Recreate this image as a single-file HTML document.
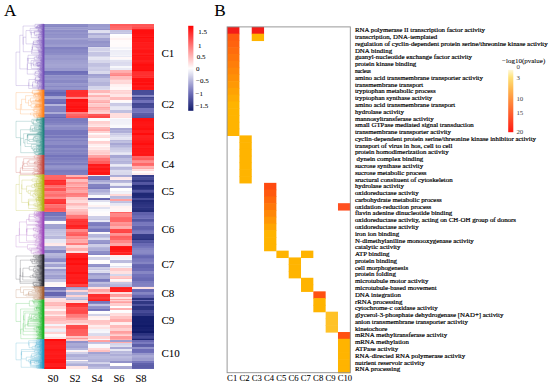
<!DOCTYPE html>
<html><head><meta charset="utf-8"><style>
html,body{margin:0;padding:0;background:#fff;}
svg{display:block;}
text{font-family:"Liberation Serif",serif;fill:#000;stroke:#000;stroke-width:0.06px;}
text.s{stroke-width:0.2px;}
</style></head><body>
<svg width="550" height="386" viewBox="0 0 550 386">
<rect width="550" height="386" fill="#fff"/>
<defs><linearGradient id="cbA" x1="0" y1="0" x2="0" y2="1"><stop offset="0.000" stop-color="#ff0101"/><stop offset="0.050" stop-color="#ff1b1b"/><stop offset="0.100" stop-color="#ff3434"/><stop offset="0.150" stop-color="#ff4d4d"/><stop offset="0.200" stop-color="#ff6666"/><stop offset="0.250" stop-color="#ff8080"/><stop offset="0.300" stop-color="#ff9999"/><stop offset="0.350" stop-color="#ffb2b2"/><stop offset="0.400" stop-color="#ffcbcb"/><stop offset="0.450" stop-color="#ffe4e4"/><stop offset="0.500" stop-color="#fffefe"/><stop offset="0.550" stop-color="#e7e7f3"/><stop offset="0.600" stop-color="#cecee7"/><stop offset="0.650" stop-color="#b5b5db"/><stop offset="0.700" stop-color="#9c9ccf"/><stop offset="0.750" stop-color="#8383c2"/><stop offset="0.800" stop-color="#6a6bb5"/><stop offset="0.850" stop-color="#5557a3"/><stop offset="0.900" stop-color="#3f4490"/><stop offset="0.950" stop-color="#29317e"/><stop offset="1.000" stop-color="#141d6b"/></linearGradient><linearGradient id="cbB" x1="0" y1="0" x2="0" y2="1"><stop offset="0" stop-color="#fff8d8"/><stop offset="0.12" stop-color="#ffe27a"/><stop offset="0.3" stop-color="#ffba52"/><stop offset="0.5" stop-color="#ff8c3c"/><stop offset="0.75" stop-color="#ff5428"/><stop offset="1" stop-color="#ff1a14"/></linearGradient></defs><rect x="188.2" y="25.8" width="5.2" height="85" fill="url(#cbA)"/><text x="198.3" y="34.00" font-size="7">1.5</text><text x="197.9" y="47.50" font-size="7">1</text><text x="196.7" y="59.20" font-size="7">0.5</text><text x="196" y="71.10" font-size="7">0</text><text x="196" y="83.20" font-size="7">−0.5</text><text x="195.6" y="96.00" font-size="7">−1</text><text x="195.5" y="107.60" font-size="7">−1.5</text><rect x="508.2" y="69.8" width="5.1" height="62.4" fill="url(#cbB)"/><text x="516.4" y="69.00" font-size="6.9" style="fill:#444;stroke:none">0</text><text x="516.4" y="79.60" font-size="6.9" style="fill:#444;stroke:none">3</text><text x="516.4" y="101.00" font-size="6.9" style="fill:#444;stroke:none">10</text><text x="516.4" y="115.00" font-size="6.9" style="fill:#444;stroke:none">15</text><text x="516.4" y="133.70" font-size="6.9" style="fill:#444;stroke:none">20</text><text x="502" y="63.3" font-size="7">−log10(pvalue)</text>
<g shape-rendering="crispEdges"><rect x="44.4" y="24.00" width="43.6" height="2.30" fill="#8d8dc7"/>
<rect x="44.4" y="26.00" width="43.6" height="1.30" fill="#8787c4"/>
<rect x="44.4" y="27.00" width="43.6" height="1.30" fill="#a0a0d0"/>
<rect x="44.4" y="28.00" width="43.6" height="1.30" fill="#9797cc"/>
<rect x="44.4" y="29.00" width="43.6" height="1.30" fill="#a2a2d1"/>
<rect x="44.4" y="30.00" width="43.6" height="1.80" fill="#8d8dc7"/>
<rect x="44.4" y="31.50" width="43.6" height="2.80" fill="#9595cb"/>
<rect x="44.4" y="34.00" width="43.6" height="1.30" fill="#8e8ec8"/>
<rect x="44.4" y="35.00" width="43.6" height="2.80" fill="#9393ca"/>
<rect x="44.4" y="37.50" width="43.6" height="1.30" fill="#a5a5d3"/>
<rect x="44.4" y="38.50" width="43.6" height="1.30" fill="#9e9ecf"/>
<rect x="44.4" y="39.50" width="43.6" height="2.80" fill="#9393ca"/>
<rect x="44.4" y="42.00" width="43.6" height="1.80" fill="#9393ca"/>
<rect x="44.4" y="43.50" width="43.6" height="1.80" fill="#9898cd"/>
<rect x="44.4" y="45.00" width="43.6" height="1.80" fill="#9d9dcf"/>
<rect x="44.4" y="46.50" width="43.6" height="0.80" fill="#9e9ecf"/>
<rect x="44.4" y="47.00" width="43.6" height="1.80" fill="#8080c1"/>
<rect x="44.4" y="48.50" width="43.6" height="1.80" fill="#8686c4"/>
<rect x="44.4" y="50.00" width="43.6" height="1.30" fill="#8989c5"/>
<rect x="44.4" y="51.00" width="43.6" height="1.80" fill="#8888c5"/>
<rect x="44.4" y="52.50" width="43.6" height="2.80" fill="#8e8ec8"/>
<rect x="44.4" y="55.00" width="43.6" height="2.80" fill="#9b9bce"/>
<rect x="44.4" y="57.50" width="43.6" height="2.80" fill="#9797cc"/>
<rect x="44.4" y="60.00" width="43.6" height="1.80" fill="#9f9fd0"/>
<rect x="44.4" y="61.50" width="43.6" height="0.80" fill="#9191c9"/>
<rect x="44.4" y="62.00" width="43.6" height="2.30" fill="#a1a1d1"/>
<rect x="44.4" y="64.00" width="43.6" height="2.30" fill="#a5a5d3"/>
<rect x="44.4" y="66.00" width="43.6" height="2.30" fill="#a3a3d2"/>
<rect x="44.4" y="68.00" width="43.6" height="1.30" fill="#9999cd"/>
<rect x="44.4" y="69.00" width="43.6" height="2.30" fill="#9a9ace"/>
<rect x="44.4" y="71.00" width="43.6" height="2.30" fill="#6e6eb8"/>
<rect x="44.4" y="73.00" width="43.6" height="2.30" fill="#7474bb"/>
<rect x="44.4" y="75.00" width="43.6" height="1.30" fill="#9898cc"/>
<rect x="44.4" y="76.00" width="43.6" height="2.30" fill="#8f8fc8"/>
<rect x="44.4" y="78.00" width="43.6" height="2.30" fill="#9494cb"/>
<rect x="44.4" y="80.00" width="43.6" height="2.80" fill="#8989c5"/>
<rect x="44.4" y="82.50" width="43.6" height="1.30" fill="#9b9bce"/>
<rect x="44.4" y="83.50" width="43.6" height="2.80" fill="#9696cc"/>
<rect x="44.4" y="86.00" width="43.6" height="1.30" fill="#8989c5"/>
<rect x="44.4" y="87.00" width="43.6" height="2.30" fill="#9595cb"/>
<rect x="44.4" y="89.00" width="43.6" height="1.10" fill="#8e8ec8"/>
<rect x="44.4" y="89.80" width="21.6" height="2.80" fill="#7676bc"/>
<rect x="44.4" y="92.30" width="21.6" height="2.30" fill="#6667b1"/>
<rect x="44.4" y="94.30" width="21.6" height="2.00" fill="#6b6cb6"/>
<rect x="44.4" y="96.00" width="21.6" height="1.30" fill="#a1a1d1"/>
<rect x="44.4" y="97.00" width="21.6" height="1.80" fill="#a6a6d4"/>
<rect x="44.4" y="98.50" width="21.6" height="0.80" fill="#a6a6d3"/>
<rect x="44.4" y="99.00" width="21.6" height="2.80" fill="#7373ba"/>
<rect x="44.4" y="101.50" width="21.6" height="2.80" fill="#6d6db7"/>
<rect x="44.4" y="104.00" width="21.6" height="2.30" fill="#b5b5db"/>
<rect x="44.4" y="106.00" width="21.6" height="2.30" fill="#8484c3"/>
<rect x="44.4" y="108.00" width="21.6" height="2.80" fill="#8484c3"/>
<rect x="44.4" y="110.50" width="21.6" height="1.80" fill="#8181c1"/>
<rect x="44.4" y="112.00" width="21.6" height="2.30" fill="#acacd6"/>
<rect x="44.4" y="114.00" width="21.6" height="2.80" fill="#7777bd"/>
<rect x="44.4" y="116.50" width="21.6" height="1.40" fill="#6767b2"/>
<rect x="44.4" y="117.60" width="43.6" height="1.80" fill="#7e7ec0"/>
<rect x="44.4" y="119.10" width="43.6" height="1.80" fill="#7a7abe"/>
<rect x="44.4" y="120.60" width="43.6" height="1.80" fill="#7f7fc0"/>
<rect x="44.4" y="122.10" width="43.6" height="1.30" fill="#7d7dbf"/>
<rect x="44.4" y="123.10" width="43.6" height="2.20" fill="#8686c4"/>
<rect x="44.4" y="125.00" width="43.6" height="2.30" fill="#9797cc"/>
<rect x="44.4" y="127.00" width="43.6" height="1.30" fill="#8d8dc7"/>
<rect x="44.4" y="128.00" width="43.6" height="2.30" fill="#8c8cc7"/>
<rect x="44.4" y="130.00" width="43.6" height="2.80" fill="#7777bd"/>
<rect x="44.4" y="132.50" width="43.6" height="2.80" fill="#7777bc"/>
<rect x="44.4" y="135.00" width="43.6" height="1.30" fill="#8989c5"/>
<rect x="44.4" y="136.00" width="43.6" height="2.30" fill="#7979bd"/>
<rect x="44.4" y="138.00" width="43.6" height="2.30" fill="#8d8dc7"/>
<rect x="44.4" y="140.00" width="43.6" height="1.30" fill="#8181c1"/>
<rect x="44.4" y="141.00" width="43.6" height="1.80" fill="#8c8cc7"/>
<rect x="44.4" y="142.50" width="43.6" height="2.30" fill="#8d8dc7"/>
<rect x="44.4" y="144.50" width="43.6" height="0.80" fill="#9393ca"/>
<rect x="44.4" y="145.00" width="43.6" height="2.80" fill="#7d7dbf"/>
<rect x="44.4" y="147.50" width="43.6" height="2.30" fill="#8d8dc7"/>
<rect x="44.4" y="149.50" width="43.6" height="2.30" fill="#8383c2"/>
<rect x="44.4" y="151.50" width="43.6" height="1.30" fill="#8b8bc6"/>
<rect x="44.4" y="152.50" width="43.6" height="2.80" fill="#8383c2"/>
<rect x="44.4" y="155.00" width="43.6" height="2.30" fill="#7474bb"/>
<rect x="44.4" y="157.00" width="43.6" height="1.30" fill="#8282c2"/>
<rect x="44.4" y="158.00" width="43.6" height="2.30" fill="#7c7cbf"/>
<rect x="44.4" y="160.00" width="43.6" height="1.80" fill="#8484c3"/>
<rect x="44.4" y="161.50" width="43.6" height="1.80" fill="#8d8dc7"/>
<rect x="44.4" y="163.00" width="43.6" height="2.30" fill="#7d7dbf"/>
<rect x="44.4" y="165.00" width="43.6" height="1.30" fill="#9090c9"/>
<rect x="44.4" y="166.00" width="43.6" height="2.30" fill="#9595cb"/>
<rect x="44.4" y="168.00" width="43.6" height="1.30" fill="#8f8fc8"/>
<rect x="44.4" y="169.00" width="43.6" height="1.30" fill="#8b8bc6"/>
<rect x="44.4" y="170.00" width="43.6" height="1.80" fill="#7a7abe"/>
<rect x="44.4" y="171.50" width="43.6" height="1.80" fill="#7d7dbf"/>
<rect x="44.4" y="173.00" width="43.6" height="1.90" fill="#7f7fc0"/>
<rect x="44.4" y="174.60" width="21.6" height="1.80" fill="#ff6767"/>
<rect x="44.4" y="176.10" width="21.6" height="1.20" fill="#ff6868"/>
<rect x="44.4" y="177.00" width="21.6" height="1.80" fill="#ff6565"/>
<rect x="44.4" y="178.50" width="21.6" height="1.80" fill="#ff6262"/>
<rect x="44.4" y="180.00" width="21.6" height="1.30" fill="#ff2929"/>
<rect x="44.4" y="181.00" width="21.6" height="2.30" fill="#ff3434"/>
<rect x="44.4" y="183.00" width="21.6" height="1.80" fill="#ff2f2f"/>
<rect x="44.4" y="184.50" width="21.6" height="0.80" fill="#ff3434"/>
<rect x="44.4" y="185.00" width="21.6" height="2.30" fill="#ff6b6b"/>
<rect x="44.4" y="187.00" width="21.6" height="1.30" fill="#ff7d7d"/>
<rect x="44.4" y="188.00" width="21.6" height="1.30" fill="#ff5656"/>
<rect x="44.4" y="189.00" width="21.6" height="1.80" fill="#ff5353"/>
<rect x="44.4" y="190.50" width="21.6" height="0.80" fill="#ff4e4e"/>
<rect x="44.4" y="191.00" width="21.6" height="1.30" fill="#ff8484"/>
<rect x="44.4" y="192.00" width="21.6" height="2.30" fill="#ff7d7d"/>
<rect x="44.4" y="194.00" width="21.6" height="1.30" fill="#ff6e6e"/>
<rect x="44.4" y="195.00" width="21.6" height="1.30" fill="#ff6c6c"/>
<rect x="44.4" y="196.00" width="21.6" height="1.30" fill="#ff7575"/>
<rect x="44.4" y="197.00" width="21.6" height="1.80" fill="#ff8c8c"/>
<rect x="44.4" y="198.50" width="21.6" height="0.80" fill="#ff9393"/>
<rect x="44.4" y="199.00" width="21.6" height="2.80" fill="#ff3b3b"/>
<rect x="44.4" y="201.50" width="21.6" height="1.30" fill="#ff3636"/>
<rect x="44.4" y="202.50" width="21.6" height="1.80" fill="#ff3030"/>
<rect x="44.4" y="204.00" width="21.6" height="1.30" fill="#ff7c7c"/>
<rect x="44.4" y="205.00" width="21.6" height="2.80" fill="#ff6e6e"/>
<rect x="44.4" y="207.50" width="21.6" height="0.80" fill="#ff7272"/>
<rect x="44.4" y="208.00" width="21.6" height="2.80" fill="#ff5c5c"/>
<rect x="44.4" y="210.50" width="21.6" height="1.30" fill="#ff6666"/>
<rect x="44.4" y="211.50" width="21.6" height="1.80" fill="#6c6cb6"/>
<rect x="44.4" y="213.00" width="21.6" height="1.30" fill="#7676bc"/>
<rect x="44.4" y="214.00" width="21.6" height="1.80" fill="#7474bb"/>
<rect x="44.4" y="215.50" width="21.6" height="1.80" fill="#9292c9"/>
<rect x="44.4" y="217.00" width="21.6" height="1.80" fill="#8181c2"/>
<rect x="44.4" y="218.50" width="21.6" height="1.80" fill="#8787c4"/>
<rect x="44.4" y="220.00" width="21.6" height="1.30" fill="#9090c9"/>
<rect x="44.4" y="221.00" width="21.6" height="2.30" fill="#fafafd"/>
<rect x="44.4" y="223.00" width="21.6" height="0.80" fill="#fff8f8"/>
<rect x="44.4" y="223.50" width="21.6" height="1.30" fill="#a2a2d1"/>
<rect x="44.4" y="224.50" width="21.6" height="2.30" fill="#a2a2d1"/>
<rect x="44.4" y="226.50" width="21.6" height="2.80" fill="#a0a0d1"/>
<rect x="44.4" y="229.00" width="21.6" height="1.80" fill="#bebedf"/>
<rect x="44.4" y="230.50" width="21.6" height="1.30" fill="#c5c5e3"/>
<rect x="44.4" y="231.50" width="21.6" height="1.80" fill="#c0c0e0"/>
<rect x="44.4" y="233.00" width="21.6" height="1.80" fill="#c6c6e3"/>
<rect x="44.4" y="234.50" width="21.6" height="1.80" fill="#cfcfe7"/>
<rect x="44.4" y="236.00" width="21.6" height="1.30" fill="#b8b8dc"/>
<rect x="44.4" y="237.00" width="21.6" height="2.30" fill="#babadd"/>
<rect x="44.4" y="239.00" width="21.6" height="2.80" fill="#e8e8f4"/>
<rect x="44.4" y="241.50" width="21.6" height="1.30" fill="#eaeaf5"/>
<rect x="44.4" y="242.50" width="21.6" height="1.30" fill="#ffe7e7"/>
<rect x="44.4" y="243.50" width="21.6" height="2.30" fill="#ffebeb"/>
<rect x="44.4" y="245.50" width="21.6" height="0.80" fill="#ffe2e2"/>
<rect x="44.4" y="246.00" width="21.6" height="1.30" fill="#b5b5db"/>
<rect x="44.4" y="247.00" width="21.6" height="1.30" fill="#aeaed7"/>
<rect x="44.4" y="248.00" width="21.6" height="1.80" fill="#b3b3da"/>
<rect x="44.4" y="249.50" width="21.6" height="0.80" fill="#afafd8"/>
<rect x="44.4" y="250.00" width="21.6" height="2.80" fill="#8484c3"/>
<rect x="44.4" y="252.50" width="21.6" height="0.80" fill="#8888c5"/>
<rect x="44.4" y="253.00" width="21.6" height="1.80" fill="#b8b8dc"/>
<rect x="44.4" y="254.50" width="21.6" height="1.80" fill="#b6b6db"/>
<rect x="44.4" y="256.00" width="21.6" height="1.80" fill="#aeaed7"/>
<rect x="44.4" y="257.50" width="21.6" height="0.80" fill="#aeaed7"/>
<rect x="44.4" y="258.00" width="21.6" height="1.30" fill="#9696cb"/>
<rect x="44.4" y="259.00" width="21.6" height="2.80" fill="#8a8ac6"/>
<rect x="44.4" y="261.50" width="21.6" height="0.80" fill="#9898cd"/>
<rect x="44.4" y="262.00" width="21.6" height="1.80" fill="#c7c7e3"/>
<rect x="44.4" y="263.50" width="21.6" height="0.80" fill="#b7b7dc"/>
<rect x="44.4" y="264.00" width="21.6" height="1.80" fill="#a3a3d2"/>
<rect x="44.4" y="265.50" width="21.6" height="1.80" fill="#9f9fd0"/>
<rect x="44.4" y="267.00" width="21.6" height="1.30" fill="#d9d9ec"/>
<rect x="44.4" y="268.00" width="21.6" height="1.30" fill="#d4d4ea"/>
<rect x="44.4" y="269.00" width="21.6" height="1.80" fill="#9a9acd"/>
<rect x="44.4" y="270.50" width="21.6" height="2.80" fill="#ababd6"/>
<rect x="44.4" y="273.00" width="21.6" height="2.30" fill="#b3b3da"/>
<rect x="44.4" y="275.00" width="21.6" height="1.80" fill="#9e9ecf"/>
<rect x="44.4" y="276.50" width="21.6" height="1.30" fill="#a5a5d3"/>
<rect x="44.4" y="277.50" width="21.6" height="1.30" fill="#9d9dcf"/>
<rect x="44.4" y="278.50" width="21.6" height="0.80" fill="#a0a0d0"/>
<rect x="44.4" y="279.00" width="21.6" height="1.30" fill="#c3c3e1"/>
<rect x="44.4" y="280.00" width="21.6" height="2.30" fill="#c5c5e3"/>
<rect x="44.4" y="282.00" width="21.6" height="1.30" fill="#f7f7fb"/>
<rect x="44.4" y="283.00" width="21.6" height="1.80" fill="#fff5f5"/>
<rect x="44.4" y="284.50" width="21.6" height="1.30" fill="#fff9f9"/>
<rect x="44.4" y="285.50" width="21.6" height="1.40" fill="#fffafa"/>
<rect x="44.4" y="286.60" width="21.6" height="1.80" fill="#6a6ab5"/>
<rect x="44.4" y="288.10" width="21.6" height="1.80" fill="#7474bb"/>
<rect x="44.4" y="289.60" width="21.6" height="0.70" fill="#6c6db7"/>
<rect x="44.4" y="290.00" width="21.6" height="2.30" fill="#9e9ecf"/>
<rect x="44.4" y="292.00" width="21.6" height="1.30" fill="#6465af"/>
<rect x="44.4" y="293.00" width="21.6" height="1.80" fill="#6667b2"/>
<rect x="44.4" y="294.50" width="21.6" height="1.30" fill="#6465af"/>
<rect x="44.4" y="295.50" width="21.6" height="0.80" fill="#6a6bb5"/>
<rect x="44.4" y="296.00" width="21.6" height="2.30" fill="#9898cd"/>
<rect x="44.4" y="298.00" width="21.6" height="1.80" fill="#ffe3e3"/>
<rect x="44.4" y="299.50" width="21.6" height="0.50" fill="#ffdcdc"/>
<rect x="44.4" y="299.70" width="21.6" height="2.30" fill="#ffdfdf"/>
<rect x="44.4" y="301.70" width="21.6" height="0.60" fill="#ffe0e0"/>
<rect x="44.4" y="302.00" width="21.6" height="2.30" fill="#ffbbbb"/>
<rect x="44.4" y="304.00" width="21.6" height="1.30" fill="#ffbdbd"/>
<rect x="44.4" y="305.00" width="21.6" height="1.30" fill="#ffb4b4"/>
<rect x="44.4" y="306.00" width="21.6" height="1.80" fill="#ffd8d8"/>
<rect x="44.4" y="307.50" width="21.6" height="1.80" fill="#ffd9d9"/>
<rect x="44.4" y="309.00" width="21.6" height="2.30" fill="#fff5f5"/>
<rect x="44.4" y="311.00" width="21.6" height="1.80" fill="#ffc9c9"/>
<rect x="44.4" y="312.50" width="21.6" height="1.80" fill="#ffc9c9"/>
<rect x="44.4" y="314.00" width="21.6" height="1.30" fill="#ffd8d8"/>
<rect x="44.4" y="315.00" width="21.6" height="1.30" fill="#ffecec"/>
<rect x="44.4" y="316.00" width="21.6" height="1.80" fill="#ffbdbd"/>
<rect x="44.4" y="317.50" width="21.6" height="1.80" fill="#ffb5b5"/>
<rect x="44.4" y="319.00" width="21.6" height="1.30" fill="#ffbaba"/>
<rect x="44.4" y="320.00" width="21.6" height="1.30" fill="#ffbaba"/>
<rect x="44.4" y="321.00" width="21.6" height="2.80" fill="#ffcaca"/>
<rect x="44.4" y="323.50" width="21.6" height="0.80" fill="#ffcfcf"/>
<rect x="44.4" y="324.00" width="21.6" height="1.80" fill="#f5f5fa"/>
<rect x="44.4" y="325.50" width="21.6" height="0.80" fill="#f6f6fb"/>
<rect x="44.4" y="326.00" width="21.6" height="2.30" fill="#ffd1d1"/>
<rect x="44.4" y="328.00" width="21.6" height="1.30" fill="#ffe4e4"/>
<rect x="44.4" y="329.00" width="21.6" height="2.30" fill="#efeff7"/>
<rect x="44.4" y="331.00" width="21.6" height="1.30" fill="#e8e8f4"/>
<rect x="44.4" y="332.00" width="21.6" height="2.30" fill="#ffd3d3"/>
<rect x="44.4" y="334.00" width="21.6" height="2.30" fill="#fffafa"/>
<rect x="44.4" y="336.00" width="21.6" height="0.80" fill="#f9f9fc"/>
<rect x="44.4" y="336.50" width="21.6" height="1.80" fill="#ffe2e2"/>
<rect x="44.4" y="338.00" width="21.6" height="1.50" fill="#ffe5e5"/>
<rect x="44.4" y="339.20" width="21.6" height="2.30" fill="#ff0c0c"/>
<rect x="44.4" y="341.20" width="21.6" height="2.30" fill="#ff1b1b"/>
<rect x="44.4" y="343.20" width="21.6" height="2.30" fill="#ff1c1c"/>
<rect x="44.4" y="345.20" width="21.6" height="1.80" fill="#ff2020"/>
<rect x="44.4" y="346.70" width="21.6" height="2.80" fill="#ff1e1e"/>
<rect x="44.4" y="349.20" width="21.6" height="2.30" fill="#ff1616"/>
<rect x="44.4" y="351.20" width="21.6" height="1.80" fill="#ff1b1b"/>
<rect x="44.4" y="352.70" width="21.6" height="1.30" fill="#ff1e1e"/>
<rect x="44.4" y="353.70" width="21.6" height="1.30" fill="#ff1d1d"/>
<rect x="44.4" y="354.70" width="21.6" height="1.30" fill="#ff1818"/>
<rect x="44.4" y="355.70" width="21.6" height="2.30" fill="#ff1a1a"/>
<rect x="44.4" y="357.70" width="21.6" height="1.80" fill="#ff1e1e"/>
<rect x="44.4" y="359.20" width="21.6" height="1.80" fill="#ff1313"/>
<rect x="44.4" y="360.70" width="21.6" height="2.80" fill="#ff1010"/>
<rect x="44.4" y="363.20" width="21.6" height="2.80" fill="#ff1d1d"/>
<rect x="44.4" y="365.70" width="21.6" height="1.80" fill="#ff1f1f"/>
<rect x="44.4" y="367.20" width="21.6" height="1.70" fill="#ff1111"/>
<rect x="66" y="89.80" width="22" height="2.80" fill="#ff3030"/>
<rect x="66" y="92.30" width="22" height="1.80" fill="#ff2d2d"/>
<rect x="66" y="93.80" width="22" height="2.80" fill="#ff2f2f"/>
<rect x="66" y="96.30" width="22" height="1.00" fill="#ff3636"/>
<rect x="66" y="97.00" width="22" height="2.30" fill="#ff8484"/>
<rect x="66" y="99.00" width="22" height="1.30" fill="#ff0d0d"/>
<rect x="66" y="100.00" width="22" height="1.80" fill="#ff1212"/>
<rect x="66" y="101.50" width="22" height="2.30" fill="#ff1b1b"/>
<rect x="66" y="103.50" width="22" height="1.30" fill="#ff1818"/>
<rect x="66" y="104.50" width="22" height="1.30" fill="#ff1919"/>
<rect x="66" y="105.50" width="22" height="2.80" fill="#ff1111"/>
<rect x="66" y="108.00" width="22" height="1.30" fill="#ff1a1a"/>
<rect x="66" y="109.00" width="22" height="1.30" fill="#ff0f0f"/>
<rect x="66" y="110.00" width="22" height="2.30" fill="#ff1313"/>
<rect x="66" y="112.00" width="22" height="1.80" fill="#ff8181"/>
<rect x="66" y="113.50" width="22" height="0.80" fill="#ff7d7d"/>
<rect x="66" y="114.00" width="22" height="2.30" fill="#ff6565"/>
<rect x="66" y="116.00" width="22" height="1.90" fill="#ff5959"/>
<rect x="66" y="174.60" width="22" height="2.70" fill="#ffb4b4"/>
<rect x="66" y="177.00" width="22" height="2.30" fill="#ff6969"/>
<rect x="66" y="179.00" width="22" height="2.80" fill="#ffbcbc"/>
<rect x="66" y="181.50" width="22" height="2.80" fill="#ff9797"/>
<rect x="66" y="184.00" width="22" height="1.80" fill="#ffa9a9"/>
<rect x="66" y="185.50" width="22" height="1.80" fill="#ffb6b6"/>
<rect x="66" y="187.00" width="22" height="1.30" fill="#ff8989"/>
<rect x="66" y="188.00" width="22" height="2.30" fill="#ff9a9a"/>
<rect x="66" y="190.00" width="22" height="1.30" fill="#ffaaaa"/>
<rect x="66" y="191.00" width="22" height="1.80" fill="#ffa6a6"/>
<rect x="66" y="192.50" width="22" height="0.80" fill="#ff9d9d"/>
<rect x="66" y="193.00" width="22" height="2.30" fill="#ff7a7a"/>
<rect x="66" y="195.00" width="22" height="2.30" fill="#ff8383"/>
<rect x="66" y="197.00" width="22" height="2.80" fill="#ffc8c8"/>
<rect x="66" y="199.50" width="22" height="0.80" fill="#ffd4d4"/>
<rect x="66" y="200.00" width="22" height="2.30" fill="#ffdada"/>
<rect x="66" y="202.00" width="22" height="1.30" fill="#ffdddd"/>
<rect x="66" y="203.00" width="22" height="1.80" fill="#ffb8b8"/>
<rect x="66" y="204.50" width="22" height="1.30" fill="#ffc7c7"/>
<rect x="66" y="205.50" width="22" height="0.80" fill="#ffb3b3"/>
<rect x="66" y="206.00" width="22" height="2.30" fill="#ffd8d8"/>
<rect x="66" y="208.00" width="22" height="1.30" fill="#ffe2e2"/>
<rect x="66" y="209.00" width="22" height="1.80" fill="#ffc4c4"/>
<rect x="66" y="210.50" width="22" height="1.30" fill="#ffbbbb"/>
<rect x="66" y="211.50" width="22" height="2.30" fill="#ffb1b1"/>
<rect x="66" y="213.50" width="22" height="1.80" fill="#ffa8a8"/>
<rect x="66" y="215.00" width="22" height="2.80" fill="#ff7676"/>
<rect x="66" y="217.50" width="22" height="1.80" fill="#ff6a6a"/>
<rect x="66" y="219.00" width="22" height="2.30" fill="#ff3939"/>
<rect x="66" y="221.00" width="22" height="1.30" fill="#ff2f2f"/>
<rect x="66" y="222.00" width="22" height="2.80" fill="#ff3636"/>
<rect x="66" y="224.50" width="22" height="0.80" fill="#ff3939"/>
<rect x="66" y="225.00" width="22" height="2.30" fill="#ff2020"/>
<rect x="66" y="227.00" width="22" height="1.30" fill="#ff2a2a"/>
<rect x="66" y="228.00" width="22" height="1.30" fill="#ff2828"/>
<rect x="66" y="229.00" width="22" height="1.80" fill="#ff8989"/>
<rect x="66" y="230.50" width="22" height="1.80" fill="#ff8888"/>
<rect x="66" y="232.00" width="22" height="2.30" fill="#ff6767"/>
<rect x="66" y="234.00" width="22" height="2.30" fill="#ff5c5c"/>
<rect x="66" y="236.00" width="22" height="1.80" fill="#ff9292"/>
<rect x="66" y="237.50" width="22" height="1.30" fill="#ff8989"/>
<rect x="66" y="238.50" width="22" height="0.80" fill="#ff8989"/>
<rect x="66" y="239.00" width="22" height="1.30" fill="#ffadad"/>
<rect x="66" y="240.00" width="22" height="1.80" fill="#ffa9a9"/>
<rect x="66" y="241.50" width="22" height="1.30" fill="#ffaeae"/>
<rect x="66" y="242.50" width="22" height="2.80" fill="#ff7b7b"/>
<rect x="66" y="245.00" width="22" height="2.30" fill="#ffd6d6"/>
<rect x="66" y="247.00" width="22" height="1.30" fill="#ffd2d2"/>
<rect x="66" y="248.00" width="22" height="2.30" fill="#ffaeae"/>
<rect x="66" y="250.00" width="22" height="1.30" fill="#ffb1b1"/>
<rect x="66" y="251.00" width="22" height="2.30" fill="#ffe2e2"/>
<rect x="66" y="253.00" width="22" height="1.80" fill="#ff2626"/>
<rect x="66" y="254.50" width="22" height="1.30" fill="#ff2020"/>
<rect x="66" y="255.50" width="22" height="2.30" fill="#ff1e1e"/>
<rect x="66" y="257.50" width="22" height="2.80" fill="#ff0d0d"/>
<rect x="66" y="260.00" width="22" height="1.30" fill="#ff1515"/>
<rect x="66" y="261.00" width="22" height="1.80" fill="#ff1818"/>
<rect x="66" y="262.50" width="22" height="2.30" fill="#ff0f0f"/>
<rect x="66" y="264.50" width="22" height="2.80" fill="#ff1e1e"/>
<rect x="66" y="267.00" width="22" height="2.80" fill="#ff1c1c"/>
<rect x="66" y="269.50" width="22" height="2.80" fill="#ff1c1c"/>
<rect x="66" y="272.00" width="22" height="2.30" fill="#ff1111"/>
<rect x="66" y="274.00" width="22" height="2.80" fill="#ff1f1f"/>
<rect x="66" y="276.50" width="22" height="2.80" fill="#ff1b1b"/>
<rect x="66" y="279.00" width="22" height="2.80" fill="#ff1f1f"/>
<rect x="66" y="281.50" width="22" height="1.30" fill="#ff1717"/>
<rect x="66" y="282.50" width="22" height="1.30" fill="#ff1b1b"/>
<rect x="66" y="283.50" width="22" height="0.80" fill="#ff0e0e"/>
<rect x="66" y="284.00" width="22" height="2.30" fill="#ff4444"/>
<rect x="66" y="286.00" width="22" height="0.90" fill="#ff3838"/>
<rect x="66" y="286.60" width="22" height="1.30" fill="#9c9cce"/>
<rect x="66" y="287.60" width="22" height="2.30" fill="#a9a9d5"/>
<rect x="66" y="289.60" width="22" height="0.70" fill="#9797cc"/>
<rect x="66" y="290.00" width="22" height="1.30" fill="#ffd6d6"/>
<rect x="66" y="291.00" width="22" height="1.30" fill="#ffd4d4"/>
<rect x="66" y="292.00" width="22" height="2.80" fill="#b8b8dc"/>
<rect x="66" y="294.50" width="22" height="0.80" fill="#b5b5db"/>
<rect x="66" y="295.00" width="22" height="2.30" fill="#ffd4d4"/>
<rect x="66" y="297.00" width="22" height="1.80" fill="#c6c6e3"/>
<rect x="66" y="298.50" width="22" height="1.50" fill="#b4b4da"/>
<rect x="66" y="299.70" width="22" height="2.30" fill="#ffdbdb"/>
<rect x="66" y="301.70" width="22" height="1.10" fill="#ffe0e0"/>
<rect x="66" y="302.50" width="22" height="2.30" fill="#ff2c2c"/>
<rect x="66" y="304.50" width="22" height="2.80" fill="#ff3636"/>
<rect x="66" y="307.00" width="22" height="1.30" fill="#ff5757"/>
<rect x="66" y="308.00" width="22" height="2.30" fill="#ff5252"/>
<rect x="66" y="310.00" width="22" height="1.80" fill="#ff4b4b"/>
<rect x="66" y="311.50" width="22" height="1.30" fill="#ff4949"/>
<rect x="66" y="312.50" width="22" height="1.80" fill="#ff5050"/>
<rect x="66" y="314.00" width="22" height="2.80" fill="#ff7b7b"/>
<rect x="66" y="316.50" width="22" height="1.30" fill="#ff8888"/>
<rect x="66" y="317.50" width="22" height="0.80" fill="#ff8989"/>
<rect x="66" y="318.00" width="22" height="2.30" fill="#ffa0a0"/>
<rect x="66" y="320.00" width="22" height="2.80" fill="#ffc4c4"/>
<rect x="66" y="322.50" width="22" height="0.80" fill="#ffbfbf"/>
<rect x="66" y="323.00" width="22" height="1.80" fill="#ffdddd"/>
<rect x="66" y="324.50" width="22" height="0.80" fill="#ffdcdc"/>
<rect x="66" y="325.00" width="22" height="2.30" fill="#ff4d4d"/>
<rect x="66" y="327.00" width="22" height="2.30" fill="#ff4b4b"/>
<rect x="66" y="329.00" width="22" height="2.30" fill="#ff5e5e"/>
<rect x="66" y="331.00" width="22" height="1.80" fill="#ff5e5e"/>
<rect x="66" y="332.50" width="22" height="0.80" fill="#ff5f5f"/>
<rect x="66" y="333.00" width="22" height="1.80" fill="#ff6262"/>
<rect x="66" y="334.50" width="22" height="1.30" fill="#ff6464"/>
<rect x="66" y="335.50" width="22" height="1.80" fill="#ffc5c5"/>
<rect x="66" y="337.00" width="22" height="1.30" fill="#ffc2c2"/>
<rect x="66" y="338.00" width="22" height="1.30" fill="#ff9696"/>
<rect x="66" y="339.00" width="22" height="0.50" fill="#ffa1a1"/>
<rect x="66" y="339.20" width="22" height="2.10" fill="#ffcbcb"/>
<rect x="66" y="341.00" width="22" height="1.80" fill="#9292ca"/>
<rect x="66" y="342.50" width="22" height="0.80" fill="#8282c2"/>
<rect x="66" y="343.00" width="22" height="2.30" fill="#aaaad5"/>
<rect x="66" y="345.00" width="22" height="1.30" fill="#a9a9d5"/>
<rect x="66" y="346.00" width="22" height="1.80" fill="#a2a2d2"/>
<rect x="66" y="347.50" width="22" height="0.80" fill="#9a9acd"/>
<rect x="66" y="348.00" width="22" height="1.80" fill="#b5b5db"/>
<rect x="66" y="349.50" width="22" height="0.80" fill="#bcbcde"/>
<rect x="66" y="350.00" width="22" height="1.30" fill="#f7f7fb"/>
<rect x="66" y="351.00" width="22" height="1.30" fill="#ffefef"/>
<rect x="66" y="352.00" width="22" height="2.30" fill="#d0d0e8"/>
<rect x="66" y="354.00" width="22" height="1.30" fill="#b0b0d9"/>
<rect x="66" y="355.00" width="22" height="2.30" fill="#adadd7"/>
<rect x="66" y="357.00" width="22" height="1.80" fill="#bdbddf"/>
<rect x="66" y="358.50" width="22" height="1.80" fill="#b5b5db"/>
<rect x="66" y="360.00" width="22" height="1.30" fill="#fff7f7"/>
<rect x="66" y="361.00" width="22" height="2.30" fill="#cbcbe6"/>
<rect x="66" y="363.00" width="22" height="1.30" fill="#bcbcde"/>
<rect x="66" y="364.00" width="22" height="2.30" fill="#aeaed7"/>
<rect x="66" y="366.00" width="22" height="1.30" fill="#ffe3e3"/>
<rect x="66" y="367.00" width="22" height="1.80" fill="#ffe6e6"/>
<rect x="66" y="368.50" width="22" height="0.40" fill="#ffe6e6"/>
<rect x="88" y="24.00" width="22" height="2.80" fill="#9b9bce"/>
<rect x="88" y="26.50" width="22" height="2.80" fill="#a1a1d1"/>
<rect x="88" y="29.00" width="22" height="1.30" fill="#9595cb"/>
<rect x="88" y="30.00" width="22" height="1.30" fill="#dedeef"/>
<rect x="88" y="31.00" width="22" height="1.90" fill="#e0e0f0"/>
<rect x="88" y="32.60" width="22" height="1.30" fill="#afafd8"/>
<rect x="88" y="33.60" width="22" height="1.90" fill="#ababd6"/>
<rect x="88" y="35.20" width="22" height="2.80" fill="#c2c2e1"/>
<rect x="88" y="37.70" width="22" height="0.60" fill="#c7c7e3"/>
<rect x="88" y="38.00" width="22" height="2.80" fill="#a2a2d1"/>
<rect x="88" y="40.50" width="22" height="2.80" fill="#9292c9"/>
<rect x="88" y="43.00" width="22" height="1.30" fill="#9898cc"/>
<rect x="88" y="44.00" width="22" height="2.30" fill="#9999cd"/>
<rect x="88" y="46.00" width="22" height="1.30" fill="#9292ca"/>
<rect x="88" y="47.00" width="22" height="1.30" fill="#dcdcee"/>
<rect x="88" y="48.00" width="22" height="2.80" fill="#d2d2e9"/>
<rect x="88" y="50.50" width="22" height="1.80" fill="#e0e0f0"/>
<rect x="88" y="52.00" width="22" height="1.80" fill="#c5c5e3"/>
<rect x="88" y="53.50" width="22" height="2.30" fill="#c5c5e3"/>
<rect x="88" y="55.50" width="22" height="1.80" fill="#d5d5ea"/>
<rect x="88" y="57.00" width="22" height="1.30" fill="#e7e7f3"/>
<rect x="88" y="58.00" width="22" height="1.80" fill="#e5e5f2"/>
<rect x="88" y="59.50" width="22" height="0.80" fill="#f3f3f9"/>
<rect x="88" y="60.00" width="22" height="2.80" fill="#d7d7eb"/>
<rect x="88" y="62.50" width="22" height="0.80" fill="#d2d2e9"/>
<rect x="88" y="63.00" width="22" height="1.80" fill="#c1c1e0"/>
<rect x="88" y="64.50" width="22" height="1.80" fill="#c0c0e0"/>
<rect x="88" y="66.00" width="22" height="1.30" fill="#c4c4e2"/>
<rect x="88" y="67.00" width="22" height="1.80" fill="#cecee7"/>
<rect x="88" y="68.50" width="22" height="1.30" fill="#cacae5"/>
<rect x="88" y="69.50" width="22" height="1.80" fill="#cacae5"/>
<rect x="88" y="71.00" width="22" height="1.30" fill="#dbdbed"/>
<rect x="88" y="72.00" width="22" height="1.80" fill="#d9d9ec"/>
<rect x="88" y="73.50" width="22" height="0.80" fill="#e5e5f2"/>
<rect x="88" y="74.00" width="22" height="2.30" fill="#a0a0d1"/>
<rect x="88" y="76.00" width="22" height="2.30" fill="#a9a9d5"/>
<rect x="88" y="78.00" width="22" height="2.30" fill="#c1c1e1"/>
<rect x="88" y="80.00" width="22" height="2.30" fill="#bfbfe0"/>
<rect x="88" y="82.00" width="22" height="2.80" fill="#b4b4da"/>
<rect x="88" y="84.50" width="22" height="1.80" fill="#b5b5db"/>
<rect x="88" y="86.00" width="22" height="2.80" fill="#d4d4ea"/>
<rect x="88" y="88.50" width="22" height="1.30" fill="#ddddee"/>
<rect x="88" y="89.50" width="22" height="0.60" fill="#dadaed"/>
<rect x="88" y="89.80" width="22" height="2.80" fill="#ffb8b8"/>
<rect x="88" y="92.30" width="22" height="1.00" fill="#ffb7b7"/>
<rect x="88" y="93.00" width="22" height="2.30" fill="#ffe4e4"/>
<rect x="88" y="95.00" width="22" height="1.30" fill="#ffb6b6"/>
<rect x="88" y="96.00" width="22" height="1.30" fill="#ffb2b2"/>
<rect x="88" y="97.00" width="22" height="2.80" fill="#ffd3d3"/>
<rect x="88" y="99.50" width="22" height="0.80" fill="#ffdddd"/>
<rect x="88" y="100.00" width="22" height="1.80" fill="#ffb7b7"/>
<rect x="88" y="101.50" width="22" height="1.80" fill="#ffa9a9"/>
<rect x="88" y="103.00" width="22" height="1.30" fill="#ffd5d5"/>
<rect x="88" y="104.00" width="22" height="2.80" fill="#ffc9c9"/>
<rect x="88" y="106.50" width="22" height="0.80" fill="#ffd6d6"/>
<rect x="88" y="107.00" width="22" height="1.30" fill="#ffa5a5"/>
<rect x="88" y="108.00" width="22" height="1.30" fill="#ffb5b5"/>
<rect x="88" y="109.00" width="22" height="1.30" fill="#ffb3b3"/>
<rect x="88" y="110.00" width="22" height="1.80" fill="#ffc8c8"/>
<rect x="88" y="111.50" width="22" height="1.80" fill="#ffd5d5"/>
<rect x="88" y="113.00" width="22" height="1.30" fill="#ffcaca"/>
<rect x="88" y="114.00" width="22" height="2.30" fill="#ff5757"/>
<rect x="88" y="116.00" width="22" height="1.90" fill="#ff4848"/>
<rect x="88" y="117.60" width="22" height="0.70" fill="#ff4949"/>
<rect x="88" y="118.00" width="22" height="2.80" fill="#fdfdfe"/>
<rect x="88" y="120.50" width="22" height="0.80" fill="#fff8f8"/>
<rect x="88" y="121.00" width="22" height="1.80" fill="#ffd0d0"/>
<rect x="88" y="122.50" width="22" height="1.30" fill="#ffd2d2"/>
<rect x="88" y="123.50" width="22" height="0.80" fill="#ffd3d3"/>
<rect x="88" y="124.00" width="22" height="2.30" fill="#ffdede"/>
<rect x="88" y="126.00" width="22" height="1.30" fill="#ffe9e9"/>
<rect x="88" y="127.00" width="22" height="2.30" fill="#ffb7b7"/>
<rect x="88" y="129.00" width="22" height="1.30" fill="#ffacac"/>
<rect x="88" y="130.00" width="22" height="1.30" fill="#ffa5a5"/>
<rect x="88" y="131.00" width="22" height="2.30" fill="#ffd2d2"/>
<rect x="88" y="133.00" width="22" height="1.30" fill="#fffdfd"/>
<rect x="88" y="134.00" width="22" height="1.30" fill="#fff3f3"/>
<rect x="88" y="135.00" width="22" height="2.30" fill="#ffdfdf"/>
<rect x="88" y="137.00" width="22" height="1.30" fill="#ffd9d9"/>
<rect x="88" y="138.00" width="22" height="2.30" fill="#fffefe"/>
<rect x="88" y="140.00" width="22" height="1.30" fill="#fffcfc"/>
<rect x="88" y="141.00" width="22" height="1.80" fill="#ffd1d1"/>
<rect x="88" y="142.50" width="22" height="1.30" fill="#ffd7d7"/>
<rect x="88" y="143.50" width="22" height="0.80" fill="#ffd7d7"/>
<rect x="88" y="144.00" width="22" height="2.30" fill="#ffefef"/>
<rect x="88" y="146.00" width="22" height="1.30" fill="#fff9f9"/>
<rect x="88" y="147.00" width="22" height="2.30" fill="#ffe7e7"/>
<rect x="88" y="149.00" width="22" height="1.30" fill="#ffebeb"/>
<rect x="88" y="150.00" width="22" height="2.30" fill="#ffd3d3"/>
<rect x="88" y="152.00" width="22" height="1.80" fill="#ffcccc"/>
<rect x="88" y="153.50" width="22" height="1.30" fill="#ffd6d6"/>
<rect x="88" y="154.50" width="22" height="0.80" fill="#ffcbcb"/>
<rect x="88" y="155.00" width="22" height="2.30" fill="#ffa1a1"/>
<rect x="88" y="157.00" width="22" height="1.30" fill="#ff9898"/>
<rect x="88" y="158.00" width="22" height="2.80" fill="#ff7373"/>
<rect x="88" y="160.50" width="22" height="0.80" fill="#ff7b7b"/>
<rect x="88" y="161.00" width="22" height="2.80" fill="#ff5e5e"/>
<rect x="88" y="163.50" width="22" height="0.80" fill="#ff4f4f"/>
<rect x="88" y="164.00" width="22" height="1.80" fill="#ff1919"/>
<rect x="88" y="165.50" width="22" height="2.80" fill="#ff2525"/>
<rect x="88" y="168.00" width="22" height="1.80" fill="#ff1616"/>
<rect x="88" y="169.50" width="22" height="2.30" fill="#ff1f1f"/>
<rect x="88" y="171.50" width="22" height="2.30" fill="#ff1414"/>
<rect x="88" y="173.50" width="22" height="1.30" fill="#ff1a1a"/>
<rect x="88" y="174.50" width="22" height="0.40" fill="#ff1b1b"/>
<rect x="88" y="174.60" width="22" height="1.70" fill="#ffeeee"/>
<rect x="88" y="176.00" width="22" height="2.80" fill="#7777bd"/>
<rect x="88" y="178.50" width="22" height="1.30" fill="#7373bb"/>
<rect x="88" y="179.50" width="22" height="0.80" fill="#7b7bbe"/>
<rect x="88" y="180.00" width="22" height="1.80" fill="#a8a8d5"/>
<rect x="88" y="181.50" width="22" height="0.80" fill="#a5a5d3"/>
<rect x="88" y="182.00" width="22" height="1.80" fill="#bebedf"/>
<rect x="88" y="183.50" width="22" height="0.80" fill="#c5c5e3"/>
<rect x="88" y="184.00" width="22" height="2.80" fill="#8383c2"/>
<rect x="88" y="186.50" width="22" height="1.80" fill="#7d7dbf"/>
<rect x="88" y="188.00" width="22" height="1.30" fill="#7878bd"/>
<rect x="88" y="189.00" width="22" height="1.30" fill="#b2b2d9"/>
<rect x="88" y="190.00" width="22" height="2.30" fill="#acacd7"/>
<rect x="88" y="192.00" width="22" height="1.30" fill="#bbbbde"/>
<rect x="88" y="193.00" width="22" height="2.30" fill="#c3c3e1"/>
<rect x="88" y="195.00" width="22" height="2.80" fill="#f9f9fc"/>
<rect x="88" y="197.50" width="22" height="0.80" fill="#fbfbfd"/>
<rect x="88" y="198.00" width="22" height="1.30" fill="#6465af"/>
<rect x="88" y="199.00" width="22" height="0.80" fill="#6162ad"/>
<rect x="88" y="199.50" width="22" height="2.30" fill="#dfdfef"/>
<rect x="88" y="201.50" width="22" height="0.80" fill="#dedeef"/>
<rect x="88" y="202.00" width="22" height="2.80" fill="#fcfcfd"/>
<rect x="88" y="204.50" width="22" height="0.80" fill="#f4f4f9"/>
<rect x="88" y="205.00" width="22" height="1.80" fill="#fff2f2"/>
<rect x="88" y="206.50" width="22" height="0.80" fill="#fff0f0"/>
<rect x="88" y="207.00" width="22" height="1.80" fill="#e2e2f1"/>
<rect x="88" y="208.50" width="22" height="0.80" fill="#e4e4f2"/>
<rect x="88" y="209.00" width="22" height="2.30" fill="#f9f9fc"/>
<rect x="88" y="211.00" width="22" height="0.80" fill="#fcfcfd"/>
<rect x="88" y="211.50" width="22" height="1.80" fill="#fffdfd"/>
<rect x="88" y="213.00" width="22" height="2.80" fill="#fffbfb"/>
<rect x="88" y="215.50" width="22" height="0.80" fill="#fff3f3"/>
<rect x="88" y="216.00" width="22" height="2.80" fill="#cecee7"/>
<rect x="88" y="218.50" width="22" height="1.30" fill="#c6c6e3"/>
<rect x="88" y="219.50" width="22" height="2.30" fill="#e8e8f4"/>
<rect x="88" y="221.50" width="22" height="0.80" fill="#e4e4f2"/>
<rect x="88" y="222.00" width="22" height="1.30" fill="#8585c3"/>
<rect x="88" y="223.00" width="22" height="1.80" fill="#7d7dbf"/>
<rect x="88" y="224.50" width="22" height="1.30" fill="#7c7cbf"/>
<rect x="88" y="225.50" width="22" height="0.80" fill="#8181c1"/>
<rect x="88" y="226.00" width="22" height="1.80" fill="#9696cc"/>
<rect x="88" y="227.50" width="22" height="1.30" fill="#8989c5"/>
<rect x="88" y="228.50" width="22" height="0.80" fill="#9696cc"/>
<rect x="88" y="229.00" width="22" height="1.30" fill="#7474bb"/>
<rect x="88" y="230.00" width="22" height="2.30" fill="#7676bc"/>
<rect x="88" y="232.00" width="22" height="1.30" fill="#fff7f7"/>
<rect x="88" y="233.00" width="22" height="1.30" fill="#f7f7fb"/>
<rect x="88" y="234.00" width="22" height="1.80" fill="#b8b8dc"/>
<rect x="88" y="235.50" width="22" height="1.30" fill="#b4b4da"/>
<rect x="88" y="236.50" width="22" height="1.30" fill="#c4c4e2"/>
<rect x="88" y="237.50" width="22" height="0.80" fill="#bdbddf"/>
<rect x="88" y="238.00" width="22" height="1.80" fill="#dadaed"/>
<rect x="88" y="239.50" width="22" height="0.80" fill="#dedeef"/>
<rect x="88" y="240.00" width="22" height="2.30" fill="#9898cd"/>
<rect x="88" y="242.00" width="22" height="1.30" fill="#9696cc"/>
<rect x="88" y="243.00" width="22" height="1.30" fill="#9090c9"/>
<rect x="88" y="244.00" width="22" height="2.30" fill="#cdcde7"/>
<rect x="88" y="246.00" width="22" height="1.30" fill="#cccce6"/>
<rect x="88" y="247.00" width="22" height="1.30" fill="#b5b5db"/>
<rect x="88" y="248.00" width="22" height="1.30" fill="#aeaed7"/>
<rect x="88" y="249.00" width="22" height="1.30" fill="#acacd6"/>
<rect x="88" y="250.00" width="22" height="1.30" fill="#b0b0d8"/>
<rect x="88" y="251.00" width="22" height="1.80" fill="#8f8fc8"/>
<rect x="88" y="252.50" width="22" height="1.30" fill="#8d8dc7"/>
<rect x="88" y="253.50" width="22" height="1.30" fill="#8484c3"/>
<rect x="88" y="254.50" width="22" height="1.30" fill="#ffffff"/>
<rect x="88" y="255.50" width="22" height="1.80" fill="#fffafa"/>
<rect x="88" y="257.00" width="22" height="1.30" fill="#d1d1e8"/>
<rect x="88" y="258.00" width="22" height="2.30" fill="#d3d3e9"/>
<rect x="88" y="260.00" width="22" height="1.80" fill="#fffdfd"/>
<rect x="88" y="261.50" width="22" height="2.30" fill="#fffdfd"/>
<rect x="88" y="263.50" width="22" height="2.30" fill="#9494cb"/>
<rect x="88" y="265.50" width="22" height="1.80" fill="#8e8ec8"/>
<rect x="88" y="267.00" width="22" height="1.80" fill="#cecee7"/>
<rect x="88" y="268.50" width="22" height="1.80" fill="#c5c5e3"/>
<rect x="88" y="270.00" width="22" height="1.30" fill="#e4e4f2"/>
<rect x="88" y="271.00" width="22" height="1.30" fill="#dbdbed"/>
<rect x="88" y="272.00" width="22" height="1.30" fill="#ddddef"/>
<rect x="88" y="273.00" width="22" height="2.30" fill="#9999cd"/>
<rect x="88" y="275.00" width="22" height="1.30" fill="#a9a9d5"/>
<rect x="88" y="276.00" width="22" height="1.30" fill="#aeaed7"/>
<rect x="88" y="277.00" width="22" height="1.30" fill="#adadd7"/>
<rect x="88" y="278.00" width="22" height="1.30" fill="#aaaad6"/>
<rect x="88" y="279.00" width="22" height="1.80" fill="#7a7abe"/>
<rect x="88" y="280.50" width="22" height="1.30" fill="#8686c4"/>
<rect x="88" y="281.50" width="22" height="1.80" fill="#bebedf"/>
<rect x="88" y="283.00" width="22" height="1.30" fill="#bbbbde"/>
<rect x="88" y="284.00" width="22" height="2.30" fill="#a8a8d5"/>
<rect x="88" y="286.00" width="22" height="0.90" fill="#ababd6"/>
<rect x="88" y="286.60" width="22" height="2.30" fill="#ffe1e1"/>
<rect x="88" y="288.60" width="22" height="0.70" fill="#ffd7d7"/>
<rect x="88" y="289.00" width="22" height="2.30" fill="#ffa6a6"/>
<rect x="88" y="291.00" width="22" height="1.30" fill="#ffabab"/>
<rect x="88" y="292.00" width="22" height="1.80" fill="#ffcccc"/>
<rect x="88" y="293.50" width="22" height="0.80" fill="#ffd0d0"/>
<rect x="88" y="294.00" width="22" height="1.80" fill="#ff2e2e"/>
<rect x="88" y="295.50" width="22" height="1.80" fill="#ff2e2e"/>
<rect x="88" y="297.00" width="22" height="2.30" fill="#ff3a3a"/>
<rect x="88" y="299.00" width="22" height="1.00" fill="#ff2a2a"/>
<rect x="88" y="299.70" width="22" height="1.10" fill="#ff1b1b"/>
<rect x="88" y="300.50" width="22" height="1.30" fill="#7676bc"/>
<rect x="88" y="301.50" width="22" height="1.30" fill="#7676bc"/>
<rect x="88" y="302.50" width="22" height="1.30" fill="#8686c4"/>
<rect x="88" y="303.50" width="22" height="2.30" fill="#c2c2e1"/>
<rect x="88" y="305.50" width="22" height="0.80" fill="#b9b9dd"/>
<rect x="88" y="306.00" width="22" height="1.30" fill="#9595cb"/>
<rect x="88" y="307.00" width="22" height="1.30" fill="#8e8ec8"/>
<rect x="88" y="308.00" width="22" height="1.30" fill="#9292c9"/>
<rect x="88" y="309.00" width="22" height="1.30" fill="#7373bb"/>
<rect x="88" y="310.00" width="22" height="1.30" fill="#7979bd"/>
<rect x="88" y="311.00" width="22" height="2.30" fill="#fefeff"/>
<rect x="88" y="313.00" width="22" height="1.30" fill="#fafafd"/>
<rect x="88" y="314.00" width="22" height="2.30" fill="#d1d1e8"/>
<rect x="88" y="316.00" width="22" height="1.80" fill="#ffefef"/>
<rect x="88" y="317.50" width="22" height="2.80" fill="#fff4f4"/>
<rect x="88" y="320.00" width="22" height="2.80" fill="#ffc5c5"/>
<rect x="88" y="322.50" width="22" height="1.80" fill="#ffc8c8"/>
<rect x="88" y="324.00" width="22" height="1.30" fill="#ffcdcd"/>
<rect x="88" y="325.00" width="22" height="2.30" fill="#ffeeee"/>
<rect x="88" y="327.00" width="22" height="1.30" fill="#ffe1e1"/>
<rect x="88" y="328.00" width="22" height="1.30" fill="#ffe3e3"/>
<rect x="88" y="329.00" width="22" height="1.80" fill="#f3f3f9"/>
<rect x="88" y="330.50" width="22" height="2.80" fill="#f7f7fb"/>
<rect x="88" y="333.00" width="22" height="1.30" fill="#ddddee"/>
<rect x="88" y="334.00" width="22" height="2.30" fill="#dbdbed"/>
<rect x="88" y="336.00" width="22" height="1.80" fill="#ffd3d3"/>
<rect x="88" y="337.50" width="22" height="2.00" fill="#ffd5d5"/>
<rect x="88" y="339.20" width="22" height="1.10" fill="#f7f7fb"/>
<rect x="88" y="340.00" width="22" height="1.30" fill="#ffa2a2"/>
<rect x="88" y="341.00" width="22" height="0.80" fill="#ffa0a0"/>
<rect x="88" y="341.50" width="22" height="1.80" fill="#bebedf"/>
<rect x="88" y="343.00" width="22" height="1.30" fill="#c5c5e3"/>
<rect x="88" y="344.00" width="22" height="2.80" fill="#f9f9fc"/>
<rect x="88" y="346.50" width="22" height="1.80" fill="#f8f8fc"/>
<rect x="88" y="348.00" width="22" height="2.30" fill="#ffdada"/>
<rect x="88" y="350.00" width="22" height="1.80" fill="#ffc0c0"/>
<rect x="88" y="351.50" width="22" height="2.80" fill="#a2a2d2"/>
<rect x="88" y="354.00" width="22" height="1.80" fill="#b4b4da"/>
<rect x="88" y="355.50" width="22" height="1.30" fill="#bbbbde"/>
<rect x="88" y="356.50" width="22" height="2.30" fill="#b9b9dd"/>
<rect x="88" y="358.50" width="22" height="2.30" fill="#b2b2d9"/>
<rect x="88" y="360.50" width="22" height="1.80" fill="#aeaed7"/>
<rect x="88" y="362.00" width="22" height="1.30" fill="#d2d2e9"/>
<rect x="88" y="363.00" width="22" height="1.30" fill="#d6d6eb"/>
<rect x="88" y="364.00" width="22" height="2.30" fill="#aaaad5"/>
<rect x="88" y="366.00" width="22" height="1.30" fill="#b1b1d9"/>
<rect x="88" y="367.00" width="22" height="1.90" fill="#bfbfe0"/>
<rect x="110" y="24.00" width="22" height="1.80" fill="#ff5c5c"/>
<rect x="110" y="25.50" width="22" height="2.80" fill="#ff6767"/>
<rect x="110" y="28.00" width="22" height="1.80" fill="#ff6e6e"/>
<rect x="110" y="29.50" width="22" height="0.80" fill="#ff6060"/>
<rect x="110" y="30.00" width="22" height="1.80" fill="#c4c4e2"/>
<rect x="110" y="31.50" width="22" height="1.80" fill="#cbcbe6"/>
<rect x="110" y="33.00" width="22" height="0.80" fill="#c2c2e1"/>
<rect x="110" y="33.50" width="22" height="2.80" fill="#fefeff"/>
<rect x="110" y="36.00" width="22" height="2.30" fill="#fffafa"/>
<rect x="110" y="38.00" width="22" height="1.80" fill="#fff2f2"/>
<rect x="110" y="39.50" width="22" height="2.80" fill="#fffbfb"/>
<rect x="110" y="42.00" width="22" height="1.80" fill="#fffcfc"/>
<rect x="110" y="43.50" width="22" height="0.80" fill="#fff4f4"/>
<rect x="110" y="44.00" width="22" height="2.80" fill="#fffbfb"/>
<rect x="110" y="46.50" width="22" height="2.80" fill="#f5f5fa"/>
<rect x="110" y="49.00" width="22" height="1.30" fill="#fcfcfe"/>
<rect x="110" y="50.00" width="22" height="2.30" fill="#ededf6"/>
<rect x="110" y="52.00" width="22" height="2.80" fill="#efeff7"/>
<rect x="110" y="54.50" width="22" height="1.30" fill="#f4f4f9"/>
<rect x="110" y="55.50" width="22" height="1.80" fill="#e9e9f4"/>
<rect x="110" y="57.00" width="22" height="2.30" fill="#fff8f8"/>
<rect x="110" y="59.00" width="22" height="1.30" fill="#f7f7fb"/>
<rect x="110" y="60.00" width="22" height="2.30" fill="#e1e1f0"/>
<rect x="110" y="62.00" width="22" height="1.80" fill="#dbdbee"/>
<rect x="110" y="63.50" width="22" height="2.30" fill="#ddddef"/>
<rect x="110" y="65.50" width="22" height="0.80" fill="#dedeef"/>
<rect x="110" y="66.00" width="22" height="1.80" fill="#f7f7fb"/>
<rect x="110" y="67.50" width="22" height="2.30" fill="#e9e9f4"/>
<rect x="110" y="69.50" width="22" height="0.80" fill="#efeff7"/>
<rect x="110" y="70.00" width="22" height="1.80" fill="#ffaeae"/>
<rect x="110" y="71.50" width="22" height="1.80" fill="#ffabab"/>
<rect x="110" y="73.00" width="22" height="1.80" fill="#ff9090"/>
<rect x="110" y="74.50" width="22" height="1.80" fill="#ff8484"/>
<rect x="110" y="76.00" width="22" height="1.80" fill="#ffbbbb"/>
<rect x="110" y="77.50" width="22" height="1.30" fill="#ffbaba"/>
<rect x="110" y="78.50" width="22" height="1.80" fill="#ffc4c4"/>
<rect x="110" y="80.00" width="22" height="1.80" fill="#ffdada"/>
<rect x="110" y="81.50" width="22" height="2.80" fill="#ffd7d7"/>
<rect x="110" y="84.00" width="22" height="1.30" fill="#ffefef"/>
<rect x="110" y="85.00" width="22" height="2.30" fill="#fff2f2"/>
<rect x="110" y="87.00" width="22" height="1.80" fill="#fff8f8"/>
<rect x="110" y="88.50" width="22" height="1.30" fill="#fff8f8"/>
<rect x="110" y="89.50" width="22" height="0.60" fill="#fff4f4"/>
<rect x="110" y="89.80" width="22" height="1.80" fill="#ffd3d3"/>
<rect x="110" y="91.30" width="22" height="1.30" fill="#ffdada"/>
<rect x="110" y="92.30" width="22" height="2.00" fill="#ffd4d4"/>
<rect x="110" y="94.00" width="22" height="2.80" fill="#ffe6e6"/>
<rect x="110" y="96.50" width="22" height="0.80" fill="#ffecec"/>
<rect x="110" y="97.00" width="22" height="2.80" fill="#ffbbbb"/>
<rect x="110" y="99.50" width="22" height="0.80" fill="#ffcbcb"/>
<rect x="110" y="100.00" width="22" height="2.30" fill="#fff9f9"/>
<rect x="110" y="102.00" width="22" height="1.30" fill="#f8f8fc"/>
<rect x="110" y="103.00" width="22" height="1.30" fill="#c9c9e4"/>
<rect x="110" y="104.00" width="22" height="2.30" fill="#cbcbe6"/>
<rect x="110" y="106.00" width="22" height="1.30" fill="#e2e2f1"/>
<rect x="110" y="107.00" width="22" height="2.80" fill="#e7e7f3"/>
<rect x="110" y="109.50" width="22" height="0.80" fill="#d9d9ec"/>
<rect x="110" y="110.00" width="22" height="2.80" fill="#c0c0e0"/>
<rect x="110" y="112.50" width="22" height="0.80" fill="#b6b6db"/>
<rect x="110" y="113.00" width="22" height="2.30" fill="#ffdede"/>
<rect x="110" y="115.00" width="22" height="1.80" fill="#ffdfdf"/>
<rect x="110" y="116.50" width="22" height="1.40" fill="#ffdcdc"/>
<rect x="110" y="117.60" width="22" height="1.30" fill="#fafafd"/>
<rect x="110" y="118.60" width="22" height="2.30" fill="#f0f0f8"/>
<rect x="110" y="120.60" width="22" height="1.70" fill="#f1f1f8"/>
<rect x="110" y="122.00" width="22" height="2.30" fill="#f1f1f8"/>
<rect x="110" y="124.00" width="22" height="1.30" fill="#f3f3f9"/>
<rect x="110" y="125.00" width="22" height="2.80" fill="#f9f9fc"/>
<rect x="110" y="127.50" width="22" height="0.80" fill="#ededf6"/>
<rect x="110" y="128.00" width="22" height="2.30" fill="#a8a8d4"/>
<rect x="110" y="130.00" width="22" height="1.30" fill="#b5b5db"/>
<rect x="110" y="131.00" width="22" height="1.30" fill="#adadd7"/>
<rect x="110" y="132.00" width="22" height="1.30" fill="#b0b0d8"/>
<rect x="110" y="133.00" width="22" height="1.30" fill="#d1d1e9"/>
<rect x="110" y="134.00" width="22" height="1.30" fill="#c9c9e5"/>
<rect x="110" y="135.00" width="22" height="1.80" fill="#dadaed"/>
<rect x="110" y="136.50" width="22" height="0.80" fill="#d6d6eb"/>
<rect x="110" y="137.00" width="22" height="1.30" fill="#e8e8f4"/>
<rect x="110" y="138.00" width="22" height="2.30" fill="#e4e4f2"/>
<rect x="110" y="140.00" width="22" height="1.30" fill="#b8b8dc"/>
<rect x="110" y="141.00" width="22" height="2.30" fill="#c0c0e0"/>
<rect x="110" y="143.00" width="22" height="1.80" fill="#a7a7d4"/>
<rect x="110" y="144.50" width="22" height="1.80" fill="#b7b7dc"/>
<rect x="110" y="146.00" width="22" height="1.30" fill="#b5b5db"/>
<rect x="110" y="147.00" width="22" height="1.30" fill="#c2c2e1"/>
<rect x="110" y="148.00" width="22" height="1.80" fill="#cbcbe5"/>
<rect x="110" y="149.50" width="22" height="0.80" fill="#cccce6"/>
<rect x="110" y="150.00" width="22" height="1.80" fill="#d2d2e9"/>
<rect x="110" y="151.50" width="22" height="0.80" fill="#cacae5"/>
<rect x="110" y="152.00" width="22" height="1.30" fill="#e2e2f1"/>
<rect x="110" y="153.00" width="22" height="1.30" fill="#e9e9f4"/>
<rect x="110" y="154.00" width="22" height="1.30" fill="#e4e4f2"/>
<rect x="110" y="155.00" width="22" height="2.80" fill="#a7a7d4"/>
<rect x="110" y="157.50" width="22" height="0.80" fill="#acacd6"/>
<rect x="110" y="158.00" width="22" height="1.80" fill="#bdbddf"/>
<rect x="110" y="159.50" width="22" height="1.80" fill="#bfbfe0"/>
<rect x="110" y="161.00" width="22" height="1.30" fill="#b2b2d9"/>
<rect x="110" y="162.00" width="22" height="1.80" fill="#b7b7dc"/>
<rect x="110" y="163.50" width="22" height="0.80" fill="#aeaed7"/>
<rect x="110" y="164.00" width="22" height="1.30" fill="#e6e6f3"/>
<rect x="110" y="165.00" width="22" height="1.30" fill="#ececf6"/>
<rect x="110" y="166.00" width="22" height="1.30" fill="#dcdcee"/>
<rect x="110" y="167.00" width="22" height="1.30" fill="#b6b6db"/>
<rect x="110" y="168.00" width="22" height="1.30" fill="#b9b9dd"/>
<rect x="110" y="169.00" width="22" height="1.30" fill="#bdbddf"/>
<rect x="110" y="170.00" width="22" height="1.80" fill="#dcdcee"/>
<rect x="110" y="171.50" width="22" height="2.30" fill="#d9d9ec"/>
<rect x="110" y="173.50" width="22" height="1.40" fill="#d8d8ec"/>
<rect x="110" y="174.60" width="22" height="1.30" fill="#ababd6"/>
<rect x="110" y="175.60" width="22" height="1.70" fill="#aeaed8"/>
<rect x="110" y="177.00" width="22" height="2.30" fill="#ffe8e8"/>
<rect x="110" y="179.00" width="22" height="1.30" fill="#ffecec"/>
<rect x="110" y="180.00" width="22" height="1.30" fill="#aeaed7"/>
<rect x="110" y="181.00" width="22" height="1.30" fill="#b4b4da"/>
<rect x="110" y="182.00" width="22" height="1.30" fill="#bbbbde"/>
<rect x="110" y="183.00" width="22" height="1.80" fill="#ebebf5"/>
<rect x="110" y="184.50" width="22" height="1.80" fill="#e4e4f2"/>
<rect x="110" y="186.00" width="22" height="2.30" fill="#a5a5d3"/>
<rect x="110" y="188.00" width="22" height="2.80" fill="#fefeff"/>
<rect x="110" y="190.50" width="22" height="0.80" fill="#f8f8fb"/>
<rect x="110" y="191.00" width="22" height="1.30" fill="#eeeef7"/>
<rect x="110" y="192.00" width="22" height="1.80" fill="#f3f3f9"/>
<rect x="110" y="193.50" width="22" height="0.80" fill="#f0f0f8"/>
<rect x="110" y="194.00" width="22" height="2.30" fill="#ffd9d9"/>
<rect x="110" y="196.00" width="22" height="2.30" fill="#babadd"/>
<rect x="110" y="198.00" width="22" height="1.30" fill="#c0c0e0"/>
<rect x="110" y="199.00" width="22" height="1.80" fill="#ffa0a0"/>
<rect x="110" y="200.50" width="22" height="1.30" fill="#c4c4e2"/>
<rect x="110" y="201.50" width="22" height="1.80" fill="#bfbfe0"/>
<rect x="110" y="203.00" width="22" height="1.80" fill="#e7e7f3"/>
<rect x="110" y="204.50" width="22" height="1.80" fill="#ebebf5"/>
<rect x="110" y="206.00" width="22" height="1.80" fill="#fff1f1"/>
<rect x="110" y="207.50" width="22" height="1.80" fill="#fff4f4"/>
<rect x="110" y="209.00" width="22" height="2.30" fill="#fff5f5"/>
<rect x="110" y="211.00" width="22" height="0.80" fill="#fff7f7"/>
<rect x="110" y="211.50" width="22" height="1.30" fill="#ff6363"/>
<rect x="110" y="212.50" width="22" height="0.80" fill="#ff5858"/>
<rect x="110" y="213.00" width="22" height="1.80" fill="#ff8888"/>
<rect x="110" y="214.50" width="22" height="2.80" fill="#ff8686"/>
<rect x="110" y="217.00" width="22" height="1.30" fill="#ff6c6c"/>
<rect x="110" y="218.00" width="22" height="2.80" fill="#ff6767"/>
<rect x="110" y="220.50" width="22" height="1.80" fill="#ff6767"/>
<rect x="110" y="222.00" width="22" height="1.80" fill="#ff9696"/>
<rect x="110" y="223.50" width="22" height="1.30" fill="#ff8e8e"/>
<rect x="110" y="224.50" width="22" height="1.80" fill="#ff8d8d"/>
<rect x="110" y="226.00" width="22" height="2.30" fill="#ffadad"/>
<rect x="110" y="228.00" width="22" height="1.30" fill="#ffa9a9"/>
<rect x="110" y="229.00" width="22" height="2.80" fill="#ff4848"/>
<rect x="110" y="231.50" width="22" height="1.80" fill="#ff4343"/>
<rect x="110" y="233.00" width="22" height="1.80" fill="#ff9494"/>
<rect x="110" y="234.50" width="22" height="1.80" fill="#ff8a8a"/>
<rect x="110" y="236.00" width="22" height="2.30" fill="#ff5f5f"/>
<rect x="110" y="238.00" width="22" height="1.80" fill="#ff6565"/>
<rect x="110" y="239.50" width="22" height="0.80" fill="#ff6767"/>
<rect x="110" y="240.00" width="22" height="2.30" fill="#ff8686"/>
<rect x="110" y="242.00" width="22" height="1.30" fill="#ff8585"/>
<rect x="110" y="243.00" width="22" height="1.80" fill="#ffa5a5"/>
<rect x="110" y="244.50" width="22" height="1.80" fill="#ffa3a3"/>
<rect x="110" y="246.00" width="22" height="1.30" fill="#ff1818"/>
<rect x="110" y="247.00" width="22" height="2.80" fill="#ff1010"/>
<rect x="110" y="249.50" width="22" height="1.80" fill="#ff1a1a"/>
<rect x="110" y="251.00" width="22" height="1.30" fill="#ff1919"/>
<rect x="110" y="252.00" width="22" height="1.30" fill="#ff3434"/>
<rect x="110" y="253.00" width="22" height="1.80" fill="#ff2222"/>
<rect x="110" y="254.50" width="22" height="2.80" fill="#ffefef"/>
<rect x="110" y="257.00" width="22" height="1.80" fill="#f3f3f9"/>
<rect x="110" y="258.50" width="22" height="1.80" fill="#f6f6fb"/>
<rect x="110" y="260.00" width="22" height="2.80" fill="#bcbcde"/>
<rect x="110" y="262.50" width="22" height="1.80" fill="#fafafd"/>
<rect x="110" y="264.00" width="22" height="1.30" fill="#fcfcfd"/>
<rect x="110" y="265.00" width="22" height="1.30" fill="#fdfdfe"/>
<rect x="110" y="266.00" width="22" height="1.30" fill="#e0e0f0"/>
<rect x="110" y="267.00" width="22" height="1.30" fill="#f1f1f8"/>
<rect x="110" y="268.00" width="22" height="2.80" fill="#ffcccc"/>
<rect x="110" y="270.50" width="22" height="0.80" fill="#ffc5c5"/>
<rect x="110" y="271.00" width="22" height="2.80" fill="#ffe1e1"/>
<rect x="110" y="273.50" width="22" height="0.80" fill="#ffeeee"/>
<rect x="110" y="274.00" width="22" height="1.80" fill="#d6d6eb"/>
<rect x="110" y="275.50" width="22" height="0.80" fill="#cdcde7"/>
<rect x="110" y="276.00" width="22" height="1.80" fill="#ffc7c7"/>
<rect x="110" y="277.50" width="22" height="1.80" fill="#ffbbbb"/>
<rect x="110" y="279.00" width="22" height="1.80" fill="#fff7f7"/>
<rect x="110" y="280.50" width="22" height="1.80" fill="#ffe7e7"/>
<rect x="110" y="282.00" width="22" height="1.30" fill="#c6c6e3"/>
<rect x="110" y="283.00" width="22" height="1.30" fill="#c5c5e2"/>
<rect x="110" y="284.00" width="22" height="1.30" fill="#b9b9dd"/>
<rect x="110" y="285.00" width="22" height="1.90" fill="#b5b5db"/>
<rect x="110" y="286.60" width="22" height="1.80" fill="#ff2828"/>
<rect x="110" y="288.10" width="22" height="1.30" fill="#ff1b1b"/>
<rect x="110" y="289.10" width="22" height="2.30" fill="#ff2323"/>
<rect x="110" y="291.10" width="22" height="1.20" fill="#ff1f1f"/>
<rect x="110" y="292.00" width="22" height="1.30" fill="#ffdbdb"/>
<rect x="110" y="293.00" width="22" height="1.30" fill="#ffe0e0"/>
<rect x="110" y="294.00" width="22" height="1.30" fill="#ff9c9c"/>
<rect x="110" y="295.00" width="22" height="2.30" fill="#ffa0a0"/>
<rect x="110" y="297.00" width="22" height="1.80" fill="#ffe3e3"/>
<rect x="110" y="298.50" width="22" height="0.80" fill="#ffeaea"/>
<rect x="110" y="299.00" width="22" height="1.00" fill="#ffa1a1"/>
<rect x="110" y="299.70" width="22" height="1.10" fill="#ffd2d2"/>
<rect x="110" y="300.50" width="22" height="1.80" fill="#ffb0b0"/>
<rect x="110" y="302.00" width="22" height="1.30" fill="#ffa0a0"/>
<rect x="110" y="303.00" width="22" height="1.80" fill="#ffcece"/>
<rect x="110" y="304.50" width="22" height="1.30" fill="#ffcbcb"/>
<rect x="110" y="305.50" width="22" height="0.80" fill="#ffcccc"/>
<rect x="110" y="306.00" width="22" height="1.30" fill="#fffdfd"/>
<rect x="110" y="307.00" width="22" height="1.30" fill="#fefeff"/>
<rect x="110" y="308.00" width="22" height="1.80" fill="#ffafaf"/>
<rect x="110" y="309.50" width="22" height="0.80" fill="#ffb6b6"/>
<rect x="110" y="310.00" width="22" height="1.80" fill="#fdfdfe"/>
<rect x="110" y="311.50" width="22" height="1.80" fill="#fcfcfe"/>
<rect x="110" y="313.00" width="22" height="1.80" fill="#ffdcdc"/>
<rect x="110" y="314.50" width="22" height="1.80" fill="#ffdfdf"/>
<rect x="110" y="316.00" width="22" height="2.80" fill="#ffc3c3"/>
<rect x="110" y="318.50" width="22" height="0.80" fill="#ffc2c2"/>
<rect x="110" y="319.00" width="22" height="2.30" fill="#ffabab"/>
<rect x="110" y="321.00" width="22" height="1.30" fill="#ffacac"/>
<rect x="110" y="322.00" width="22" height="1.30" fill="#ffeded"/>
<rect x="110" y="323.00" width="22" height="2.30" fill="#fff1f1"/>
<rect x="110" y="325.00" width="22" height="1.30" fill="#ffbbbb"/>
<rect x="110" y="326.00" width="22" height="1.80" fill="#ffbcbc"/>
<rect x="110" y="327.50" width="22" height="0.80" fill="#ffc5c5"/>
<rect x="110" y="328.00" width="22" height="1.80" fill="#ffd1d1"/>
<rect x="110" y="329.50" width="22" height="1.80" fill="#ffd1d1"/>
<rect x="110" y="331.00" width="22" height="1.80" fill="#ff9f9f"/>
<rect x="110" y="332.50" width="22" height="1.30" fill="#ffaaaa"/>
<rect x="110" y="333.50" width="22" height="0.80" fill="#ff9f9f"/>
<rect x="110" y="334.00" width="22" height="1.30" fill="#ffc5c5"/>
<rect x="110" y="335.00" width="22" height="1.30" fill="#ffd3d3"/>
<rect x="110" y="336.00" width="22" height="1.30" fill="#ff9a9a"/>
<rect x="110" y="337.00" width="22" height="2.30" fill="#ff9999"/>
<rect x="110" y="339.00" width="22" height="0.50" fill="#ffa3a3"/>
<rect x="110" y="339.20" width="22" height="1.10" fill="#ffaeae"/>
<rect x="110" y="340.00" width="22" height="2.30" fill="#9f9fd0"/>
<rect x="110" y="342.00" width="22" height="1.30" fill="#ffadad"/>
<rect x="110" y="343.00" width="22" height="1.80" fill="#d3d3ea"/>
<rect x="110" y="344.50" width="22" height="1.80" fill="#dbdbed"/>
<rect x="110" y="346.00" width="22" height="1.30" fill="#dfdfef"/>
<rect x="110" y="347.00" width="22" height="1.80" fill="#aaaad5"/>
<rect x="110" y="348.50" width="22" height="0.80" fill="#b0b0d8"/>
<rect x="110" y="349.00" width="22" height="2.30" fill="#e7e7f3"/>
<rect x="110" y="351.00" width="22" height="1.80" fill="#b8b8dc"/>
<rect x="110" y="352.50" width="22" height="1.80" fill="#bfbfe0"/>
<rect x="110" y="354.00" width="22" height="1.80" fill="#adadd7"/>
<rect x="110" y="355.50" width="22" height="2.80" fill="#bdbddf"/>
<rect x="110" y="358.00" width="22" height="1.30" fill="#b7b7dc"/>
<rect x="110" y="359.00" width="22" height="2.30" fill="#b3b3da"/>
<rect x="110" y="361.00" width="22" height="2.30" fill="#9191c9"/>
<rect x="110" y="363.00" width="22" height="2.80" fill="#fffefe"/>
<rect x="110" y="365.50" width="22" height="0.80" fill="#f0f0f8"/>
<rect x="110" y="366.00" width="22" height="2.30" fill="#aaaad5"/>
<rect x="110" y="368.00" width="22" height="0.90" fill="#a6a6d3"/>
<rect x="132" y="24.00" width="22" height="2.30" fill="#ff5656"/>
<rect x="132" y="26.00" width="22" height="1.30" fill="#ff5a5a"/>
<rect x="132" y="27.00" width="22" height="2.30" fill="#ff4e4e"/>
<rect x="132" y="29.00" width="22" height="1.30" fill="#ff1e1e"/>
<rect x="132" y="30.00" width="22" height="1.80" fill="#ff0f0f"/>
<rect x="132" y="31.50" width="22" height="2.30" fill="#ff1010"/>
<rect x="132" y="33.50" width="22" height="2.80" fill="#ff1414"/>
<rect x="132" y="36.00" width="22" height="1.30" fill="#ff1a1a"/>
<rect x="132" y="37.00" width="22" height="1.30" fill="#ff0d0d"/>
<rect x="132" y="38.00" width="22" height="2.80" fill="#ff1717"/>
<rect x="132" y="40.50" width="22" height="1.30" fill="#ff1515"/>
<rect x="132" y="41.50" width="22" height="1.80" fill="#ff2020"/>
<rect x="132" y="43.00" width="22" height="1.30" fill="#ff1b1b"/>
<rect x="132" y="44.00" width="22" height="1.80" fill="#ff1d1d"/>
<rect x="132" y="45.50" width="22" height="2.30" fill="#ff1b1b"/>
<rect x="132" y="47.50" width="22" height="1.30" fill="#ff2020"/>
<rect x="132" y="48.50" width="22" height="1.80" fill="#ff1b1b"/>
<rect x="132" y="50.00" width="22" height="2.80" fill="#ff1515"/>
<rect x="132" y="52.50" width="22" height="2.80" fill="#ff1e1e"/>
<rect x="132" y="55.00" width="22" height="1.30" fill="#ff1111"/>
<rect x="132" y="56.00" width="22" height="1.30" fill="#ff1a1a"/>
<rect x="132" y="57.00" width="22" height="2.80" fill="#ff1616"/>
<rect x="132" y="59.50" width="22" height="2.30" fill="#ff1e1e"/>
<rect x="132" y="61.50" width="22" height="1.30" fill="#ff1818"/>
<rect x="132" y="62.50" width="22" height="1.80" fill="#ff1515"/>
<rect x="132" y="64.00" width="22" height="1.80" fill="#ff0e0e"/>
<rect x="132" y="65.50" width="22" height="1.80" fill="#ff1212"/>
<rect x="132" y="67.00" width="22" height="2.80" fill="#ff1111"/>
<rect x="132" y="69.50" width="22" height="1.80" fill="#ff0d0d"/>
<rect x="132" y="71.00" width="22" height="1.30" fill="#ff2a2a"/>
<rect x="132" y="72.00" width="22" height="2.80" fill="#ff2f2f"/>
<rect x="132" y="74.50" width="22" height="1.30" fill="#ff3535"/>
<rect x="132" y="75.50" width="22" height="1.30" fill="#ff2d2d"/>
<rect x="132" y="76.50" width="22" height="1.80" fill="#ff3535"/>
<rect x="132" y="78.00" width="22" height="2.30" fill="#ff1111"/>
<rect x="132" y="80.00" width="22" height="2.30" fill="#ff0f0f"/>
<rect x="132" y="82.00" width="22" height="1.30" fill="#ff1919"/>
<rect x="132" y="83.00" width="22" height="1.80" fill="#ff0d0d"/>
<rect x="132" y="84.50" width="22" height="2.30" fill="#ff1b1b"/>
<rect x="132" y="86.50" width="22" height="2.80" fill="#ff1313"/>
<rect x="132" y="89.00" width="22" height="1.10" fill="#ff1919"/>
<rect x="132" y="89.80" width="22" height="1.80" fill="#474b97"/>
<rect x="132" y="91.30" width="22" height="2.80" fill="#494d99"/>
<rect x="132" y="93.80" width="22" height="1.30" fill="#4a4e99"/>
<rect x="132" y="94.80" width="22" height="0.50" fill="#5759a4"/>
<rect x="132" y="95.00" width="22" height="2.30" fill="#8686c4"/>
<rect x="132" y="97.00" width="22" height="1.30" fill="#404591"/>
<rect x="132" y="98.00" width="22" height="2.30" fill="#50539e"/>
<rect x="132" y="100.00" width="22" height="2.30" fill="#7171b9"/>
<rect x="132" y="102.00" width="22" height="1.30" fill="#7070b9"/>
<rect x="132" y="103.00" width="22" height="2.30" fill="#424692"/>
<rect x="132" y="105.00" width="22" height="1.30" fill="#474b97"/>
<rect x="132" y="106.00" width="22" height="1.30" fill="#454995"/>
<rect x="132" y="107.00" width="22" height="1.30" fill="#464a96"/>
<rect x="132" y="108.00" width="22" height="1.80" fill="#7575bb"/>
<rect x="132" y="109.50" width="22" height="2.30" fill="#7474bb"/>
<rect x="132" y="111.50" width="22" height="1.80" fill="#7b7bbf"/>
<rect x="132" y="113.00" width="22" height="1.80" fill="#5c5ea8"/>
<rect x="132" y="114.50" width="22" height="2.80" fill="#5659a4"/>
<rect x="132" y="117.00" width="22" height="0.90" fill="#50549f"/>
<rect x="132" y="117.60" width="22" height="1.30" fill="#ff1111"/>
<rect x="132" y="118.60" width="22" height="2.30" fill="#ff0f0f"/>
<rect x="132" y="120.60" width="22" height="1.80" fill="#ff1313"/>
<rect x="132" y="122.10" width="22" height="1.80" fill="#ff1515"/>
<rect x="132" y="123.60" width="22" height="2.30" fill="#ff1717"/>
<rect x="132" y="125.60" width="22" height="2.30" fill="#ff1414"/>
<rect x="132" y="127.60" width="22" height="2.80" fill="#ff0f0f"/>
<rect x="132" y="130.10" width="22" height="1.30" fill="#ff1b1b"/>
<rect x="132" y="131.10" width="22" height="1.80" fill="#ff1c1c"/>
<rect x="132" y="132.60" width="22" height="2.80" fill="#ff0c0c"/>
<rect x="132" y="135.10" width="22" height="2.80" fill="#ff2020"/>
<rect x="132" y="137.60" width="22" height="2.30" fill="#ff1d1d"/>
<rect x="132" y="139.60" width="22" height="1.80" fill="#ff1919"/>
<rect x="132" y="141.10" width="22" height="2.30" fill="#ff1616"/>
<rect x="132" y="143.10" width="22" height="2.30" fill="#ff0e0e"/>
<rect x="132" y="145.10" width="22" height="1.80" fill="#ff1a1a"/>
<rect x="132" y="146.60" width="22" height="1.30" fill="#ff1d1d"/>
<rect x="132" y="147.60" width="22" height="1.30" fill="#ff1414"/>
<rect x="132" y="148.60" width="22" height="2.30" fill="#ff1717"/>
<rect x="132" y="150.60" width="22" height="1.30" fill="#ff1616"/>
<rect x="132" y="151.60" width="22" height="2.80" fill="#ff1919"/>
<rect x="132" y="154.10" width="22" height="1.20" fill="#ff1515"/>
<rect x="132" y="155.00" width="22" height="1.30" fill="#ff1818"/>
<rect x="132" y="156.00" width="22" height="2.30" fill="#ff6666"/>
<rect x="132" y="158.00" width="22" height="1.80" fill="#ff5c5c"/>
<rect x="132" y="159.50" width="22" height="0.80" fill="#ff5858"/>
<rect x="132" y="160.00" width="22" height="1.30" fill="#ff8686"/>
<rect x="132" y="161.00" width="22" height="2.30" fill="#ff8f8f"/>
<rect x="132" y="163.00" width="22" height="1.80" fill="#ff6868"/>
<rect x="132" y="164.50" width="22" height="1.30" fill="#ff7070"/>
<rect x="132" y="165.50" width="22" height="0.80" fill="#ff6666"/>
<rect x="132" y="166.00" width="22" height="1.80" fill="#ffb1b1"/>
<rect x="132" y="167.50" width="22" height="1.80" fill="#ffa7a7"/>
<rect x="132" y="169.00" width="22" height="1.30" fill="#ffdddd"/>
<rect x="132" y="170.00" width="22" height="1.30" fill="#ffd7d7"/>
<rect x="132" y="171.00" width="22" height="2.30" fill="#fffafa"/>
<rect x="132" y="173.00" width="22" height="1.90" fill="#ffecec"/>
<rect x="132" y="174.60" width="22" height="2.70" fill="#383e8a"/>
<rect x="132" y="177.00" width="22" height="1.30" fill="#4d519c"/>
<rect x="132" y="178.00" width="22" height="2.30" fill="#464b96"/>
<rect x="132" y="180.00" width="22" height="2.30" fill="#303783"/>
<rect x="132" y="182.00" width="22" height="2.30" fill="#5457a2"/>
<rect x="132" y="184.00" width="22" height="1.30" fill="#50539e"/>
<rect x="132" y="185.00" width="22" height="1.80" fill="#222a77"/>
<rect x="132" y="186.50" width="22" height="2.30" fill="#262e7b"/>
<rect x="132" y="188.50" width="22" height="1.80" fill="#313884"/>
<rect x="132" y="190.00" width="22" height="1.80" fill="#51549f"/>
<rect x="132" y="191.50" width="22" height="1.30" fill="#404591"/>
<rect x="132" y="192.50" width="22" height="0.80" fill="#4a4d99"/>
<rect x="132" y="193.00" width="22" height="2.80" fill="#1f2875"/>
<rect x="132" y="195.50" width="22" height="2.30" fill="#232b79"/>
<rect x="132" y="197.50" width="22" height="0.80" fill="#232b78"/>
<rect x="132" y="198.00" width="22" height="2.30" fill="#464b96"/>
<rect x="132" y="200.00" width="22" height="2.30" fill="#212976"/>
<rect x="132" y="202.00" width="22" height="2.30" fill="#28307d"/>
<rect x="132" y="204.00" width="22" height="1.30" fill="#2c3380"/>
<rect x="132" y="205.00" width="22" height="1.80" fill="#2f3582"/>
<rect x="132" y="206.50" width="22" height="1.80" fill="#363c88"/>
<rect x="132" y="208.00" width="22" height="1.80" fill="#29317e"/>
<rect x="132" y="209.50" width="22" height="2.30" fill="#232b78"/>
<rect x="132" y="211.50" width="22" height="2.80" fill="#6061ac"/>
<rect x="132" y="214.00" width="22" height="1.30" fill="#5f60ab"/>
<rect x="132" y="215.00" width="22" height="1.30" fill="#6869b3"/>
<rect x="132" y="216.00" width="22" height="2.30" fill="#6c6cb6"/>
<rect x="132" y="218.00" width="22" height="1.30" fill="#7575bb"/>
<rect x="132" y="219.00" width="22" height="1.80" fill="#5457a2"/>
<rect x="132" y="220.50" width="22" height="1.80" fill="#5f60ab"/>
<rect x="132" y="222.00" width="22" height="2.80" fill="#7878bd"/>
<rect x="132" y="224.50" width="22" height="1.80" fill="#7c7cbf"/>
<rect x="132" y="226.00" width="22" height="1.80" fill="#6263ad"/>
<rect x="132" y="227.50" width="22" height="1.80" fill="#6061ac"/>
<rect x="132" y="229.00" width="22" height="1.30" fill="#6465af"/>
<rect x="132" y="230.00" width="22" height="1.30" fill="#7272ba"/>
<rect x="132" y="231.00" width="22" height="1.30" fill="#7979bd"/>
<rect x="132" y="232.00" width="22" height="1.30" fill="#7b7bbe"/>
<rect x="132" y="233.00" width="22" height="1.30" fill="#7a7abe"/>
<rect x="132" y="234.00" width="22" height="1.30" fill="#373d89"/>
<rect x="132" y="235.00" width="22" height="2.80" fill="#353b88"/>
<rect x="132" y="237.50" width="22" height="1.30" fill="#323985"/>
<rect x="132" y="238.50" width="22" height="1.80" fill="#2a317e"/>
<rect x="132" y="240.00" width="22" height="2.30" fill="#5558a3"/>
<rect x="132" y="242.00" width="22" height="1.30" fill="#50539e"/>
<rect x="132" y="243.00" width="22" height="2.80" fill="#6a6ab4"/>
<rect x="132" y="245.50" width="22" height="0.80" fill="#6263ae"/>
<rect x="132" y="246.00" width="22" height="1.30" fill="#7373ba"/>
<rect x="132" y="247.00" width="22" height="1.30" fill="#7676bc"/>
<rect x="132" y="248.00" width="22" height="2.30" fill="#8383c2"/>
<rect x="132" y="250.00" width="22" height="2.80" fill="#8a8ac6"/>
<rect x="132" y="252.50" width="22" height="1.30" fill="#8787c4"/>
<rect x="132" y="253.50" width="22" height="1.30" fill="#7d7dbf"/>
<rect x="132" y="254.50" width="22" height="1.80" fill="#6b6cb6"/>
<rect x="132" y="256.00" width="22" height="1.80" fill="#6667b1"/>
<rect x="132" y="257.50" width="22" height="0.80" fill="#7575bc"/>
<rect x="132" y="258.00" width="22" height="1.30" fill="#7272ba"/>
<rect x="132" y="259.00" width="22" height="2.30" fill="#7878bd"/>
<rect x="132" y="261.00" width="22" height="1.30" fill="#7b7bbe"/>
<rect x="132" y="262.00" width="22" height="2.30" fill="#8585c3"/>
<rect x="132" y="264.00" width="22" height="1.30" fill="#6767b2"/>
<rect x="132" y="265.00" width="22" height="1.80" fill="#6364af"/>
<rect x="132" y="266.50" width="22" height="1.30" fill="#6263ae"/>
<rect x="132" y="267.50" width="22" height="0.80" fill="#6465b0"/>
<rect x="132" y="268.00" width="22" height="2.80" fill="#6b6bb5"/>
<rect x="132" y="270.50" width="22" height="0.80" fill="#7777bd"/>
<rect x="132" y="271.00" width="22" height="2.80" fill="#8686c4"/>
<rect x="132" y="273.50" width="22" height="0.80" fill="#7777bd"/>
<rect x="132" y="274.00" width="22" height="2.80" fill="#7272ba"/>
<rect x="132" y="276.50" width="22" height="1.80" fill="#6c6db7"/>
<rect x="132" y="278.00" width="22" height="2.80" fill="#6869b3"/>
<rect x="132" y="280.50" width="22" height="0.80" fill="#595ba6"/>
<rect x="132" y="281.00" width="22" height="1.80" fill="#7b7bbf"/>
<rect x="132" y="282.50" width="22" height="1.80" fill="#8181c1"/>
<rect x="132" y="284.00" width="22" height="1.80" fill="#8181c1"/>
<rect x="132" y="285.50" width="22" height="1.40" fill="#8989c5"/>
<rect x="132" y="286.60" width="22" height="2.30" fill="#ffe2e2"/>
<rect x="132" y="288.60" width="22" height="0.70" fill="#ffdede"/>
<rect x="132" y="289.00" width="22" height="1.30" fill="#6a6ab4"/>
<rect x="132" y="290.00" width="22" height="2.30" fill="#6768b2"/>
<rect x="132" y="292.00" width="22" height="2.30" fill="#8585c3"/>
<rect x="132" y="294.00" width="22" height="1.30" fill="#7d7dc0"/>
<rect x="132" y="295.00" width="22" height="2.30" fill="#6566b0"/>
<rect x="132" y="297.00" width="22" height="1.30" fill="#6061ac"/>
<rect x="132" y="298.00" width="22" height="1.30" fill="#2d3480"/>
<rect x="132" y="299.00" width="22" height="1.00" fill="#2b327f"/>
<rect x="132" y="299.70" width="22" height="1.10" fill="#6768b2"/>
<rect x="132" y="300.50" width="22" height="2.30" fill="#303783"/>
<rect x="132" y="302.50" width="22" height="1.80" fill="#303783"/>
<rect x="132" y="304.00" width="22" height="2.30" fill="#4e529d"/>
<rect x="132" y="306.00" width="22" height="1.80" fill="#29317e"/>
<rect x="132" y="307.50" width="22" height="2.30" fill="#2a327e"/>
<rect x="132" y="309.50" width="22" height="0.80" fill="#2d3481"/>
<rect x="132" y="310.00" width="22" height="1.80" fill="#454995"/>
<rect x="132" y="311.50" width="22" height="1.80" fill="#484c98"/>
<rect x="132" y="313.00" width="22" height="1.80" fill="#363c88"/>
<rect x="132" y="314.50" width="22" height="1.80" fill="#373d89"/>
<rect x="132" y="316.00" width="22" height="2.30" fill="#151f6d"/>
<rect x="132" y="318.00" width="22" height="2.80" fill="#151f6d"/>
<rect x="132" y="320.50" width="22" height="2.30" fill="#141e6c"/>
<rect x="132" y="322.50" width="22" height="2.80" fill="#161f6d"/>
<rect x="132" y="325.00" width="22" height="1.80" fill="#101a68"/>
<rect x="132" y="326.50" width="22" height="1.30" fill="#17206e"/>
<rect x="132" y="327.50" width="22" height="1.30" fill="#151e6c"/>
<rect x="132" y="328.50" width="22" height="2.30" fill="#18216f"/>
<rect x="132" y="330.50" width="22" height="2.80" fill="#101a68"/>
<rect x="132" y="333.00" width="22" height="1.80" fill="#2c3380"/>
<rect x="132" y="334.50" width="22" height="1.80" fill="#333986"/>
<rect x="132" y="336.00" width="22" height="1.80" fill="#414691"/>
<rect x="132" y="337.50" width="22" height="1.80" fill="#393e8b"/>
<rect x="132" y="339.00" width="22" height="0.50" fill="#343a87"/>
<rect x="132" y="339.20" width="22" height="1.10" fill="#1c2472"/>
<rect x="132" y="340.00" width="22" height="2.30" fill="#6969b3"/>
<rect x="132" y="342.00" width="22" height="2.30" fill="#7b7bbf"/>
<rect x="132" y="344.00" width="22" height="2.30" fill="#5b5da8"/>
<rect x="132" y="346.00" width="22" height="1.30" fill="#5e5faa"/>
<rect x="132" y="347.00" width="22" height="2.30" fill="#9292ca"/>
<rect x="132" y="349.00" width="22" height="2.80" fill="#6d6db7"/>
<rect x="132" y="351.50" width="22" height="1.80" fill="#7070b9"/>
<rect x="132" y="353.00" width="22" height="1.80" fill="#9797cc"/>
<rect x="132" y="354.50" width="22" height="2.30" fill="#a9a9d5"/>
<rect x="132" y="356.50" width="22" height="1.30" fill="#a4a4d2"/>
<rect x="132" y="357.50" width="22" height="2.80" fill="#9c9cce"/>
<rect x="132" y="360.00" width="22" height="1.30" fill="#9e9ecf"/>
<rect x="132" y="361.00" width="22" height="1.30" fill="#7676bc"/>
<rect x="132" y="362.00" width="22" height="1.30" fill="#7878bd"/>
<rect x="132" y="363.00" width="22" height="1.80" fill="#5f61ab"/>
<rect x="132" y="364.50" width="22" height="1.30" fill="#5a5ca7"/>
<rect x="132" y="365.50" width="22" height="0.80" fill="#5a5ca7"/>
<rect x="132" y="366.00" width="22" height="2.30" fill="#5b5da8"/>
<rect x="132" y="368.00" width="22" height="0.90" fill="#6264ae"/></g>
<defs><linearGradient id="dg0" x1="0" y1="0" x2="1" y2="0"><stop offset="0" stop-color="#6a3fb5" stop-opacity="0"/><stop offset="0.5" stop-color="#6a3fb5" stop-opacity="0.10"/><stop offset="0.78" stop-color="#6a3fb5" stop-opacity="0.32"/><stop offset="0.9" stop-color="#6a3fb5" stop-opacity="0.56"/><stop offset="1" stop-color="#6a3fb5" stop-opacity="0.95"/></linearGradient><linearGradient id="dg1" x1="0" y1="0" x2="1" y2="0"><stop offset="0" stop-color="#ff7f0e" stop-opacity="0"/><stop offset="0.5" stop-color="#ff7f0e" stop-opacity="0.15"/><stop offset="0.78" stop-color="#ff7f0e" stop-opacity="0.45"/><stop offset="0.9" stop-color="#ff7f0e" stop-opacity="0.80"/><stop offset="1" stop-color="#ff7f0e" stop-opacity="0.95"/></linearGradient><linearGradient id="dg2" x1="0" y1="0" x2="1" y2="0"><stop offset="0" stop-color="#0a7a72" stop-opacity="0"/><stop offset="0.5" stop-color="#0a7a72" stop-opacity="0.10"/><stop offset="0.78" stop-color="#0a7a72" stop-opacity="0.32"/><stop offset="0.9" stop-color="#0a7a72" stop-opacity="0.56"/><stop offset="1" stop-color="#0a7a72" stop-opacity="0.95"/></linearGradient><linearGradient id="dg3" x1="0" y1="0" x2="1" y2="0"><stop offset="0" stop-color="#c0392b" stop-opacity="0"/><stop offset="0.5" stop-color="#c0392b" stop-opacity="0.14"/><stop offset="0.78" stop-color="#c0392b" stop-opacity="0.41"/><stop offset="0.9" stop-color="#c0392b" stop-opacity="0.72"/><stop offset="1" stop-color="#c0392b" stop-opacity="0.95"/></linearGradient><linearGradient id="dg4" x1="0" y1="0" x2="1" y2="0"><stop offset="0" stop-color="#a8b000" stop-opacity="0"/><stop offset="0.5" stop-color="#a8b000" stop-opacity="0.15"/><stop offset="0.78" stop-color="#a8b000" stop-opacity="0.45"/><stop offset="0.9" stop-color="#a8b000" stop-opacity="0.80"/><stop offset="1" stop-color="#a8b000" stop-opacity="0.95"/></linearGradient><linearGradient id="dg5" x1="0" y1="0" x2="1" y2="0"><stop offset="0" stop-color="#9a3fb8" stop-opacity="0"/><stop offset="0.5" stop-color="#9a3fb8" stop-opacity="0.15"/><stop offset="0.78" stop-color="#9a3fb8" stop-opacity="0.45"/><stop offset="0.9" stop-color="#9a3fb8" stop-opacity="0.80"/><stop offset="1" stop-color="#9a3fb8" stop-opacity="0.95"/></linearGradient><linearGradient id="dg6" x1="0" y1="0" x2="1" y2="0"><stop offset="0" stop-color="#202028" stop-opacity="0"/><stop offset="0.5" stop-color="#202028" stop-opacity="0.16"/><stop offset="0.78" stop-color="#202028" stop-opacity="0.47"/><stop offset="0.9" stop-color="#202028" stop-opacity="0.84"/><stop offset="1" stop-color="#202028" stop-opacity="0.95"/></linearGradient><linearGradient id="dg7" x1="0" y1="0" x2="1" y2="0"><stop offset="0" stop-color="#a0582a" stop-opacity="0"/><stop offset="0.5" stop-color="#a0582a" stop-opacity="0.15"/><stop offset="0.78" stop-color="#a0582a" stop-opacity="0.45"/><stop offset="0.9" stop-color="#a0582a" stop-opacity="0.80"/><stop offset="1" stop-color="#a0582a" stop-opacity="0.95"/></linearGradient><linearGradient id="dg8" x1="0" y1="0" x2="1" y2="0"><stop offset="0" stop-color="#18b424" stop-opacity="0"/><stop offset="0.5" stop-color="#18b424" stop-opacity="0.17"/><stop offset="0.78" stop-color="#18b424" stop-opacity="0.52"/><stop offset="0.9" stop-color="#18b424" stop-opacity="0.92"/><stop offset="1" stop-color="#18b424" stop-opacity="0.95"/></linearGradient><linearGradient id="dg9" x1="0" y1="0" x2="1" y2="0"><stop offset="0" stop-color="#1898c4" stop-opacity="0"/><stop offset="0.5" stop-color="#1898c4" stop-opacity="0.17"/><stop offset="0.78" stop-color="#1898c4" stop-opacity="0.52"/><stop offset="0.9" stop-color="#1898c4" stop-opacity="0.92"/><stop offset="1" stop-color="#1898c4" stop-opacity="0.95"/></linearGradient></defs><rect x="32" y="24.00" width="12.4" height="65.80" fill="url(#dg0)"/>
<path d="M44.00 24.50H42.91V24.70H44.00M44.00 24.30H42.29V24.60H42.91M44.00 24.10H41.09V24.45H42.29M44.00 25.50H42.97V25.70H44.00M42.97 25.60H42.29V25.90H44.00M42.29 25.75H41.32V26.10H44.00M41.32 25.93H40.49V26.30H44.00M44.00 25.30H39.80V26.11H40.49M39.80 25.71H39.60V26.50H44.00M44.00 25.10H38.92V26.10H39.60M44.00 24.90H38.40V25.60H38.92M44.00 26.70H43.02V26.90H44.00M38.40 25.25H37.43V26.80H43.02M37.43 26.03H37.20V27.10H44.00M44.00 27.30H42.78V27.50H44.00M37.20 26.56H36.31V27.40H42.78M44.00 27.70H43.02V27.90H44.00M36.31 26.98H36.11V27.80H43.02M36.11 27.39H35.91V28.10H44.00M41.09 24.28H35.09V27.75H35.91M44.00 28.30H42.81V28.50H44.00M44.00 28.90H42.83V29.10H44.00M42.83 29.00H42.27V29.30H44.00M44.00 28.70H41.18V29.15H42.27M44.00 29.90H42.84V30.10H44.00M44.00 29.70H41.99V30.00H42.84M44.00 29.50H41.71V29.85H41.99M41.18 28.92H38.65V29.68H41.71M44.00 30.30H42.88V30.50H44.00M38.65 29.30H38.07V30.40H42.88M38.07 29.85H37.87V30.70H44.00M44.00 30.90H42.81V31.10H44.00M42.81 31.00H42.20V31.30H44.00M42.20 31.15H41.53V31.50H44.00M44.00 32.10H42.81V32.30H44.00M44.00 32.70H42.99V32.90H44.00M42.99 32.80H41.95V33.10H44.00M44.00 32.50H41.26V32.95H41.95M42.81 32.20H40.44V32.73H41.26M44.00 31.90H39.80V32.46H40.44M44.00 31.70H38.72V32.18H39.80M44.00 33.50H43.01V33.70H44.00M44.00 33.90H42.77V34.10H44.00M43.01 33.60H41.36V34.00H42.77M41.36 33.80H41.13V34.30H44.00M41.13 34.05H40.02V34.50H44.00M44.00 34.70H42.88V34.90H44.00M40.02 34.27H39.82V34.80H42.88M44.00 33.30H39.36V34.54H39.82M44.00 35.30H42.87V35.50H44.00M44.00 35.10H42.26V35.40H42.87M39.36 33.92H38.65V35.25H42.26M44.00 35.90H42.77V36.10H44.00M42.77 36.00H42.28V36.30H44.00M44.00 35.70H41.55V36.15H42.28M38.65 34.58H36.09V35.92H41.55M38.72 31.94H34.41V35.25H36.09M41.53 31.32H34.21V33.60H34.41M44.00 36.70H42.88V36.90H44.00M44.00 37.10H42.86V37.30H44.00M42.88 36.80H41.39V37.20H42.86M44.00 37.50H42.94V37.70H44.00M44.00 37.90H42.89V38.10H44.00M42.94 37.60H41.66V38.00H42.89M41.39 37.00H38.71V37.80H41.66M44.00 36.50H38.51V37.40H38.71M44.00 38.50H42.78V38.70H44.00M44.00 38.30H42.18V38.60H42.78M38.51 36.95H38.31V38.45H42.18M34.21 32.46H31.31V37.70H38.31M37.87 30.27H31.11V35.08H31.31M42.81 28.40H30.17V32.68H31.11M44.00 38.90H43.02V39.10H44.00M44.00 39.30H42.88V39.50H44.00M44.00 39.90H43.01V40.10H44.00M44.00 39.70H42.00V40.00H43.01M42.00 39.85H41.42V40.30H44.00M42.88 39.40H40.67V40.08H41.42M43.02 39.00H39.50V39.74H40.67M39.50 39.37H38.89V40.50H44.00M38.89 39.93H37.84V40.70H44.00M37.84 40.32H37.64V40.90H44.00M44.00 41.10H42.89V41.30H44.00M42.89 41.20H42.02V41.50H44.00M42.02 41.35H41.07V41.70H44.00M37.64 40.61H36.13V41.52H41.07M44.00 41.90H42.87V42.10H44.00M44.00 42.90H42.90V43.10H44.00M42.90 43.00H42.14V43.30H44.00M44.00 42.70H41.63V43.15H42.14M44.00 42.50H41.13V42.92H41.63M44.00 43.50H42.85V43.70H44.00M41.13 42.71H40.18V43.60H42.85M44.00 42.30H39.09V43.16H40.18M39.09 42.73H38.89V43.90H44.00M42.87 42.00H37.39V43.31H38.89M36.13 41.07H33.45V42.66H37.39M44.00 44.30H42.90V44.50H44.00M44.00 44.10H42.15V44.40H42.90M33.45 41.86H33.25V44.25H42.15M33.25 43.06H33.05V44.70H44.00M30.17 30.54H25.99V43.88H33.05M44.00 44.90H42.80V45.10H44.00M44.00 45.50H42.92V45.70H44.00M42.92 45.60H42.13V45.90H44.00M42.13 45.75H41.42V46.10H44.00M44.00 45.30H40.51V45.92H41.42M44.00 46.30H42.96V46.50H44.00M40.51 45.61H39.89V46.40H42.96M44.00 46.70H42.81V46.90H44.00M42.81 46.80H41.92V47.10H44.00M44.00 47.70H43.00V47.90H44.00M44.00 48.10H42.76V48.30H44.00M43.00 47.80H41.19V48.20H42.76M44.00 47.50H40.99V48.00H41.19M44.00 47.30H40.56V47.75H40.99M44.00 48.90H42.89V49.10H44.00M42.89 49.00H42.31V49.30H44.00M44.00 48.70H41.22V49.15H42.31M44.00 48.50H40.61V48.92H41.22M40.56 47.52H38.11V48.71H40.61M41.92 46.95H37.24V48.12H38.11M39.89 46.01H36.15V47.53H37.24M44.00 49.70H42.96V49.90H44.00M44.00 49.50H42.25V49.80H42.96M44.00 50.30H42.91V50.50H44.00M42.91 50.40H41.93V50.70H44.00M44.00 50.90H42.96V51.10H44.00M42.96 51.00H42.20V51.30H44.00M42.20 51.15H41.71V51.50H44.00M41.93 50.55H39.36V51.33H41.71M39.36 50.94H38.89V51.70H44.00M44.00 50.10H38.56V51.32H38.89M42.25 49.65H37.88V50.71H38.56M36.15 46.77H32.50V50.18H37.88M42.80 45.00H32.30V48.47H32.50M44.00 52.30H42.98V52.50H44.00M44.00 52.70H43.00V52.90H44.00M43.00 52.80H41.99V53.10H44.00M42.98 52.40H41.18V52.95H41.99M44.00 52.10H40.61V52.67H41.18M40.61 52.39H39.35V53.30H44.00M44.00 51.90H38.64V52.84H39.35M32.30 46.74H32.10V52.37H38.64M44.00 53.50H42.81V53.70H44.00M42.81 53.60H42.21V53.90H44.00M42.21 53.75H41.20V54.10H44.00M32.10 49.55H31.56V53.92H41.20M25.99 37.21H23.26V51.74H31.56M35.09 26.01H23.06V44.47H23.26M44.00 54.50H43.01V54.70H44.00M44.00 54.30H42.18V54.60H43.01M44.00 55.10H42.94V55.30H44.00M42.94 55.20H41.97V55.50H44.00M44.00 54.90H41.21V55.35H41.97M42.18 54.45H39.54V55.12H41.21M39.54 54.79H38.71V55.70H44.00M44.00 56.10H42.81V56.30H44.00M44.00 55.90H42.33V56.20H42.81M44.00 56.50H42.81V56.70H44.00M42.81 56.60H42.26V56.90H44.00M44.00 57.10H42.92V57.30H44.00M44.00 57.70H43.05V57.90H44.00M43.05 57.80H42.18V58.10H44.00M42.18 57.95H41.24V58.30H44.00M44.00 57.50H40.68V58.12H41.24M44.00 58.50H42.86V58.70H44.00M40.68 57.81H39.39V58.60H42.86M42.92 57.20H38.63V58.21H39.39M42.26 56.75H38.01V57.70H38.63M44.00 58.90H42.91V59.10H44.00M38.01 57.23H37.81V59.00H42.91M42.33 56.05H36.29V58.11H37.81M44.00 59.70H42.98V59.90H44.00M44.00 59.50H42.28V59.80H42.98M44.00 59.30H41.12V59.65H42.28M41.12 59.47H40.85V60.10H44.00M36.29 57.08H34.36V59.79H40.85M44.00 60.90H42.82V61.10H44.00M44.00 60.70H42.18V61.00H42.82M42.18 60.85H41.10V61.30H44.00M44.00 60.50H40.59V61.07H41.10M44.00 60.30H40.39V60.79H40.59M44.00 61.70H42.83V61.90H44.00M42.83 61.80H41.95V62.10H44.00M44.00 61.50H41.32V61.95H41.95M44.00 62.70H42.81V62.90H44.00M44.00 63.10H42.94V63.30H44.00M42.81 62.80H41.42V63.20H42.94M44.00 64.10H42.95V64.30H44.00M42.95 64.20H42.17V64.50H44.00M44.00 63.90H41.18V64.35H42.17M44.00 63.70H40.68V64.12H41.18M44.00 63.50H39.99V63.91H40.68M39.99 63.71H39.71V64.70H44.00M41.42 63.00H38.04V64.20H39.71M44.00 62.50H37.57V63.60H38.04M44.00 64.90H42.93V65.10H44.00M37.57 63.05H37.37V65.00H42.93M44.00 62.30H36.46V64.03H37.37M36.46 63.16H36.04V65.30H44.00M44.00 65.70H42.84V65.90H44.00M44.00 66.10H42.81V66.30H44.00M44.00 66.90H42.87V67.10H44.00M42.87 67.00H42.36V67.30H44.00M44.00 66.70H41.62V67.15H42.36M41.62 66.92H40.36V67.50H44.00M40.36 67.21H40.16V67.70H44.00M44.00 66.50H39.89V67.46H40.16M42.81 66.20H38.47V66.98H39.89M42.84 65.80H37.59V66.59H38.47M44.00 65.50H37.39V66.19H37.59M36.04 64.23H33.38V65.85H37.39M41.32 61.73H33.18V65.04H33.38M44.00 68.10H42.90V68.30H44.00M44.00 67.90H42.33V68.20H42.90M42.33 68.05H41.21V68.50H44.00M41.21 68.28H40.45V68.70H44.00M33.18 63.38H31.33V68.49H40.45M40.39 60.54H31.13V65.93H31.33M34.36 58.43H28.20V63.24H31.13M38.71 55.24H28.00V60.84H28.20M44.00 69.70H42.85V69.90H44.00M42.85 69.80H42.32V70.10H44.00M42.32 69.95H41.12V70.30H44.00M41.12 70.12H40.53V70.50H44.00M44.00 69.50H40.33V70.31H40.53M44.00 69.30H39.61V69.91H40.33M44.00 69.10H39.41V69.60H39.61M44.00 70.70H43.03V70.90H44.00M39.41 69.35H38.59V70.80H43.03M44.00 68.90H37.33V70.08H38.59M28.00 58.04H27.46V69.49H37.33M44.00 71.70H42.83V71.90H44.00M44.00 71.50H42.26V71.80H42.83M44.00 71.30H41.60V71.65H42.26M41.60 71.47H41.24V72.10H44.00M44.00 72.30H42.89V72.50H44.00M42.89 72.40H42.35V72.70H44.00M41.24 71.79H39.88V72.55H42.35M44.00 71.10H38.80V72.17H39.88M44.00 72.90H42.75V73.10H44.00M44.00 73.70H42.98V73.90H44.00M44.00 73.50H41.89V73.80H42.98M41.89 73.65H41.10V74.10H44.00M44.00 74.30H42.95V74.50H44.00M41.10 73.88H40.23V74.40H42.95M44.00 73.30H40.03V74.14H40.23M42.75 73.00H39.25V73.72H40.03M38.80 71.63H35.44V73.36H39.25M44.00 75.70H43.04V75.90H44.00M43.04 75.80H42.15V76.10H44.00M44.00 75.50H41.56V75.95H42.15M41.56 75.72H41.08V76.30H44.00M44.00 75.30H40.08V76.01H41.08M44.00 75.10H39.88V75.66H40.08M44.00 74.90H39.68V75.38H39.88M44.00 74.70H38.18V75.14H39.68M38.18 74.92H37.98V76.50H44.00M35.44 72.50H34.98V75.71H37.98M27.46 63.76H27.26V74.10H34.98M23.06 35.24H19.80V68.93H27.26M44.00 76.90H43.05V77.10H44.00M43.05 77.00H42.30V77.30H44.00M44.00 78.10H42.92V78.30H44.00M42.92 78.20H41.95V78.50H44.00M44.00 77.90H41.08V78.35H41.95M41.08 78.12H40.44V78.70H44.00M44.00 77.70H40.24V78.41H40.44M44.00 77.50H39.45V78.06H40.24M42.30 77.15H39.01V77.78H39.45M44.00 76.70H38.74V77.46H39.01M44.00 78.90H42.92V79.10H44.00M42.92 79.00H42.22V79.30H44.00M44.00 79.50H42.76V79.70H44.00M42.22 79.15H40.44V79.60H42.76M40.44 79.38H40.24V79.90H44.00M40.24 79.64H39.47V80.10H44.00M39.47 79.87H39.27V80.30H44.00M38.74 77.08H35.49V80.08H39.27M35.49 78.58H35.00V80.50H44.00M44.00 80.70H42.95V80.90H44.00M42.95 80.80H41.94V81.10H44.00M44.00 81.70H42.95V81.90H44.00M42.95 81.80H42.13V82.10H44.00M44.00 82.70H42.99V82.90H44.00M42.99 82.80H41.94V83.10H44.00M44.00 82.50H41.46V82.95H41.94M44.00 82.30H40.58V82.72H41.46M42.13 81.95H39.30V82.51H40.58M44.00 81.50H38.85V82.23H39.30M44.00 83.30H42.86V83.50H44.00M38.85 81.87H37.82V83.40H42.86M44.00 81.30H37.59V82.63H37.82M44.00 83.70H42.94V83.90H44.00M42.94 83.80H42.11V84.10H44.00M37.59 81.97H37.28V83.95H42.11M41.94 80.95H35.49V82.96H37.28M44.00 84.50H42.87V84.70H44.00M44.00 84.30H42.34V84.60H42.87M42.34 84.45H41.46V84.90H44.00M44.00 85.10H43.05V85.30H44.00M44.00 85.50H42.91V85.70H44.00M44.00 85.90H42.83V86.10H44.00M42.91 85.60H41.12V86.00H42.83M41.12 85.80H40.82V86.30H44.00M43.05 85.20H39.31V86.05H40.82M39.31 85.62H39.11V86.50H44.00M41.46 84.68H37.26V86.06H39.11M44.00 86.70H42.96V86.90H44.00M37.26 85.37H37.06V86.80H42.96M35.49 81.95H32.67V86.08H37.06M44.00 87.30H42.95V87.50H44.00M44.00 87.10H42.19V87.40H42.95M42.19 87.25H41.71V87.70H44.00M32.67 84.02H32.47V87.47H41.71M35.00 79.54H28.89V85.75H32.47M44.00 88.30H42.98V88.50H44.00M42.98 88.40H42.34V88.70H44.00M42.34 88.55H41.55V88.90H44.00M44.00 88.10H41.24V88.72H41.55M44.00 89.10H42.77V89.30H44.00M42.77 89.20H42.07V89.50H44.00M42.07 89.35H41.06V89.70H44.00M41.24 88.41H38.31V89.53H41.06M44.00 87.90H38.11V88.97H38.31M28.89 82.64H28.69V88.43H38.11M19.80 52.09H16.00V85.54H28.69" fill="none" stroke="#6a3fb5" stroke-width="0.25" stroke-opacity="0.8"/>
<rect x="32" y="89.80" width="12.4" height="27.80" fill="url(#dg1)"/>
<path d="M44.00 90.10H42.55V90.30H44.00M42.55 90.20H41.64V90.50H44.00M44.00 91.30H42.86V91.50H44.00M44.00 91.10H41.49V91.40H42.86M44.00 90.90H40.47V91.25H41.49M44.00 90.70H39.47V91.07H40.47M41.64 90.35H38.54V90.89H39.47M44.00 89.90H36.88V90.62H38.54M44.00 91.90H42.77V92.10H44.00M42.77 92.00H41.73V92.30H44.00M41.73 92.15H40.44V92.50H44.00M44.00 92.70H42.66V92.90H44.00M40.44 92.33H39.70V92.80H42.66M44.00 91.70H39.08V92.56H39.70M39.08 92.13H38.70V93.10H44.00M38.70 92.62H37.04V93.30H44.00M36.88 90.26H32.40V92.96H37.04M44.00 93.50H42.64V93.70H44.00M32.40 91.61H32.20V93.60H42.64M44.00 94.30H42.58V94.50H44.00M44.00 95.30H42.66V95.50H44.00M44.00 95.10H41.56V95.40H42.66M41.56 95.25H40.32V95.70H44.00M44.00 94.90H40.10V95.47H40.32M44.00 94.70H38.56V95.19H40.10M38.56 94.94H38.36V95.90H44.00M42.58 94.40H37.62V95.42H38.36M44.00 96.30H42.88V96.50H44.00M44.00 96.10H41.71V96.40H42.88M41.71 96.25H41.20V96.70H44.00M37.62 94.91H35.24V96.47H41.20M44.00 94.10H34.76V95.69H35.24M44.00 93.90H34.56V94.90H34.76M44.00 96.90H42.83V97.10H44.00M34.56 94.40H33.68V97.00H42.83M44.00 97.30H42.54V97.50H44.00M42.54 97.40H41.50V97.70H44.00M41.50 97.55H41.08V97.90H44.00M44.00 98.50H42.87V98.70H44.00M44.00 98.30H41.45V98.60H42.87M44.00 98.10H40.94V98.45H41.45M41.08 97.72H38.71V98.27H40.94M44.00 98.90H42.66V99.10H44.00M44.00 99.70H42.54V99.90H44.00M44.00 100.10H42.55V100.30H44.00M42.54 99.80H40.78V100.20H42.55M44.00 99.50H39.44V100.00H40.78M44.00 99.30H39.13V99.75H39.44M39.13 99.53H38.93V100.50H44.00M38.93 100.01H37.97V100.70H44.00M42.66 99.00H35.94V100.36H37.97M35.94 99.68H35.74V100.90H44.00M35.74 100.29H35.54V101.10H44.00M44.00 101.30H42.71V101.50H44.00M44.00 101.70H42.75V101.90H44.00M44.00 102.30H42.63V102.50H44.00M44.00 102.10H41.55V102.40H42.63M42.75 101.80H39.45V102.25H41.55M42.71 101.40H37.80V102.02H39.45M35.54 100.69H32.91V101.71H37.80M44.00 102.70H42.58V102.90H44.00M44.00 103.30H42.51V103.50H44.00M44.00 103.10H41.99V103.40H42.51M42.58 102.80H39.83V103.25H41.99M32.91 101.20H31.37V103.02H39.83M38.71 98.00H30.52V102.11H31.37M44.00 103.70H42.83V103.90H44.00M42.83 103.80H41.90V104.10H44.00M44.00 104.30H42.66V104.50H44.00M44.00 105.70H42.79V105.90H44.00M44.00 105.50H41.94V105.80H42.79M41.94 105.65H40.36V106.10H44.00M44.00 105.30H39.87V105.88H40.36M44.00 105.10H39.29V105.59H39.87M39.29 105.34H39.09V106.30H44.00M44.00 104.90H37.81V105.82H39.09M37.81 105.36H36.68V106.50H44.00M36.68 105.93H36.48V106.70H44.00M44.00 104.70H36.28V106.32H36.48M42.66 104.40H35.72V105.51H36.28M44.00 106.90H42.84V107.10H44.00M35.72 104.95H35.26V107.00H42.84M35.26 105.98H35.06V107.30H44.00M44.00 107.50H42.56V107.70H44.00M44.00 107.90H42.85V108.10H44.00M42.56 107.60H41.01V108.00H42.85M35.06 106.64H34.22V107.80H41.01M41.90 103.95H31.06V107.22H34.22M30.52 100.06H28.57V105.58H31.06M33.68 95.70H25.57V102.82H28.57M44.00 108.30H42.69V108.50H44.00M42.69 108.40H41.84V108.70H44.00M41.84 108.55H40.36V108.90H44.00M40.36 108.72H39.93V109.10H44.00M44.00 109.70H42.76V109.90H44.00M44.00 109.50H41.73V109.80H42.76M44.00 109.30H40.81V109.65H41.73M44.00 110.70H42.52V110.90H44.00M44.00 110.50H41.74V110.80H42.52M44.00 110.30H41.04V110.65H41.74M41.04 110.47H39.61V111.10H44.00M44.00 110.10H38.89V110.79H39.61M44.00 111.30H42.80V111.50H44.00M42.80 111.40H41.61V111.70H44.00M38.89 110.44H37.27V111.55H41.61M44.00 112.10H42.78V112.30H44.00M42.78 112.20H41.49V112.50H44.00M44.00 111.90H40.77V112.35H41.49M40.77 112.12H39.38V112.70H44.00M37.27 111.00H36.29V112.41H39.38M40.81 109.47H34.11V111.70H36.29M39.93 108.91H33.22V110.59H34.11M25.57 99.26H21.57V109.75H33.22M44.00 112.90H42.88V113.10H44.00M42.88 113.00H41.73V113.30H44.00M44.00 113.50H42.75V113.70H44.00M44.00 114.50H42.77V114.70H44.00M42.77 114.60H41.55V114.90H44.00M44.00 114.30H40.71V114.75H41.55M44.00 115.10H42.67V115.30H44.00M40.71 114.53H38.87V115.20H42.67M44.00 114.10H38.67V114.86H38.87M38.67 114.48H38.05V115.50H44.00M38.05 114.99H36.53V115.70H44.00M44.00 113.90H36.25V115.35H36.53M44.00 116.70H42.66V116.90H44.00M44.00 116.50H41.42V116.80H42.66M41.42 116.65H40.86V117.10H44.00M44.00 116.30H39.89V116.88H40.86M44.00 116.10H39.38V116.59H39.89M44.00 115.90H38.09V116.34H39.38M38.09 116.12H37.40V117.30H44.00M37.40 116.71H36.59V117.50H44.00M36.25 114.62H34.29V117.11H36.59M42.75 113.60H33.59V115.86H34.29M41.73 113.15H30.50V114.73H33.59M21.57 104.51H20.45V113.94H30.50M32.20 92.60H16.00V109.22H20.45" fill="none" stroke="#ff7f0e" stroke-width="0.25" stroke-opacity="0.8"/>
<rect x="32" y="117.60" width="12.4" height="37.40" fill="url(#dg2)"/>
<path d="M44.00 118.10H42.89V118.30H44.00M44.00 117.90H42.09V118.20H42.89M42.09 118.05H41.09V118.50H44.00M44.00 117.70H40.27V118.27H41.09M44.00 118.70H42.92V118.90H44.00M42.92 118.80H41.89V119.10H44.00M41.89 118.95H40.72V119.30H44.00M40.27 117.99H37.16V119.12H40.72M37.16 118.56H36.96V119.50H44.00M36.96 119.03H36.76V119.70H44.00M44.00 119.90H42.68V120.10H44.00M44.00 120.70H42.88V120.90H44.00M42.88 120.80H42.13V121.10H44.00M44.00 120.50H41.26V120.95H42.13M44.00 121.70H42.61V121.90H44.00M44.00 121.50H41.97V121.80H42.61M44.00 121.30H40.78V121.65H41.97M40.78 121.47H39.84V122.10H44.00M39.84 121.79H39.37V122.30H44.00M44.00 122.50H42.85V122.70H44.00M39.37 122.04H37.76V122.60H42.85M41.26 120.72H36.94V122.32H37.76M44.00 120.30H36.46V121.52H36.94M42.68 120.00H36.26V120.91H36.46M44.00 123.10H42.71V123.30H44.00M44.00 122.90H42.12V123.20H42.71M42.12 123.05H40.66V123.50H44.00M40.66 123.27H40.46V123.70H44.00M40.46 123.49H39.87V123.90H44.00M36.26 120.46H33.25V123.69H39.87M44.00 124.10H42.91V124.30H44.00M42.91 124.20H41.65V124.50H44.00M33.25 122.07H33.05V124.35H41.65M36.76 119.36H31.87V123.21H33.05M44.00 124.70H42.67V124.90H44.00M42.67 124.80H41.81V125.10H44.00M41.81 124.95H41.38V125.30H44.00M44.00 125.50H42.89V125.70H44.00M41.38 125.12H39.44V125.60H42.89M39.44 125.36H39.24V125.90H44.00M44.00 126.70H42.81V126.90H44.00M44.00 126.50H42.01V126.80H42.81M42.01 126.65H40.94V127.10H44.00M40.94 126.88H40.32V127.30H44.00M44.00 126.30H39.73V127.09H40.32M44.00 127.50H42.79V127.70H44.00M42.79 127.60H41.94V127.90H44.00M41.94 127.75H41.31V128.10H44.00M39.73 126.69H38.29V127.92H41.31M44.00 128.70H42.88V128.90H44.00M44.00 128.50H42.03V128.80H42.88M44.00 129.10H42.73V129.30H44.00M42.03 128.65H40.63V129.20H42.73M44.00 128.30H39.04V128.93H40.63M39.04 128.61H38.84V129.50H44.00M38.29 127.31H36.08V129.06H38.84M44.00 126.10H34.82V128.18H36.08M34.82 127.14H34.62V129.70H44.00M44.00 130.10H42.94V130.30H44.00M42.94 130.20H41.64V130.50H44.00M44.00 129.90H40.72V130.35H41.64M34.62 128.42H32.28V130.12H40.72M44.00 130.90H42.77V131.10H44.00M44.00 130.70H42.09V131.00H42.77M32.28 129.27H32.08V130.85H42.09M39.24 125.63H30.72V130.06H32.08M44.00 131.50H42.76V131.70H44.00M42.76 131.60H41.59V131.90H44.00M41.59 131.75H40.96V132.10H44.00M44.00 131.30H39.84V131.93H40.96M30.72 127.85H30.19V131.61H39.84M44.00 133.30H42.92V133.50H44.00M44.00 133.10H41.69V133.40H42.92M44.00 132.90H40.79V133.25H41.69M44.00 132.70H40.14V133.07H40.79M44.00 132.50H39.21V132.89H40.14M39.21 132.69H38.35V133.70H44.00M44.00 132.30H38.15V133.20H38.35M38.15 132.75H37.42V133.90H44.00M37.42 133.32H36.76V134.10H44.00M44.00 134.30H42.90V134.50H44.00M44.00 135.70H42.82V135.90H44.00M44.00 135.50H42.01V135.80H42.82M44.00 135.30H40.85V135.65H42.01M44.00 135.10H40.13V135.48H40.85M44.00 134.90H39.61V135.29H40.13M44.00 136.70H42.69V136.90H44.00M44.00 136.50H41.58V136.80H42.69M44.00 136.30H40.88V136.65H41.58M40.88 136.48H40.21V137.10H44.00M44.00 137.50H42.88V137.70H44.00M42.88 137.60H42.13V137.90H44.00M42.13 137.75H41.03V138.10H44.00M44.00 137.30H40.78V137.93H41.03M40.78 137.61H39.33V138.30H44.00M44.00 138.70H42.74V138.90H44.00M44.00 138.50H41.96V138.80H42.74M41.96 138.65H41.44V139.10H44.00M41.44 138.88H40.08V139.30H44.00M39.33 137.96H37.24V139.09H40.08M40.21 136.79H34.97V138.52H37.24M44.00 136.10H34.77V137.65H34.97M44.00 139.70H42.78V139.90H44.00M44.00 139.50H41.89V139.80H42.78M41.89 139.65H40.89V140.10H44.00M34.77 136.88H33.59V139.88H40.89M44.00 140.50H42.72V140.70H44.00M44.00 140.30H42.03V140.60H42.72M33.59 138.38H33.03V140.45H42.03M44.00 141.10H42.86V141.30H44.00M42.86 141.20H41.84V141.50H44.00M41.84 141.35H40.63V141.70H44.00M40.63 141.52H40.43V141.90H44.00M44.00 142.50H42.83V142.70H44.00M42.83 142.60H41.85V142.90H44.00M44.00 143.10H42.94V143.30H44.00M41.85 142.75H40.45V143.20H42.94M44.00 142.30H40.14V142.97H40.45M44.00 142.10H39.25V142.64H40.14M40.43 141.71H36.73V142.37H39.25M44.00 140.90H36.29V142.04H36.73M33.03 139.41H29.12V141.47H36.29M39.61 135.09H27.82V140.44H29.12M44.00 134.70H27.62V137.77H27.82M42.90 134.40H27.42V136.23H27.62M44.00 143.90H42.68V144.10H44.00M44.00 143.70H41.70V144.00H42.68M44.00 143.50H40.93V143.85H41.70M27.42 135.32H27.22V143.68H40.93M44.00 144.90H42.77V145.10H44.00M44.00 144.70H41.86V145.00H42.77M44.00 144.50H40.64V144.85H41.86M44.00 144.30H40.11V144.68H40.64M44.00 145.90H42.69V146.10H44.00M44.00 146.70H42.68V146.90H44.00M44.00 146.50H41.84V146.80H42.68M44.00 146.30H40.96V146.65H41.84M42.69 146.00H39.10V146.48H40.96M39.10 146.24H38.82V147.10H44.00M38.82 146.67H38.25V147.30H44.00M44.00 145.70H37.84V146.98H38.25M44.00 145.50H37.55V146.34H37.84M44.00 145.30H36.60V145.92H37.55M44.00 147.50H42.91V147.70H44.00M42.91 147.60H42.13V147.90H44.00M42.13 147.75H40.96V148.10H44.00M36.60 145.61H36.40V147.93H40.96M44.00 148.50H42.79V148.70H44.00M42.79 148.60H41.61V148.90H44.00M44.00 148.30H40.65V148.75H41.61M44.00 149.50H42.80V149.70H44.00M44.00 150.10H42.67V150.30H44.00M44.00 149.90H41.76V150.20H42.67M41.76 150.05H41.29V150.50H44.00M42.80 149.60H39.11V150.28H41.29M39.11 149.94H38.91V150.70H44.00M44.00 149.30H38.71V150.32H38.91M44.00 151.10H42.86V151.30H44.00M44.00 150.90H41.74V151.20H42.86M38.71 149.81H36.62V151.05H41.74M44.00 149.10H36.42V150.43H36.62M40.65 148.53H34.15V149.76H36.42M34.15 149.14H33.95V151.50H44.00M36.40 146.77H32.88V150.32H33.95M40.11 144.49H31.39V148.55H32.88M27.22 139.50H24.98V146.52H31.39M36.76 133.71H23.64V143.01H24.98M44.00 151.70H42.87V151.90H44.00M42.87 151.80H41.55V152.10H44.00M44.00 152.30H42.62V152.50H44.00M44.00 152.90H42.91V153.10H44.00M42.91 153.00H41.96V153.30H44.00M44.00 152.70H41.24V153.15H41.96M41.24 152.93H40.42V153.50H44.00M40.42 153.21H39.27V153.70H44.00M39.27 153.46H38.99V153.90H44.00M38.99 153.68H38.33V154.10H44.00M38.33 153.89H38.07V154.30H44.00M44.00 154.70H42.77V154.90H44.00M44.00 154.50H42.09V154.80H42.77M38.07 154.09H36.27V154.65H42.09M42.62 152.40H35.28V154.37H36.27M41.55 151.95H34.22V153.39H35.28M23.64 138.36H20.73V152.67H34.22M30.19 129.73H20.53V145.51H20.73M31.87 121.29H16.00V137.62H20.53" fill="none" stroke="#0a7a72" stroke-width="0.25" stroke-opacity="0.8"/>
<rect x="32" y="155.00" width="12.4" height="19.60" fill="url(#dg3)"/>
<path d="M44.00 155.10H42.67V155.30H44.00M44.00 155.71H42.63V155.91H44.00M44.00 155.51H41.13V155.81H42.63M41.13 155.66H40.73V156.11H44.00M42.67 155.20H38.08V155.88H40.73M38.08 155.54H37.25V156.31H44.00M44.00 156.72H42.55V156.92H44.00M44.00 156.52H41.54V156.82H42.55M41.54 156.67H40.61V157.12H44.00M40.61 156.89H39.51V157.32H44.00M44.00 157.53H42.45V157.73H44.00M42.45 157.63H41.72V157.93H44.00M39.51 157.11H37.93V157.78H41.72M37.93 157.44H36.90V158.13H44.00M37.25 155.93H34.33V157.79H36.90M44.00 158.33H42.65V158.54H44.00M44.00 158.94H42.63V159.14H44.00M44.00 158.74H41.04V159.04H42.63M42.65 158.44H39.40V158.89H41.04M44.00 159.34H42.39V159.55H44.00M44.00 160.15H42.45V160.35H44.00M44.00 159.95H41.38V160.25H42.45M41.38 160.10H40.75V160.56H44.00M44.00 159.75H39.52V160.33H40.75M39.52 160.04H38.48V160.76H44.00M42.39 159.45H36.85V160.40H38.48M44.00 160.96H42.60V161.16H44.00M44.00 161.36H42.56V161.57H44.00M42.56 161.47H41.20V161.77H44.00M41.20 161.62H40.74V161.97H44.00M40.74 161.79H39.80V162.17H44.00M39.80 161.98H38.11V162.38H44.00M42.60 161.06H37.52V162.18H38.11M44.00 162.78H42.40V162.98H44.00M44.00 162.58H41.69V162.88H42.40M37.52 161.62H34.83V162.73H41.69M34.83 162.17H34.63V163.18H44.00M44.00 163.59H42.41V163.79H44.00M44.00 163.39H41.24V163.69H42.41M41.24 163.54H40.16V163.99H44.00M40.16 163.76H39.91V164.19H44.00M34.63 162.68H34.28V163.98H39.91M36.85 159.92H28.87V163.33H34.28M44.00 165.00H42.55V165.20H44.00M42.55 165.10H41.05V165.41H44.00M44.00 164.80H40.08V165.25H41.05M44.00 164.60H38.89V165.03H40.08M44.00 164.40H37.91V164.81H38.89M37.91 164.60H37.71V165.61H44.00M28.87 161.63H27.27V165.11H37.71M44.00 166.01H42.66V166.21H44.00M44.00 165.81H41.15V166.11H42.66M44.00 166.82H42.69V167.02H44.00M44.00 166.62H41.61V166.92H42.69M41.61 166.77H40.57V167.22H44.00M44.00 167.43H42.48V167.63H44.00M40.57 167.00H38.55V167.53H42.48M44.00 166.42H37.47V167.26H38.55M41.15 165.96H36.97V166.84H37.47M27.27 163.37H23.82V166.40H36.97M39.40 158.66H23.62V164.88H23.82M44.00 168.24H42.52V168.44H44.00M44.00 168.03H41.16V168.34H42.52M44.00 167.83H40.38V168.18H41.16M44.00 169.25H42.72V169.45H44.00M44.00 169.65H42.56V169.85H44.00M42.72 169.35H40.71V169.75H42.56M44.00 169.04H39.78V169.55H40.71M44.00 168.84H39.16V169.30H39.78M44.00 168.64H38.62V169.07H39.16M38.62 168.85H37.49V170.05H44.00M40.38 168.01H33.94V169.45H37.49M23.62 161.77H22.65V168.73H33.94M44.00 170.46H42.61V170.66H44.00M44.00 170.26H41.07V170.56H42.61M22.65 165.25H22.45V170.41H41.07M44.00 170.86H42.38V171.06H44.00M44.00 171.47H42.59V171.67H44.00M44.00 172.28H42.62V172.48H44.00M44.00 172.07H41.50V172.38H42.62M44.00 171.87H39.88V172.23H41.50M42.59 171.57H38.71V172.05H39.88M44.00 171.27H37.74V171.81H38.71M42.38 170.96H35.59V171.54H37.74M44.00 173.29H42.63V173.49H44.00M44.00 173.08H41.15V173.39H42.63M44.00 172.88H39.94V173.24H41.15M39.94 173.06H39.74V173.69H44.00M44.00 172.68H38.11V173.38H39.74M38.11 173.03H37.53V173.89H44.00M35.59 171.25H34.10V173.46H37.53M34.10 172.36H32.80V174.09H44.00M22.45 167.83H20.39V173.23H32.80M44.00 174.30H42.58V174.50H44.00M20.39 170.53H20.12V174.40H42.58M34.33 156.86H16.00V172.46H20.12" fill="none" stroke="#c0392b" stroke-width="0.25" stroke-opacity="0.8"/>
<rect x="32" y="174.60" width="12.4" height="36.90" fill="url(#dg4)"/>
<path d="M44.00 175.30H42.83V175.50H44.00M44.00 175.10H41.71V175.40H42.83M44.00 174.90H41.40V175.25H41.71M41.40 175.08H40.25V175.70H44.00M40.25 175.39H39.56V175.90H44.00M44.00 176.51H42.74V176.71H44.00M44.00 176.91H42.75V177.11H44.00M44.00 177.51H42.75V177.71H44.00M42.75 177.61H41.54V177.91H44.00M44.00 177.31H40.89V177.76H41.54M40.89 177.53H40.61V178.11H44.00M42.75 177.01H38.89V177.82H40.61M42.74 176.61H38.27V177.41H38.89M44.00 176.30H37.55V177.01H38.27M44.00 176.10H36.65V176.66H37.55M39.56 175.65H36.18V176.38H36.65M44.00 174.70H34.62V176.01H36.18M44.00 178.91H42.81V179.11H44.00M44.00 178.71H41.95V179.01H42.81M44.00 178.51H40.61V178.86H41.95M44.00 178.31H40.41V178.69H40.61M44.00 179.71H42.76V179.91H44.00M44.00 179.51H42.05V179.81H42.76M44.00 179.31H40.83V179.66H42.05M40.41 178.50H37.23V179.49H40.83M44.00 180.11H42.62V180.32H44.00M44.00 180.52H42.69V180.72H44.00M44.00 181.12H42.91V181.32H44.00M44.00 180.92H42.09V181.22H42.91M42.09 181.07H41.31V181.52H44.00M42.69 180.62H38.98V181.29H41.31M38.98 180.95H38.78V181.72H44.00M44.00 182.12H42.61V182.32H44.00M44.00 182.52H42.86V182.72H44.00M42.61 182.22H41.08V182.62H42.86M44.00 181.92H40.41V182.42H41.08M40.41 182.17H40.14V182.92H44.00M44.00 183.12H42.93V183.32H44.00M40.14 182.55H39.14V183.22H42.93M38.78 181.34H36.43V182.88H39.14M42.62 180.22H36.08V182.11H36.43M37.23 178.99H32.07V181.16H36.08M44.00 184.33H42.62V184.53H44.00M44.00 184.13H41.93V184.43H42.62M41.93 184.28H41.10V184.73H44.00M44.00 185.13H42.80V185.33H44.00M44.00 184.93H41.89V185.23H42.80M41.89 185.08H41.09V185.53H44.00M41.09 185.30H40.24V185.73H44.00M41.10 184.50H38.34V185.52H40.24M38.34 185.01H36.66V185.93H44.00M44.00 183.93H36.46V185.47H36.66M44.00 183.72H36.26V184.70H36.46M44.00 186.13H42.89V186.33H44.00M36.26 184.21H34.91V186.23H42.89M34.91 185.22H34.57V186.53H44.00M44.00 183.52H34.37V185.88H34.57M44.00 186.93H42.69V187.13H44.00M44.00 187.33H42.80V187.54H44.00M42.69 187.03H41.35V187.43H42.80M44.00 186.73H40.41V187.23H41.35M44.00 187.74H42.84V187.94H44.00M40.41 186.98H38.31V187.84H42.84M34.37 184.70H31.82V187.41H38.31M44.00 188.14H42.88V188.34H44.00M44.00 189.14H42.93V189.34H44.00M44.00 189.54H42.88V189.74H44.00M42.88 189.64H41.56V189.94H44.00M41.56 189.79H41.36V190.14H44.00M42.93 189.24H40.08V189.97H41.36M44.00 188.94H38.59V189.60H40.08M44.00 188.74H38.33V189.27H38.59M44.00 188.54H38.03V189.00H38.33M44.00 190.34H42.62V190.54H44.00M38.03 188.77H37.47V190.44H42.62M42.88 188.24H35.88V189.61H37.47M35.88 188.92H35.68V190.74H44.00M35.68 189.83H34.63V190.94H44.00M44.00 191.14H42.94V191.35H44.00M42.94 191.25H41.78V191.55H44.00M41.78 191.40H41.35V191.75H44.00M44.00 191.95H42.82V192.15H44.00M42.82 192.05H41.86V192.35H44.00M44.00 192.55H42.92V192.75H44.00M44.00 193.35H42.89V193.55H44.00M42.89 193.45H41.63V193.75H44.00M44.00 193.15H41.29V193.60H41.63M41.29 193.38H40.47V193.95H44.00M44.00 192.95H39.17V193.66H40.47M44.00 194.15H42.92V194.35H44.00M39.17 193.31H38.16V194.25H42.92M44.00 194.55H42.92V194.75H44.00M38.16 193.78H37.56V194.65H42.92M42.92 192.65H36.99V194.22H37.56M44.00 194.96H42.64V195.16H44.00M36.99 193.43H35.77V195.06H42.64M44.00 195.36H42.94V195.56H44.00M35.77 194.24H35.57V195.46H42.94M41.86 192.20H34.72V194.85H35.57M44.00 196.16H42.79V196.36H44.00M42.79 196.26H41.68V196.56H44.00M44.00 195.96H41.00V196.41H41.68M44.00 196.76H42.70V196.96H44.00M41.00 196.18H39.15V196.86H42.70M44.00 195.76H38.47V196.52H39.15M38.47 196.14H38.27V197.16H44.00M38.27 196.65H37.39V197.36H44.00M34.72 193.52H33.05V197.01H37.39M41.35 191.57H30.33V195.27H33.05M34.63 190.39H28.24V193.42H30.33M31.82 186.06H26.57V191.90H28.24M32.07 180.08H21.89V188.98H26.57M44.00 198.16H42.89V198.36H44.00M42.89 198.26H42.09V198.56H44.00M44.00 198.77H42.64V198.97H44.00M42.09 198.41H40.66V198.87H42.64M44.00 197.96H39.29V198.64H40.66M39.29 198.30H38.59V199.17H44.00M44.00 197.76H38.39V198.73H38.59M44.00 197.56H37.89V198.25H38.39M44.00 199.37H42.72V199.57H44.00M37.89 197.91H36.37V199.47H42.72M36.37 198.69H35.67V199.77H44.00M44.00 199.97H42.85V200.17H44.00M44.00 201.17H42.81V201.37H44.00M42.81 201.27H41.55V201.57H44.00M44.00 200.97H41.10V201.42H41.55M44.00 200.77H39.74V201.20H41.10M39.74 200.98H39.41V201.77H44.00M44.00 200.57H38.56V201.38H39.41M44.00 200.37H38.36V200.97H38.56M44.00 201.97H42.93V202.17H44.00M42.93 202.07H41.59V202.38H44.00M41.59 202.22H40.61V202.58H44.00M38.36 200.67H36.75V202.40H40.61M42.85 200.07H36.55V201.54H36.75M44.00 202.98H42.63V203.18H44.00M42.63 203.08H41.74V203.38H44.00M41.74 203.23H41.01V203.58H44.00M44.00 202.78H40.04V203.40H41.01M44.00 204.18H42.85V204.38H44.00M44.00 203.98H41.55V204.28H42.85M41.55 204.13H41.30V204.58H44.00M44.00 203.78H40.65V204.36H41.30M40.65 204.07H39.76V204.78H44.00M39.76 204.42H38.57V204.98H44.00M40.04 203.09H37.51V204.70H38.57M44.00 205.18H42.67V205.38H44.00M44.00 205.99H42.68V206.19H44.00M44.00 205.78H41.85V206.09H42.68M44.00 205.58H41.40V205.93H41.85M44.00 206.59H42.78V206.79H44.00M44.00 206.39H42.09V206.69H42.78M44.00 206.99H42.85V207.19H44.00M42.85 207.09H42.11V207.39H44.00M42.11 207.24H40.61V207.59H44.00M40.61 207.41H40.41V207.79H44.00M42.09 206.54H37.83V207.60H40.41M41.40 205.76H37.12V207.07H37.83M42.67 205.28H35.41V206.41H37.12M37.51 203.90H33.98V205.85H35.41M36.55 200.80H28.79V204.87H33.98M44.00 208.39H42.75V208.59H44.00M44.00 208.19H41.95V208.49H42.75M44.00 207.99H41.23V208.34H41.95M41.23 208.17H40.24V208.79H44.00M28.79 202.84H28.59V208.48H40.24M35.67 199.23H28.39V205.66H28.59M21.89 184.53H21.69V202.44H28.39M34.62 175.36H19.27V193.49H21.69M44.00 208.99H42.81V209.19H44.00M44.00 209.39H42.94V209.59H44.00M42.94 209.49H41.61V209.80H44.00M42.81 209.09H40.70V209.64H41.61M44.00 210.40H42.61V210.60H44.00M44.00 210.20H41.93V210.50H42.61M44.00 210.00H41.25V210.35H41.93M40.70 209.37H38.51V210.17H41.25M44.00 211.00H42.78V211.20H44.00M44.00 210.80H42.15V211.10H42.78M42.15 210.95H40.67V211.40H44.00M38.51 209.77H36.93V211.17H40.67M19.27 184.42H16.00V210.47H36.93" fill="none" stroke="#a8b000" stroke-width="0.25" stroke-opacity="0.8"/>
<rect x="32" y="211.50" width="12.4" height="43.00" fill="url(#dg5)"/>
<path d="M44.00 211.60H42.67V211.80H44.00M44.00 212.80H42.76V213.00H44.00M44.00 213.20H42.79V213.40H44.00M42.76 212.90H41.30V213.30H42.79M44.00 212.60H40.46V213.10H41.30M44.00 212.40H40.26V212.85H40.46M40.26 212.62H39.76V213.60H44.00M39.76 213.11H38.79V213.80H44.00M44.00 212.20H38.50V213.46H38.79M38.50 212.83H38.05V214.00H44.00M44.00 214.20H42.91V214.40H44.00M42.91 214.30H42.12V214.60H44.00M38.05 213.41H37.11V214.45H42.12M44.00 212.00H36.91V213.93H37.11M36.91 212.97H36.06V214.80H44.00M36.06 213.88H35.86V215.00H44.00M42.67 211.70H34.55V214.44H35.86M44.00 215.20H42.76V215.40H44.00M34.55 213.07H34.12V215.30H42.76M44.00 215.80H42.94V216.00H44.00M42.94 215.90H41.73V216.20H44.00M44.00 216.60H42.86V216.80H44.00M44.00 216.40H41.91V216.70H42.86M44.00 217.60H42.86V217.80H44.00M42.86 217.70H41.72V218.00H44.00M41.72 217.85H41.35V218.20H44.00M44.00 217.40H40.27V218.02H41.35M44.00 217.20H40.07V217.71H40.27M44.00 217.00H38.79V217.46H40.07M41.91 216.55H37.89V217.23H38.79M41.73 216.05H36.73V216.89H37.89M44.00 219.00H42.74V219.20H44.00M44.00 218.80H41.65V219.10H42.74M41.65 218.95H40.74V219.40H44.00M44.00 218.60H40.51V219.18H40.74M44.00 218.40H39.63V218.89H40.51M36.73 216.47H35.77V218.64H39.63M44.00 215.60H34.25V217.56H35.77M34.12 214.19H29.26V216.58H34.25M44.00 219.80H42.91V220.00H44.00M44.00 220.40H42.67V220.60H44.00M44.00 220.20H41.66V220.50H42.67M41.66 220.35H41.10V220.80H44.00M42.91 219.90H39.93V220.57H41.10M44.00 219.60H39.73V220.24H39.93M29.26 215.38H29.06V219.92H39.73M44.00 221.60H42.85V221.80H44.00M44.00 221.40H42.01V221.70H42.85M44.00 222.40H42.85V222.60H44.00M44.00 222.80H42.98V223.00H44.00M44.00 223.20H42.82V223.40H44.00M42.98 222.90H41.22V223.30H42.82M42.85 222.50H39.86V223.10H41.22M39.86 222.80H38.63V223.60H44.00M44.00 222.20H38.43V223.20H38.63M44.00 222.00H37.73V222.70H38.43M42.01 221.55H37.42V222.35H37.73M44.00 221.20H35.75V221.95H37.42M44.00 221.00H35.55V221.57H35.75M29.06 217.65H28.86V221.29H35.55M44.00 223.80H42.87V224.00H44.00M42.87 223.90H42.06V224.20H44.00M42.06 224.05H40.93V224.40H44.00M40.93 224.23H40.57V224.60H44.00M28.86 219.47H26.48V224.41H40.57M44.00 225.20H42.77V225.40H44.00M44.00 225.00H42.01V225.30H42.77M44.00 226.20H42.72V226.40H44.00M44.00 226.60H42.82V226.80H44.00M42.72 226.30H41.08V226.70H42.82M41.08 226.50H39.99V227.00H44.00M44.00 226.00H39.25V226.75H39.99M44.00 225.80H38.76V226.38H39.25M44.00 225.60H38.04V226.09H38.76M38.04 225.84H37.84V227.20H44.00M42.01 225.15H36.14V226.52H37.84M44.00 224.80H35.94V225.84H36.14M44.00 228.00H42.91V228.20H44.00M44.00 227.80H42.11V228.10H42.91M44.00 227.60H40.87V227.95H42.11M44.00 227.40H40.67V227.77H40.87M40.67 227.59H40.25V228.40H44.00M44.00 228.60H42.69V228.80H44.00M44.00 229.00H42.94V229.20H44.00M44.00 229.60H42.96V229.80H44.00M42.96 229.70H42.00V230.00H44.00M44.00 229.40H40.91V229.85H42.00M40.91 229.62H40.71V230.20H44.00M40.71 229.91H40.01V230.40H44.00M40.01 230.16H39.53V230.60H44.00M42.94 229.10H38.89V230.38H39.53M44.00 230.80H42.88V231.00H44.00M44.00 231.20H42.75V231.40H44.00M44.00 232.20H42.83V232.40H44.00M44.00 232.00H41.90V232.30H42.83M41.90 232.15H40.73V232.60H44.00M44.00 231.80H39.99V232.38H40.73M44.00 231.60H39.67V232.09H39.99M39.67 231.84H39.47V232.80H44.00M42.75 231.30H37.58V232.32H39.47M42.88 230.90H37.38V231.81H37.58M38.89 229.74H35.58V231.36H37.38M42.69 228.70H33.60V230.55H35.58M40.25 227.99H33.40V229.62H33.60M44.00 233.60H42.83V233.80H44.00M44.00 233.40H42.19V233.70H42.83M42.19 233.55H41.47V234.00H44.00M44.00 233.20H40.09V233.78H41.47M44.00 233.00H39.49V233.49H40.09M39.49 233.24H39.29V234.20H44.00M44.00 234.60H42.92V234.80H44.00M44.00 234.40H41.92V234.70H42.92M41.92 234.55H41.29V235.00H44.00M39.29 233.72H38.31V234.78H41.29M44.00 235.40H42.84V235.60H44.00M44.00 235.20H41.97V235.50H42.84M44.00 235.80H42.91V236.00H44.00M44.00 236.20H42.70V236.40H44.00M42.91 235.90H41.14V236.30H42.70M44.00 237.00H42.75V237.20H44.00M42.75 237.10H41.85V237.40H44.00M44.00 236.80H40.75V237.25H41.85M44.00 237.80H42.68V238.00H44.00M44.00 237.60H41.78V237.90H42.68M41.78 237.75H41.33V238.20H44.00M40.75 237.03H38.86V237.97H41.33M44.00 236.60H38.38V237.50H38.86M41.14 236.10H36.20V237.05H38.38M44.00 238.40H42.92V238.60H44.00M36.20 236.58H36.00V238.50H42.92M41.97 235.35H34.02V237.54H36.00M38.31 234.25H33.82V236.44H34.02M33.40 228.81H27.01V235.35H33.82M35.94 225.32H26.81V232.08H27.01M44.00 238.80H42.95V239.00H44.00M42.95 238.90H41.84V239.20H44.00M44.00 239.60H42.73V239.80H44.00M44.00 240.00H42.88V240.20H44.00M42.73 239.70H41.07V240.10H42.88M44.00 239.40H40.49V239.90H41.07M41.84 239.05H39.41V239.65H40.49M44.00 240.60H42.86V240.80H44.00M44.00 241.00H42.84V241.20H44.00M42.86 240.70H41.22V241.10H42.84M44.00 240.40H40.28V240.90H41.22M44.00 241.40H42.89V241.60H44.00M40.28 240.65H39.19V241.50H42.89M39.41 239.35H36.32V241.07H39.19M44.00 241.80H42.87V242.00H44.00M36.32 240.21H35.44V241.90H42.87M26.81 228.70H26.49V241.06H35.44M26.48 221.94H19.47V234.88H26.49M44.00 242.40H42.88V242.60H44.00M42.88 242.50H41.77V242.80H44.00M44.00 242.20H41.11V242.65H41.77M19.47 228.41H19.27V242.43H41.11M44.00 243.60H42.90V243.80H44.00M44.00 243.40H41.73V243.70H42.90M44.00 243.20H40.99V243.55H41.73M44.00 243.00H40.65V243.38H40.99M40.65 243.19H39.20V244.00H44.00M39.20 243.59H39.00V244.20H44.00M44.00 244.80H42.94V245.00H44.00M42.94 244.90H42.16V245.20H44.00M44.00 244.60H40.87V245.05H42.16M40.87 244.82H40.19V245.40H44.00M40.19 245.11H39.96V245.60H44.00M44.00 244.40H38.94V245.36H39.96M44.00 245.80H42.92V246.00H44.00M38.94 244.88H37.87V245.90H42.92M39.00 243.90H35.09V245.39H37.87M44.00 247.00H42.75V247.20H44.00M44.00 246.80H42.07V247.10H42.75M44.00 246.60H41.21V246.95H42.07M44.00 246.40H40.87V246.77H41.21M44.00 246.20H39.93V246.59H40.87M44.00 247.60H42.88V247.80H44.00M44.00 247.40H41.95V247.70H42.88M39.93 246.39H37.45V247.55H41.95M44.00 248.00H42.87V248.20H44.00M37.45 246.97H36.97V248.10H42.87M44.00 248.40H42.86V248.60H44.00M36.97 247.54H36.77V248.50H42.86M44.00 249.20H42.73V249.40H44.00M44.00 249.00H42.11V249.30H42.73M42.11 249.15H41.48V249.60H44.00M41.48 249.38H40.70V249.80H44.00M40.70 249.59H39.64V250.00H44.00M39.64 249.79H39.36V250.20H44.00M44.00 250.80H42.71V251.00H44.00M44.00 250.60H41.68V250.90H42.71M41.68 250.75H41.35V251.20H44.00M44.00 250.40H40.88V250.97H41.35M40.88 250.69H40.24V251.40H44.00M44.00 251.60H42.73V251.80H44.00M42.73 251.70H41.96V252.00H44.00M40.24 251.04H38.32V251.85H41.96M44.00 252.20H42.69V252.40H44.00M38.32 251.45H37.55V252.30H42.69M44.00 252.60H42.70V252.80H44.00M44.00 253.00H42.89V253.20H44.00M42.70 252.70H41.49V253.10H42.89M37.55 251.87H35.66V252.90H41.49M44.00 253.40H42.90V253.60H44.00M42.90 253.50H41.79V253.80H44.00M44.00 254.00H42.97V254.20H44.00M41.79 253.65H40.24V254.10H42.97M40.24 253.88H40.04V254.40H44.00M35.66 252.39H33.69V254.14H40.04M39.36 250.00H31.20V253.26H33.69M44.00 248.80H31.00V251.63H31.20M36.77 248.02H29.07V250.21H31.00M35.09 244.64H27.48V249.12H29.07M19.27 235.42H16.00V246.88H27.48" fill="none" stroke="#9a3fb8" stroke-width="0.25" stroke-opacity="0.8"/>
<rect x="32" y="254.50" width="12.4" height="32.10" fill="url(#dg6)"/>
<path d="M44.00 254.80H42.66V255.00H44.00M44.00 254.60H41.86V254.90H42.66M41.86 254.75H40.63V255.20H44.00M40.63 254.98H39.95V255.40H44.00M39.95 255.19H39.30V255.60H44.00M44.00 256.00H42.88V256.21H44.00M44.00 255.80H41.86V256.11H42.88M44.00 256.61H42.86V256.81H44.00M44.00 257.01H42.62V257.21H44.00M44.00 257.41H42.57V257.61H44.00M42.62 257.11H40.97V257.51H42.57M40.97 257.31H39.63V257.81H44.00M42.86 256.71H38.18V257.56H39.63M44.00 258.01H42.72V258.21H44.00M38.18 257.13H37.98V258.11H42.72M44.00 258.41H42.65V258.61H44.00M42.65 258.51H42.02V258.81H44.00M37.98 257.62H35.94V258.66H42.02M44.00 256.41H35.74V258.14H35.94M41.86 255.95H33.75V257.27H35.74M39.30 255.40H33.55V256.61H33.75M44.00 259.01H42.74V259.21H44.00M42.74 259.11H41.66V259.42H44.00M44.00 259.62H42.76V259.82H44.00M44.00 260.22H42.83V260.42H44.00M42.83 260.32H41.86V260.62H44.00M44.00 260.02H40.61V260.47H41.86M44.00 261.22H42.72V261.42H44.00M42.72 261.32H42.02V261.62H44.00M44.00 261.82H42.75V262.02H44.00M42.02 261.47H39.92V261.92H42.75M44.00 262.22H42.71V262.42H44.00M39.92 261.70H39.01V262.32H42.71M44.00 261.02H38.11V262.01H39.01M44.00 260.82H37.34V261.52H38.11M44.00 262.63H42.82V262.83H44.00M37.34 261.17H36.33V262.73H42.82M40.61 260.24H34.52V261.95H36.33M44.00 263.23H42.70V263.43H44.00M42.70 263.33H41.85V263.63H44.00M44.00 263.03H41.19V263.48H41.85M44.00 263.83H42.69V264.03H44.00M41.19 263.25H39.77V263.93H42.69M34.52 261.09H32.13V263.59H39.77M42.76 259.72H31.88V262.34H32.13M41.66 259.26H30.59V261.03H31.88M44.00 264.43H42.85V264.63H44.00M44.00 264.23H41.56V264.53H42.85M44.00 264.83H42.77V265.03H44.00M44.00 265.23H42.56V265.43H44.00M42.77 264.93H40.71V265.33H42.56M41.56 264.38H38.85V265.13H40.71M38.85 264.76H38.08V265.63H44.00M38.08 265.20H37.58V265.84H44.00M37.58 265.52H37.38V266.04H44.00M37.38 265.78H37.16V266.24H44.00M44.00 266.44H42.59V266.64H44.00M44.00 267.04H42.64V267.24H44.00M42.64 267.14H41.81V267.44H44.00M41.81 267.29H40.56V267.64H44.00M40.56 267.47H39.94V267.84H44.00M44.00 266.84H39.31V267.65H39.94M42.59 266.54H38.28V267.25H39.31M37.16 266.01H34.54V266.89H38.28M44.00 268.44H42.80V268.64H44.00M42.80 268.54H41.84V268.84H44.00M41.84 268.69H40.69V269.05H44.00M44.00 268.24H40.13V268.87H40.69M44.00 268.04H39.50V268.56H40.13M44.00 269.25H42.76V269.45H44.00M44.00 269.65H42.85V269.85H44.00M44.00 270.05H42.75V270.25H44.00M44.00 270.45H42.92V270.65H44.00M42.92 270.55H41.67V270.85H44.00M44.00 271.05H42.56V271.25H44.00M42.56 271.15H41.65V271.45H44.00M41.67 270.70H38.78V271.30H41.65M42.75 270.15H38.33V271.00H38.78M42.85 269.75H37.35V270.58H38.33M42.76 269.35H37.15V270.16H37.35M37.15 269.75H35.76V271.65H44.00M44.00 272.05H42.71V272.26H44.00M44.00 271.85H41.90V272.15H42.71M41.90 272.00H41.07V272.46H44.00M41.07 272.23H39.76V272.66H44.00M35.76 270.70H34.71V272.44H39.76M39.50 268.30H33.54V271.57H34.71M34.54 266.45H29.27V269.94H33.54M44.00 272.86H42.61V273.06H44.00M44.00 273.66H42.75V273.86H44.00M42.75 273.76H41.93V274.06H44.00M44.00 273.46H41.10V273.91H41.93M41.10 273.68H40.28V274.26H44.00M44.00 273.26H39.96V273.97H40.28M39.96 273.62H39.33V274.46H44.00M44.00 274.66H42.63V274.86H44.00M39.33 274.04H37.56V274.76H42.63M44.00 275.06H42.65V275.26H44.00M42.65 275.16H41.93V275.47H44.00M37.56 274.40H36.13V275.31H41.93M42.61 272.96H35.93V274.86H36.13M44.00 275.67H42.56V275.87H44.00M42.56 275.77H41.50V276.07H44.00M41.50 275.92H40.71V276.27H44.00M35.93 273.91H32.94V276.09H40.71M44.00 276.47H42.65V276.67H44.00M42.65 276.57H41.78V276.87H44.00M32.94 275.00H32.74V276.72H41.78M44.00 277.07H42.63V277.27H44.00M44.00 277.47H42.89V277.67H44.00M44.00 278.07H42.89V278.27H44.00M44.00 277.87H41.49V278.17H42.89M44.00 278.68H42.90V278.88H44.00M44.00 278.47H41.79V278.78H42.90M44.00 279.08H42.57V279.28H44.00M41.79 278.63H39.84V279.18H42.57M39.84 278.90H39.02V279.48H44.00M41.49 278.02H38.35V279.19H39.02M42.89 277.57H37.25V278.61H38.35M42.63 277.17H35.45V278.09H37.25M32.74 275.86H30.15V277.63H35.45M29.27 268.19H22.91V276.74H30.15M44.00 279.68H42.90V279.88H44.00M44.00 281.08H42.65V281.28H44.00M44.00 280.88H41.53V281.18H42.65M41.53 281.03H41.32V281.48H44.00M44.00 280.68H39.69V281.26H41.32M44.00 280.48H39.29V280.97H39.69M44.00 280.28H38.46V280.73H39.29M44.00 280.08H38.26V280.50H38.46M42.90 279.78H36.52V280.29H38.26M22.91 272.47H22.71V280.04H36.52M30.59 260.15H20.36V276.25H22.71M44.00 281.89H42.67V282.09H44.00M44.00 281.68H41.54V281.99H42.67M20.36 268.20H20.16V281.84H41.54M44.00 282.29H42.85V282.49H44.00M44.00 282.89H42.85V283.09H44.00M42.85 282.99H41.51V283.29H44.00M44.00 282.69H40.96V283.14H41.51M44.00 284.09H42.87V284.29H44.00M44.00 283.89H41.53V284.19H42.87M44.00 283.69H40.85V284.04H41.53M44.00 283.49H39.79V283.87H40.85M39.79 283.68H39.59V284.49H44.00M44.00 284.89H42.68V285.10H44.00M44.00 284.69H41.87V285.00H42.68M41.87 284.84H40.94V285.30H44.00M40.94 285.07H40.33V285.50H44.00M40.33 285.28H40.07V285.70H44.00M39.59 284.09H36.08V285.49H40.07M44.00 285.90H42.67V286.10H44.00M36.08 284.79H34.68V286.00H42.67M44.00 286.30H42.80V286.50H44.00M34.68 285.39H34.48V286.40H42.80M40.96 282.91H33.46V285.90H34.48M42.85 282.39H32.90V284.40H33.46M20.16 275.02H19.96V283.40H32.90M33.55 256.01H16.00V279.21H19.96" fill="none" stroke="#202028" stroke-width="0.25" stroke-opacity="0.8"/>
<rect x="32" y="286.60" width="12.4" height="13.10" fill="url(#dg7)"/>
<path d="M44.00 287.91H42.57V288.11H44.00M44.00 287.71H40.65V288.01H42.57M44.00 287.51H39.49V287.86H40.65M39.49 287.68H39.29V288.31H44.00M44.00 288.51H42.50V288.72H44.00M39.29 288.00H37.41V288.62H42.50M44.00 288.92H42.29V289.12H44.00M37.41 288.31H34.89V289.02H42.29M44.00 287.31H34.42V288.66H34.89M44.00 287.10H34.22V287.98H34.42M44.00 286.90H33.49V287.54H34.22M44.00 286.70H31.88V287.22H33.49M44.00 289.52H42.53V289.72H44.00M44.00 289.32H40.82V289.62H42.53M40.82 289.47H40.18V289.93H44.00M44.00 290.33H42.58V290.53H44.00M44.00 290.93H42.34V291.13H44.00M44.00 290.73H40.67V291.03H42.34M42.58 290.43H38.21V290.88H40.67M38.21 290.66H37.80V291.34H44.00M44.00 291.54H42.43V291.74H44.00M37.80 291.00H35.71V291.64H42.43M44.00 290.13H35.51V291.32H35.71M44.00 292.14H42.38V292.34H44.00M44.00 291.94H41.39V292.24H42.38M41.39 292.09H39.39V292.55H44.00M35.51 290.72H31.92V292.32H39.39M44.00 292.95H42.54V293.15H44.00M44.00 292.75H40.66V293.05H42.54M44.00 293.55H42.54V293.75H44.00M44.00 293.35H41.25V293.65H42.54M41.25 293.50H40.06V293.96H44.00M40.66 292.90H37.53V293.73H40.06M31.92 291.52H28.67V293.31H37.53M44.00 294.16H42.56V294.36H44.00M44.00 294.56H42.44V294.76H44.00M42.56 294.26H40.17V294.66H42.44M28.67 292.42H28.47V294.46H40.17M44.00 294.96H42.62V295.17H44.00M44.00 295.37H42.54V295.57H44.00M42.62 295.06H40.37V295.47H42.54M28.47 293.44H28.27V295.27H40.37M44.00 296.17H42.30V296.37H44.00M44.00 295.97H41.01V296.27H42.30M44.00 295.77H40.21V296.12H41.01M28.27 294.35H26.04V295.95H40.21M40.18 289.70H23.53V295.15H26.04M31.88 286.96H20.54V292.42H23.53M44.00 296.58H42.47V296.78H44.00M42.47 296.68H41.30V296.98H44.00M44.00 297.79H42.21V297.99H44.00M44.00 297.58H40.69V297.89H42.21M44.00 297.38H39.84V297.74H40.69M44.00 297.18H38.65V297.56H39.84M44.00 298.19H42.24V298.39H44.00M42.24 298.29H40.89V298.59H44.00M40.89 298.44H39.32V298.79H44.00M44.00 299.20H42.19V299.40H44.00M44.00 298.99H40.83V299.30H42.19M39.32 298.62H37.21V299.15H40.83M37.21 298.88H35.40V299.60H44.00M38.65 297.37H34.31V299.24H35.40M41.30 296.83H33.19V298.30H34.31M20.54 289.69H16.00V297.57H33.19" fill="none" stroke="#a0582a" stroke-width="0.25" stroke-opacity="0.8"/>
<rect x="32" y="299.70" width="12.4" height="39.50" fill="url(#dg8)"/>
<path d="M44.00 300.00H42.79V300.20H44.00M42.79 300.10H41.98V300.40H44.00M44.00 299.80H41.34V300.25H41.98M44.00 300.80H42.93V301.00H44.00M44.00 300.60H41.67V300.90H42.93M41.67 300.75H41.21V301.20H44.00M44.00 302.41H42.76V302.61H44.00M44.00 302.21H41.62V302.51H42.76M41.62 302.36H41.06V302.81H44.00M44.00 302.01H40.27V302.58H41.06M44.00 301.81H39.65V302.29H40.27M44.00 301.60H38.92V302.05H39.65M38.92 301.83H38.03V303.01H44.00M44.00 303.21H42.74V303.41H44.00M44.00 303.81H42.95V304.01H44.00M44.00 303.61H41.80V303.91H42.95M42.74 303.31H40.77V303.76H41.80M44.00 304.21H42.67V304.41H44.00M44.00 304.61H42.63V304.81H44.00M42.67 304.31H40.77V304.71H42.63M40.77 303.53H38.52V304.51H40.77M38.03 302.42H34.01V304.02H38.52M44.00 301.40H33.81V303.22H34.01M41.21 300.98H33.58V302.31H33.81M41.34 300.03H32.40V301.65H33.58M44.00 305.01H42.81V305.21H44.00M44.00 305.82H42.85V306.02H44.00M44.00 305.61H41.98V305.92H42.85M44.00 305.41H40.64V305.77H41.98M40.64 305.59H40.44V306.22H44.00M42.81 305.11H39.17V305.90H40.44M44.00 306.82H42.76V307.02H44.00M44.00 306.62H41.68V306.92H42.76M44.00 306.42H41.20V306.77H41.68M39.17 305.51H37.12V306.59H41.20M32.40 300.84H29.35V306.05H37.12M44.00 307.22H42.90V307.42H44.00M44.00 308.02H42.72V308.22H44.00M44.00 308.62H42.74V308.82H44.00M42.74 308.72H41.66V309.02H44.00M41.66 308.87H40.87V309.22H44.00M40.87 309.05H39.82V309.42H44.00M44.00 308.42H39.62V309.24H39.82M42.72 308.12H38.52V308.83H39.62M44.00 309.63H42.85V309.83H44.00M38.52 308.48H36.74V309.73H42.85M44.00 307.82H36.54V309.10H36.74M44.00 307.62H36.34V308.46H36.54M42.90 307.32H36.14V308.04H36.34M44.00 310.23H42.64V310.43H44.00M42.64 310.33H41.70V310.63H44.00M41.70 310.48H41.17V310.83H44.00M44.00 310.03H40.10V310.65H41.17M36.14 307.68H34.66V310.34H40.10M44.00 311.63H42.71V311.83H44.00M44.00 311.43H41.79V311.73H42.71M44.00 311.23H40.89V311.58H41.79M44.00 311.03H40.58V311.40H40.89M44.00 312.23H42.66V312.43H44.00M44.00 312.63H42.75V312.83H44.00M42.75 312.73H42.07V313.03H44.00M42.66 312.33H40.27V312.88H42.07M40.27 312.61H39.16V313.23H44.00M44.00 312.03H38.56V312.92H39.16M38.56 312.48H38.36V313.43H44.00M44.00 313.84H42.84V314.04H44.00M42.84 313.94H41.75V314.24H44.00M41.75 314.09H41.33V314.44H44.00M44.00 313.64H40.58V314.26H41.33M44.00 314.84H42.63V315.04H44.00M44.00 315.44H42.85V315.64H44.00M44.00 315.24H42.07V315.54H42.85M44.00 316.04H42.77V316.24H44.00M44.00 315.84H41.98V316.14H42.77M42.07 315.39H39.14V315.99H41.98M42.63 314.94H38.94V315.69H39.14M44.00 316.44H42.82V316.64H44.00M44.00 317.24H42.91V317.44H44.00M44.00 317.04H41.58V317.34H42.91M41.58 317.19H41.38V317.65H44.00M41.38 317.42H39.89V317.85H44.00M39.89 317.63H39.21V318.05H44.00M44.00 316.84H39.01V317.84H39.21M42.82 316.54H37.74V317.34H39.01M44.00 318.65H42.92V318.85H44.00M44.00 318.45H41.73V318.75H42.92M41.73 318.60H40.90V319.05H44.00M44.00 318.25H40.70V318.82H40.90M37.74 316.94H36.36V318.54H40.70M38.94 315.31H34.88V317.74H36.36M44.00 319.25H42.73V319.45H44.00M34.88 316.53H33.30V319.35H42.73M33.30 317.94H31.74V319.65H44.00M44.00 314.64H31.54V318.79H31.74M44.00 320.05H42.96V320.25H44.00M42.96 320.15H41.88V320.45H44.00M44.00 319.85H41.17V320.30H41.88M41.17 320.08H40.01V320.65H44.00M31.54 316.72H30.80V320.36H40.01M44.00 321.05H42.77V321.25H44.00M44.00 320.85H41.58V321.15H42.77M30.80 318.54H29.94V321.00H41.58M40.58 313.95H29.55V319.77H29.94M44.00 321.86H42.86V322.06H44.00M44.00 322.46H42.82V322.66H44.00M44.00 322.26H42.04V322.56H42.82M42.86 321.96H40.36V322.41H42.04M44.00 321.66H39.94V322.18H40.36M44.00 321.46H39.28V321.92H39.94M29.55 316.86H28.32V321.69H39.28M44.00 323.26H42.90V323.46H44.00M42.90 323.36H42.09V323.66H44.00M44.00 323.06H41.22V323.51H42.09M44.00 322.86H40.37V323.28H41.22M44.00 323.86H42.66V324.06H44.00M42.66 323.96H41.88V324.26H44.00M41.88 324.11H41.44V324.46H44.00M40.37 323.07H37.79V324.29H41.44M28.32 319.27H28.12V323.68H37.79M44.00 325.26H42.82V325.47H44.00M44.00 325.06H41.82V325.36H42.82M44.00 324.86H41.45V325.21H41.82M44.00 324.66H40.08V325.04H41.45M40.08 324.85H39.88V325.67H44.00M28.12 321.48H27.92V325.26H39.88M44.00 325.87H42.85V326.07H44.00M42.85 325.97H41.99V326.27H44.00M41.99 326.12H41.43V326.47H44.00M27.92 323.37H27.72V326.29H41.43M44.00 327.87H42.73V328.07H44.00M44.00 327.67H42.14V327.97H42.73M42.14 327.82H41.34V328.27H44.00M41.34 328.05H40.79V328.47H44.00M44.00 327.47H39.96V328.26H40.79M44.00 327.27H38.63V327.87H39.96M38.63 327.57H38.23V328.67H44.00M44.00 327.07H38.03V328.12H38.23M44.00 326.87H37.83V327.59H38.03M44.00 326.67H36.69V327.23H37.83M36.69 326.95H36.49V328.87H44.00M44.00 329.68H42.93V329.88H44.00M42.93 329.78H41.90V330.08H44.00M44.00 329.48H41.31V329.93H41.90M44.00 329.27H39.99V329.70H41.31M44.00 329.07H39.35V329.49H39.99M39.35 329.28H39.15V330.28H44.00M36.49 327.91H34.12V329.78H39.15M27.72 324.83H25.08V328.85H34.12M38.36 312.96H24.88V326.84H25.08M40.58 311.22H23.72V319.90H24.88M44.00 330.68H42.78V330.88H44.00M42.78 330.78H41.94V331.08H44.00M44.00 330.48H41.18V330.93H41.94M44.00 331.28H42.68V331.48H44.00M44.00 332.28H42.68V332.48H44.00M42.68 332.38H42.06V332.68H44.00M44.00 332.08H41.15V332.53H42.06M44.00 331.88H39.83V332.31H41.15M39.83 332.09H39.63V332.88H44.00M39.63 332.49H39.05V333.08H44.00M44.00 333.29H42.90V333.49H44.00M39.05 332.79H38.17V333.39H42.90M44.00 331.68H37.01V333.09H38.17M42.68 331.38H36.81V332.38H37.01M41.18 330.70H36.41V331.88H36.81M23.72 315.56H23.52V331.29H36.41M44.00 333.69H42.67V333.89H44.00M42.67 333.79H41.64V334.09H44.00M41.64 333.94H41.32V334.29H44.00M44.00 335.29H42.64V335.49H44.00M42.64 335.39H42.01V335.69H44.00M44.00 335.09H41.46V335.54H42.01M44.00 334.89H40.14V335.32H41.46M44.00 335.89H42.85V336.09H44.00M40.14 335.10H39.54V335.99H42.85M44.00 334.69H38.34V335.55H39.54M44.00 334.49H37.97V335.12H38.34M37.97 334.80H37.77V336.29H44.00M41.32 334.11H36.85V335.55H37.77M23.52 323.42H23.00V334.83H36.85M44.00 336.69H42.96V336.89H44.00M42.96 336.79H41.78V337.09H44.00M44.00 336.49H40.98V336.94H41.78M44.00 337.30H42.63V337.50H44.00M40.98 336.72H39.60V337.40H42.63M44.00 337.90H42.80V338.10H44.00M44.00 337.70H41.79V338.00H42.80M41.79 337.85H41.43V338.30H44.00M39.60 337.06H38.00V338.07H41.43M38.00 337.56H37.60V338.50H44.00M37.60 338.03H36.96V338.70H44.00M44.00 338.90H42.94V339.10H44.00M36.96 338.37H36.27V339.00H42.94M23.00 329.13H20.80V338.68H36.27M34.66 309.01H20.60V333.90H20.80M29.35 303.44H16.00V321.46H20.60" fill="none" stroke="#18b424" stroke-width="0.25" stroke-opacity="0.8"/>
<rect x="32" y="339.20" width="12.4" height="29.40" fill="url(#dg9)"/>
<path d="M44.00 339.90H42.70V340.10H44.00M44.00 339.70H41.42V340.00H42.70M44.00 339.50H40.81V339.85H41.42M40.81 339.68H40.46V340.30H44.00M44.00 339.30H39.86V339.99H40.46M39.86 339.64H38.12V340.50H44.00M44.00 340.70H42.76V340.90H44.00M44.00 341.10H42.81V341.30H44.00M42.76 340.80H40.49V341.20H42.81M40.49 341.00H40.15V341.50H44.00M40.15 341.25H39.33V341.70H44.00M38.12 340.07H36.84V341.48H39.33M44.00 342.10H42.68V342.30H44.00M44.00 341.90H42.02V342.20H42.68M44.00 342.70H42.67V342.90H44.00M44.00 343.30H42.57V343.50H44.00M44.00 343.10H41.91V343.40H42.57M41.91 343.25H40.35V343.70H44.00M42.67 342.80H38.68V343.48H40.35M44.00 344.10H42.78V344.30H44.00M44.00 343.90H41.57V344.20H42.78M38.68 343.14H37.66V344.05H41.57M37.66 343.59H36.61V344.50H44.00M44.00 342.50H36.41V344.05H36.61M42.02 342.05H36.21V343.27H36.41M44.00 345.10H42.71V345.30H44.00M44.00 344.90H41.64V345.20H42.71M41.64 345.05H40.56V345.50H44.00M44.00 345.90H42.73V346.10H44.00M42.73 346.00H41.56V346.30H44.00M41.56 346.15H40.40V346.50H44.00M44.00 345.70H39.56V346.32H40.40M44.00 346.70H42.70V346.90H44.00M39.56 346.01H39.29V346.80H42.70M39.29 346.41H37.58V347.10H44.00M37.58 346.75H37.23V347.30H44.00M40.56 345.27H35.89V347.03H37.23M44.00 344.70H35.69V346.15H35.89M44.00 347.50H42.80V347.70H44.00M42.80 347.60H41.41V347.90H44.00M41.41 347.75H40.93V348.10H44.00M35.69 345.43H35.19V347.93H40.93M44.00 348.50H42.54V348.70H44.00M44.00 348.30H41.92V348.60H42.54M41.92 348.45H40.81V348.90H44.00M40.81 348.68H40.12V349.10H44.00M35.19 346.68H32.13V348.89H40.12M36.21 342.66H29.14V347.78H32.13M36.84 340.77H28.61V345.22H29.14M44.00 349.30H42.69V349.50H44.00M42.69 349.40H41.88V349.70H44.00M44.00 349.90H42.69V350.10H44.00M44.00 350.50H42.75V350.70H44.00M44.00 350.90H42.79V351.10H44.00M42.75 350.60H40.54V351.00H42.79M44.00 350.30H40.10V350.80H40.54M40.10 350.55H39.81V351.30H44.00M42.69 350.00H37.94V350.93H39.81M44.00 351.50H42.73V351.70H44.00M42.73 351.60H42.02V351.90H44.00M44.00 352.10H42.64V352.30H44.00M44.00 352.70H42.89V352.90H44.00M44.00 352.50H41.68V352.80H42.89M41.68 352.65H41.11V353.10H44.00M42.64 352.20H38.68V352.88H41.11M38.68 352.54H38.48V353.30H44.00M42.02 351.75H36.98V352.92H38.48M37.94 350.46H34.63V352.33H36.98M44.00 353.50H42.56V353.70H44.00M42.56 353.60H41.42V353.90H44.00M44.00 354.10H42.68V354.30H44.00M44.00 355.10H42.89V355.30H44.00M44.00 354.90H41.80V355.20H42.89M44.00 354.70H40.37V355.05H41.80M44.00 354.50H40.17V354.88H40.37M42.68 354.20H38.95V354.69H40.17M44.00 355.70H42.70V355.90H44.00M42.70 355.80H41.42V356.10H44.00M44.00 355.50H41.05V355.95H41.42M44.00 356.50H42.75V356.70H44.00M42.75 356.60H41.58V356.90H44.00M44.00 356.30H41.00V356.75H41.58M41.05 355.73H37.99V356.52H41.00M38.95 354.44H36.05V356.12H37.99M44.00 357.30H42.58V357.50H44.00M42.58 357.40H41.83V357.70H44.00M41.83 357.55H41.10V357.90H44.00M44.00 357.10H40.30V357.73H41.10M36.05 355.28H34.11V357.41H40.30M34.11 356.35H32.09V358.10H44.00M41.42 353.75H31.64V357.22H32.09M44.00 358.30H42.58V358.50H44.00M42.58 358.40H41.89V358.70H44.00M41.89 358.55H40.95V358.90H44.00M31.64 355.49H30.91V358.73H40.95M44.00 359.10H42.53V359.30H44.00M44.00 359.50H42.64V359.70H44.00M42.64 359.60H41.80V359.90H44.00M42.53 359.20H39.77V359.75H41.80M44.00 360.10H42.59V360.30H44.00M44.00 360.50H42.78V360.70H44.00M44.00 361.10H42.70V361.30H44.00M44.00 361.50H42.63V361.70H44.00M44.00 362.10H42.60V362.30H44.00M44.00 361.90H41.78V362.20H42.60M41.78 362.05H40.85V362.50H44.00M40.85 362.28H40.23V362.70H44.00M40.23 362.49H38.72V362.90H44.00M42.63 361.60H38.52V362.69H38.72M42.70 361.20H36.38V362.15H38.52M44.00 363.50H42.82V363.70H44.00M44.00 363.30H41.95V363.60H42.82M44.00 363.10H40.50V363.45H41.95M36.38 361.67H34.53V363.28H40.50M44.00 364.30H42.77V364.50H44.00M44.00 364.10H41.81V364.40H42.77M41.81 364.25H40.66V364.70H44.00M44.00 363.90H40.23V364.48H40.66M40.23 364.19H39.91V364.90H44.00M39.91 364.54H39.28V365.10H44.00M39.28 364.82H38.03V365.30H44.00M38.03 365.06H36.65V365.50H44.00M34.53 362.47H31.14V365.28H36.65M44.00 360.90H30.75V363.88H31.14M42.78 360.60H30.55V362.39H30.75M44.00 365.70H42.69V365.90H44.00M44.00 366.10H42.86V366.30H44.00M42.69 365.80H40.72V366.20H42.86M40.72 366.00H40.28V366.50H44.00M30.55 361.49H30.35V366.25H40.28M42.59 360.20H30.15V363.87H30.35M39.77 359.48H28.73V362.04H30.15M30.91 357.11H26.31V360.76H28.73M34.63 351.40H21.58V358.93H26.31M41.88 349.55H21.38V355.16H21.58M44.00 367.50H42.67V367.70H44.00M44.00 367.30H41.75V367.60H42.67M41.75 367.45H40.81V367.90H44.00M44.00 367.10H40.18V367.68H40.81M40.18 367.39H38.85V368.10H44.00M44.00 366.90H38.59V367.74H38.85M44.00 368.30H42.57V368.50H44.00M38.59 367.32H37.55V368.40H42.57M44.00 366.70H36.39V367.86H37.55M21.38 352.36H21.18V367.28H36.39M28.61 343.00H16.00V359.82H21.18" fill="none" stroke="#1898c4" stroke-width="0.25" stroke-opacity="0.8"/>
<rect x="227.10" y="26.90" width="12.32" height="7.38" fill="#f41c18"/>
<rect x="251.74" y="26.90" width="12.32" height="7.38" fill="#f41c18"/>
<rect x="251.74" y="33.68" width="12.32" height="7.38" fill="#ffb400"/>
<rect x="227.10" y="33.68" width="12.32" height="7.38" fill="#ff5a10"/>
<rect x="227.10" y="40.46" width="12.32" height="7.38" fill="#ff630e"/>
<rect x="227.10" y="47.24" width="12.32" height="7.38" fill="#ff6c0d"/>
<rect x="227.10" y="54.02" width="12.32" height="7.38" fill="#ff750b"/>
<rect x="227.10" y="60.80" width="12.32" height="7.38" fill="#ff7e0a"/>
<rect x="227.10" y="67.58" width="12.32" height="7.38" fill="#ff8708"/>
<rect x="227.10" y="74.36" width="12.32" height="7.38" fill="#ff9006"/>
<rect x="227.10" y="81.14" width="12.32" height="7.38" fill="#ff9905"/>
<rect x="227.10" y="87.92" width="12.32" height="7.38" fill="#ffa203"/>
<rect x="227.10" y="94.70" width="12.32" height="7.38" fill="#ffab02"/>
<rect x="227.10" y="101.48" width="12.32" height="7.38" fill="#ffb400"/>
<rect x="227.10" y="108.26" width="12.32" height="7.38" fill="#ffb400"/>
<rect x="227.10" y="115.05" width="12.32" height="7.38" fill="#ffb400"/>
<rect x="227.10" y="121.83" width="12.32" height="7.38" fill="#ffb400"/>
<rect x="227.10" y="128.61" width="12.32" height="7.38" fill="#ffb400"/>
<rect x="239.42" y="135.39" width="12.32" height="7.38" fill="#ffb400"/>
<rect x="239.42" y="142.17" width="12.32" height="7.38" fill="#ffb400"/>
<rect x="239.42" y="148.95" width="12.32" height="7.38" fill="#ffb400"/>
<rect x="239.42" y="155.73" width="12.32" height="7.38" fill="#ffb400"/>
<rect x="239.42" y="162.51" width="12.32" height="7.38" fill="#ffb400"/>
<rect x="239.42" y="169.29" width="12.32" height="7.38" fill="#ffb400"/>
<rect x="239.42" y="176.07" width="12.32" height="7.38" fill="#ffb400"/>
<rect x="264.06" y="182.85" width="12.32" height="7.38" fill="#ff4a10"/>
<rect x="264.06" y="189.63" width="12.32" height="7.38" fill="#ff590e"/>
<rect x="264.06" y="196.41" width="12.32" height="7.38" fill="#ff680b"/>
<rect x="264.06" y="203.19" width="12.32" height="7.38" fill="#ff7709"/>
<rect x="264.06" y="209.97" width="12.32" height="7.38" fill="#ff8707"/>
<rect x="264.06" y="216.75" width="12.32" height="7.38" fill="#ff9605"/>
<rect x="264.06" y="223.53" width="12.32" height="7.38" fill="#ffa502"/>
<rect x="264.06" y="230.31" width="12.32" height="7.38" fill="#ffb400"/>
<rect x="264.06" y="237.09" width="12.32" height="7.38" fill="#ffb400"/>
<rect x="264.06" y="243.87" width="12.32" height="7.38" fill="#ffb400"/>
<rect x="337.98" y="203.19" width="12.32" height="7.38" fill="#ff5020"/>
<rect x="276.38" y="250.65" width="12.32" height="7.38" fill="#ffb400"/>
<rect x="301.02" y="250.65" width="12.32" height="7.38" fill="#ffb400"/>
<rect x="288.70" y="257.43" width="12.32" height="7.38" fill="#ffb400"/>
<rect x="288.70" y="264.21" width="12.32" height="7.38" fill="#ffb400"/>
<rect x="288.70" y="270.99" width="12.32" height="7.38" fill="#ffb400"/>
<rect x="301.02" y="277.77" width="12.32" height="7.38" fill="#ffb400"/>
<rect x="301.02" y="284.55" width="12.32" height="7.38" fill="#ffb400"/>
<rect x="313.34" y="291.34" width="12.32" height="7.38" fill="#ff5010"/>
<rect x="313.34" y="298.12" width="12.32" height="7.38" fill="#ffb400"/>
<rect x="313.34" y="304.90" width="12.32" height="7.38" fill="#ffb400"/>
<rect x="325.66" y="311.68" width="12.32" height="7.38" fill="#ffc228"/>
<rect x="325.66" y="318.46" width="12.32" height="7.38" fill="#ffc228"/>
<rect x="325.66" y="325.24" width="12.32" height="7.38" fill="#ffc228"/>
<rect x="337.98" y="332.02" width="12.32" height="7.38" fill="#ff5010"/>
<rect x="337.98" y="338.80" width="12.32" height="7.38" fill="#ffb400"/>
<rect x="337.98" y="345.58" width="12.32" height="7.38" fill="#ffb400"/>
<rect x="337.98" y="352.36" width="12.32" height="7.38" fill="#ffb400"/>
<rect x="337.98" y="359.14" width="12.32" height="7.38" fill="#ffb400"/>
<rect x="337.98" y="365.92" width="12.32" height="7.38" fill="#ffb400"/>
<rect x="227.10" y="26.90" width="123.20" height="345.80" fill="none" stroke="#8e8e8e" stroke-width="0.9"/>
<text class="s" transform="translate(354.9 32.35) scale(1 1)" font-size="6.86" xml:space="preserve">RNA polymerase II transcription factor activity</text>
<text class="s" transform="translate(354.9 39.13) scale(1 1)" font-size="6.86" xml:space="preserve">transcription, DNA-templated</text>
<text class="s" transform="translate(354.9 45.91) scale(1 1)" font-size="6.86" xml:space="preserve">regulation of cyclin-dependent protein serine/threonine kinase activity</text>
<text class="s" transform="translate(354.9 52.69) scale(1 1)" font-size="6.86" xml:space="preserve">DNA binding</text>
<text class="s" transform="translate(354.9 59.47) scale(1 1)" font-size="6.86" xml:space="preserve">guanyl-nucleotide exchange factor activity</text>
<text class="s" transform="translate(354.9 66.25) scale(1 1)" font-size="6.86" xml:space="preserve">protein kinase binding</text>
<text class="s" transform="translate(354.9 73.03) scale(1 1)" font-size="5.2" xml:space="preserve">nucleus</text>
<text class="s" transform="translate(354.9 79.81) scale(1 1)" font-size="6.86" xml:space="preserve">amino acid transmembrane transporter activity</text>
<text class="s" transform="translate(354.9 86.59) scale(1 1)" font-size="6.86" xml:space="preserve">transmembrane transport</text>
<text class="s" transform="translate(354.9 93.37) scale(1 1)" font-size="6.86" xml:space="preserve">tryptophan metabolic process</text>
<text class="s" transform="translate(354.9 100.15) scale(1 1)" font-size="6.86" xml:space="preserve">tryptophan synthase activity</text>
<text class="s" transform="translate(354.9 106.93) scale(1 1)" font-size="6.86" xml:space="preserve">amino acid transmembrane transport</text>
<text class="s" transform="translate(354.9 113.71) scale(1 1)" font-size="6.86" xml:space="preserve">hydrolase activity</text>
<text class="s" transform="translate(354.9 120.50) scale(1 1)" font-size="6.86" xml:space="preserve">mannosyltransferase activity</text>
<text class="s" transform="translate(354.9 127.28) scale(1 1)" font-size="6.86" xml:space="preserve">small GTPase mediated signal transduction</text>
<text class="s" transform="translate(354.9 134.06) scale(1 1)" font-size="6.86" xml:space="preserve">transmembrane transporter activity</text>
<text class="s" transform="translate(354.9 140.84) scale(1 1)" font-size="6.86" xml:space="preserve">cyclin-dependent protein serine/threonine kinase inhibitor activity</text>
<text class="s" transform="translate(354.9 147.62) scale(1 1)" font-size="6.86" xml:space="preserve">transport of virus in hos, cell to cell</text>
<text class="s" transform="translate(354.9 154.40) scale(1 1)" font-size="6.86" xml:space="preserve">protein homodimerization activity</text>
<text class="s" transform="translate(354.9 161.18) scale(1 1)" font-size="6.86" xml:space="preserve"> dynein complex binding</text>
<text class="s" transform="translate(354.9 167.96) scale(1 1)" font-size="6.86" xml:space="preserve">sucrose synthase activity</text>
<text class="s" transform="translate(354.9 174.74) scale(1 1)" font-size="6.86" xml:space="preserve">sucrose metabolic process</text>
<text class="s" transform="translate(354.9 181.52) scale(1 1)" font-size="6.86" xml:space="preserve">sructural consituent of cytoskeleton</text>
<text class="s" transform="translate(354.9 188.30) scale(1 1)" font-size="6.86" xml:space="preserve">hydrolase activity</text>
<text class="s" transform="translate(354.9 195.08) scale(1 1)" font-size="6.86" xml:space="preserve">oxidoreductase activity</text>
<text class="s" transform="translate(354.9 201.86) scale(1 1)" font-size="6.86" xml:space="preserve">carbohydrate metabolic process</text>
<text class="s" transform="translate(354.9 208.64) scale(1 1)" font-size="6.86" xml:space="preserve">oxidation-reduction process</text>
<text class="s" transform="translate(354.9 215.42) scale(1 1)" font-size="6.86" xml:space="preserve">flavin adenine dinucleotide binding</text>
<text class="s" transform="translate(354.9 222.20) scale(1 1)" font-size="6.86" xml:space="preserve">oxidoreductase activity, acting on CH-OH group of donors</text>
<text class="s" transform="translate(354.9 228.98) scale(1 1)" font-size="6.86" xml:space="preserve">oxidoreductase activity</text>
<text class="s" transform="translate(354.9 235.76) scale(1 1)" font-size="6.86" xml:space="preserve">iron ion binding</text>
<text class="s" transform="translate(354.9 242.54) scale(1 1)" font-size="6.86" xml:space="preserve">N-dimethylaniline monooxygenase activity</text>
<text class="s" transform="translate(354.9 249.32) scale(1 1)" font-size="6.86" xml:space="preserve">catalytic activity</text>
<text class="s" transform="translate(354.9 256.10) scale(1 1)" font-size="6.86" xml:space="preserve">ATP binding</text>
<text class="s" transform="translate(354.9 262.88) scale(1 1)" font-size="6.86" xml:space="preserve">protein binding</text>
<text class="s" transform="translate(354.9 269.66) scale(1 1)" font-size="6.86" xml:space="preserve">cell morphogenesis</text>
<text class="s" transform="translate(354.9 276.44) scale(1 1)" font-size="6.86" xml:space="preserve">protein folding</text>
<text class="s" transform="translate(354.9 283.22) scale(1 1)" font-size="6.86" xml:space="preserve">microtubule motor activity</text>
<text class="s" transform="translate(354.9 290.00) scale(1 1)" font-size="6.86" xml:space="preserve">microtubule-based movement</text>
<text class="s" transform="translate(354.9 296.79) scale(1 1)" font-size="6.86" xml:space="preserve">DNA integration</text>
<text class="s" transform="translate(354.9 303.57) scale(1 1)" font-size="6.86" xml:space="preserve">rRNA processing</text>
<text class="s" transform="translate(354.9 310.35) scale(1 1)" font-size="6.86" xml:space="preserve">cytochrome-c oxidase activity</text>
<text class="s" transform="translate(354.9 317.13) scale(1 1)" font-size="6.86" xml:space="preserve">glycerol-3-phosphate dehydrogenase [NAD+] activity</text>
<text class="s" transform="translate(354.9 323.91) scale(1 1)" font-size="6.86" xml:space="preserve">anion transmembrane transporter activity</text>
<text class="s" transform="translate(354.9 330.69) scale(1 1)" font-size="6.86" xml:space="preserve">kinetochore</text>
<text class="s" transform="translate(354.9 337.47) scale(1 1)" font-size="6.86" xml:space="preserve">mRNA methyltransferase activity</text>
<text class="s" transform="translate(354.9 344.25) scale(1 1)" font-size="6.86" xml:space="preserve">mRNA methylation</text>
<text class="s" transform="translate(354.9 351.03) scale(1 1)" font-size="6.86" xml:space="preserve">ATPase activity</text>
<text class="s" transform="translate(354.9 357.81) scale(1 1)" font-size="6.86" xml:space="preserve">RNA-directed RNA polymerase activity</text>
<text class="s" transform="translate(354.9 364.59) scale(1 1)" font-size="6.86" xml:space="preserve">nutrient reservoir activity</text>
<text class="s" transform="translate(354.9 371.37) scale(1 1)" font-size="6.86" xml:space="preserve">RNA processing</text>
<text x="3.9" y="16.3" font-size="17.2">A</text><text x="214.2" y="16.4" font-size="17.2">B</text><text x="47.4" y="382" font-size="10.5">S0</text><text x="69.4" y="382" font-size="10.5">S2</text><text x="91.4" y="382" font-size="10.5">S4</text><text x="113.4" y="382" font-size="10.5">S6</text><text x="135.4" y="382" font-size="10.5">S8</text><text x="161.5" y="56.90" font-size="11">C1</text><text x="161.5" y="107.70" font-size="11">C2</text><text x="161.5" y="138.80" font-size="11">C3</text><text x="161.5" y="168.30" font-size="11">C4</text><text x="161.5" y="194.90" font-size="11">C5</text><text x="161.5" y="233.20" font-size="11">C6</text><text x="161.5" y="267.60" font-size="11">C7</text><text x="161.5" y="296.60" font-size="11">C8</text><text x="161.5" y="324.00" font-size="11">C9</text><text x="161.5" y="356.90" font-size="11">C10</text><text x="227.1" y="381.2" font-size="8.68">C1 C2 C3 C4 C5 C6 C7 C8 C9 C10</text>
</svg></body></html>
